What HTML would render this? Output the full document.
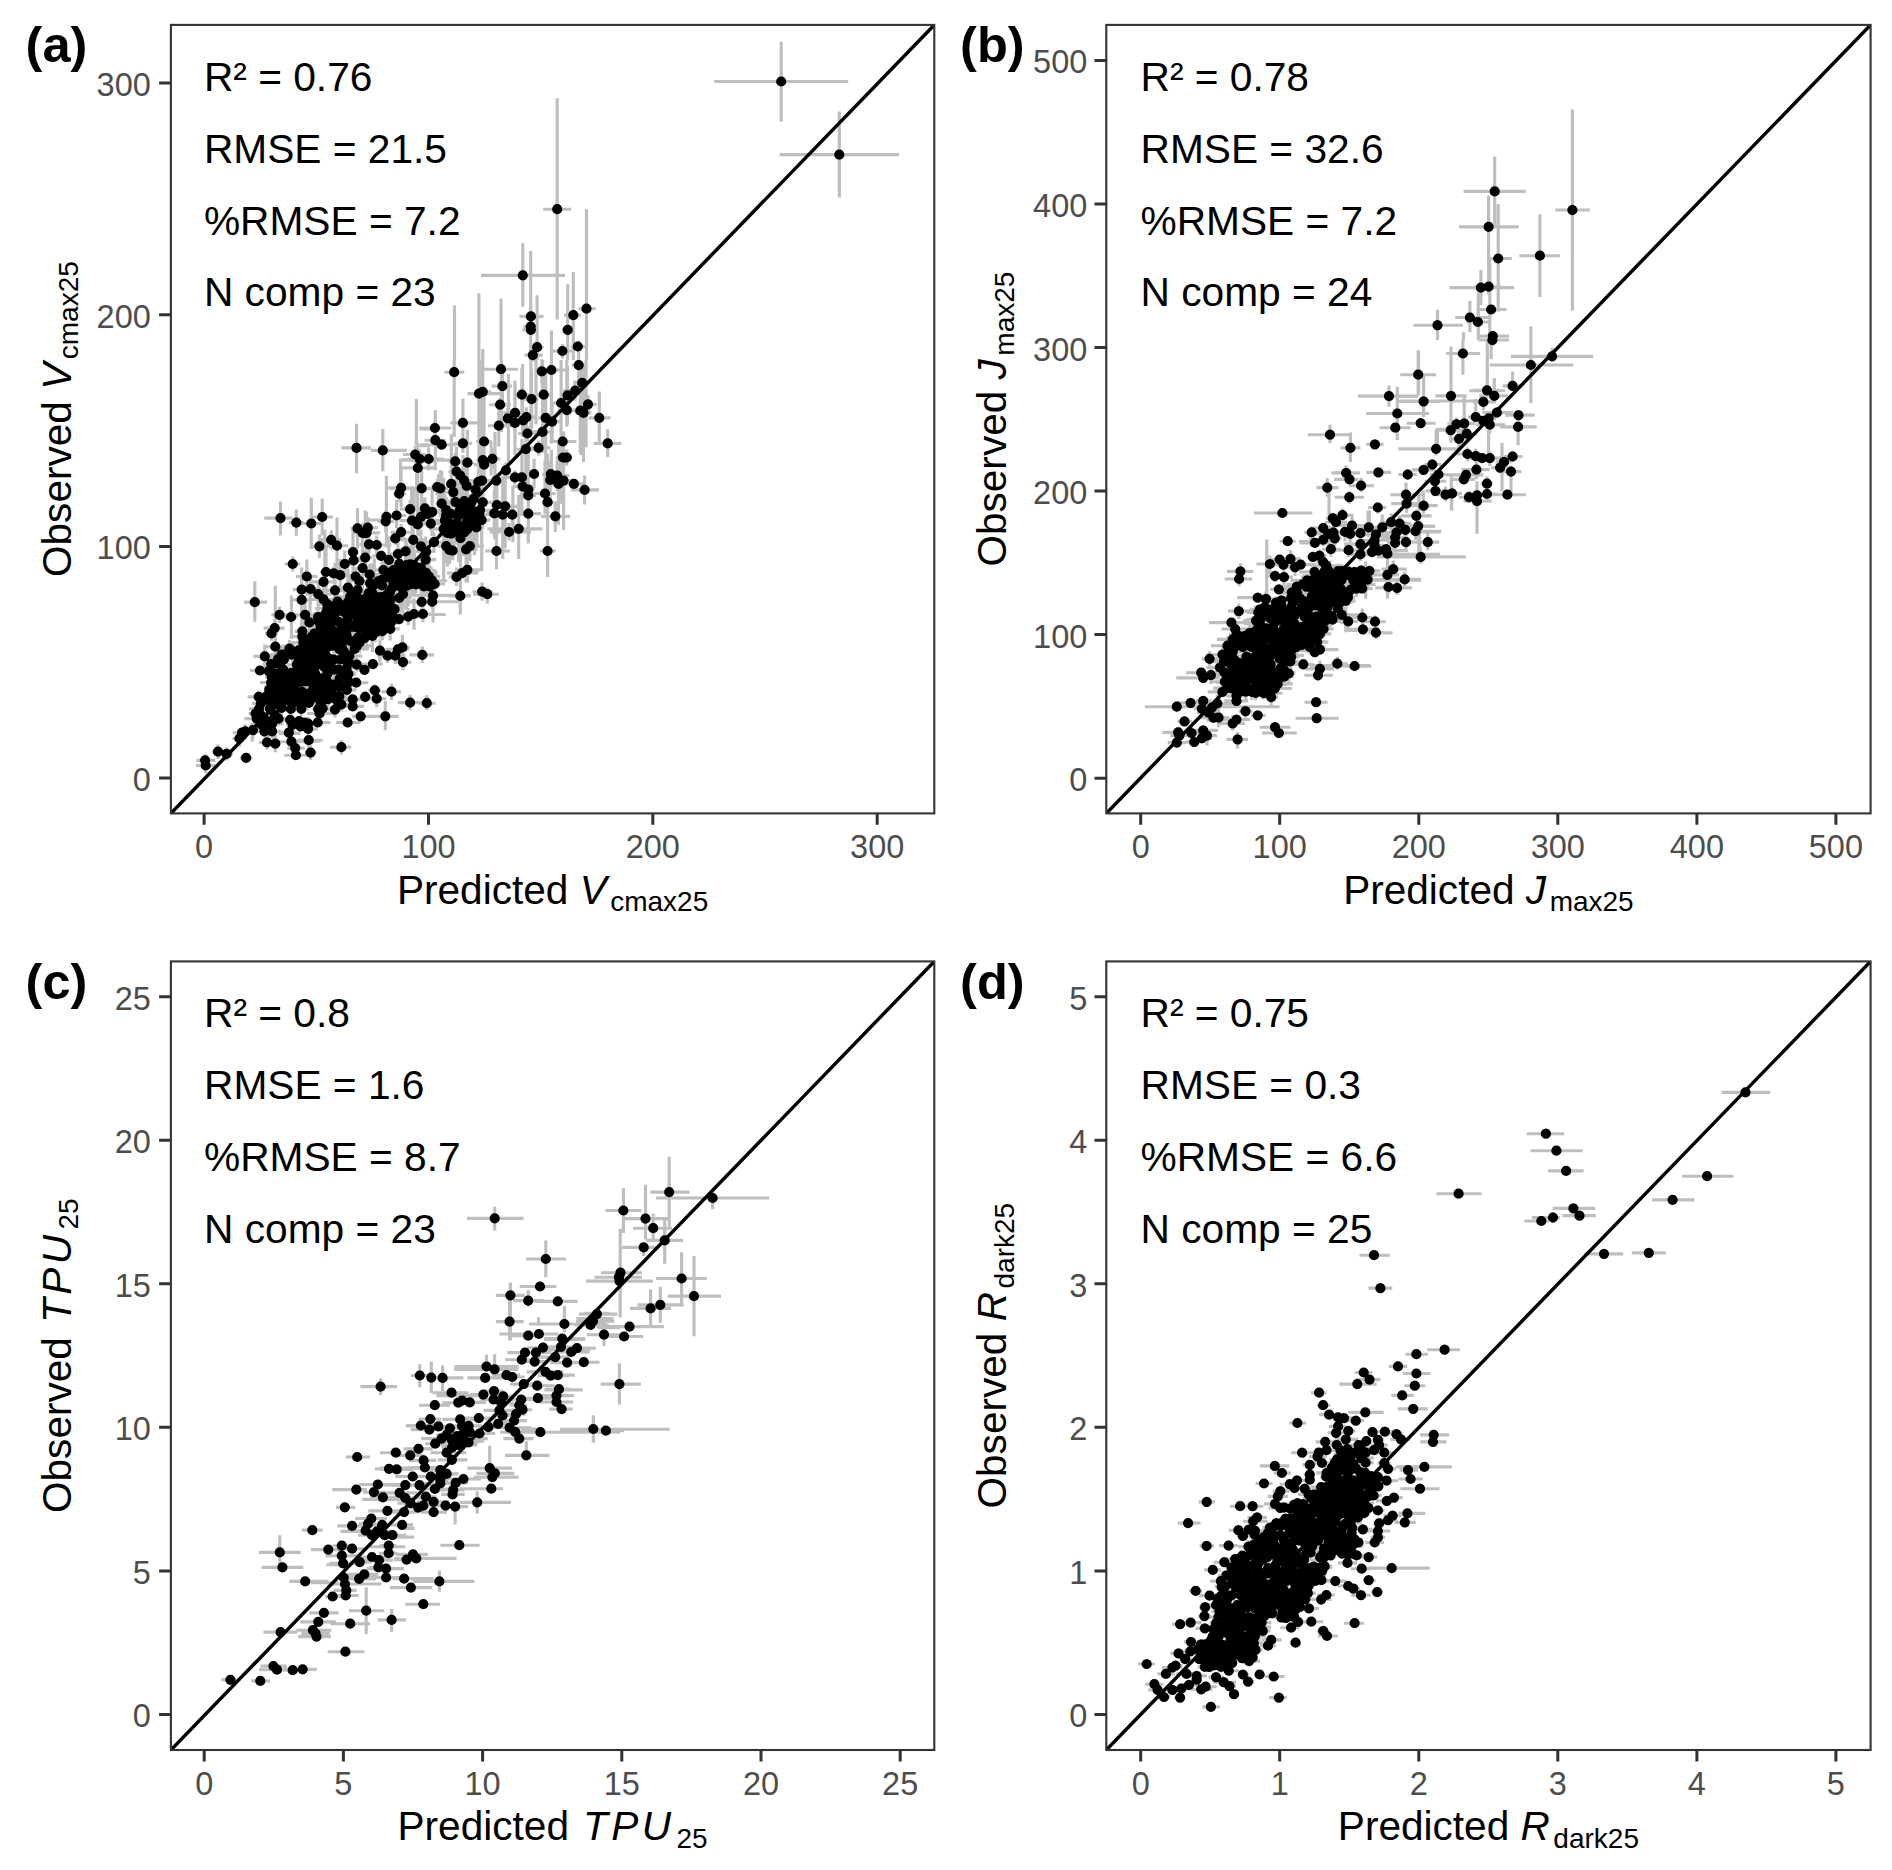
<!DOCTYPE html>
<html><head><meta charset="utf-8"><title>Observed vs predicted</title>
<style>
html,body{margin:0;padding:0;background:#fff;}
body{width:1892px;height:1870px;overflow:hidden;font-family:"Liberation Sans",sans-serif;}
svg{display:block;}
text{font-family:"Liberation Sans",sans-serif;}
.tk{font-size:32.5px;fill:#4D4D4D;}
.an{font-size:40.7px;fill:#000;}
.lb{font-size:50.5px;font-weight:bold;fill:#000;}
.tt{font-size:40.6px;fill:#000;}
</style></head><body>
<svg width="1892" height="1870" viewBox="0 0 1892 1870">
<rect width="1892" height="1870" fill="#fff"/>
<g id="panel-a">
<clipPath id="clipa"><rect x="170.9" y="24.9" width="763.4" height="788.5"/></clipPath>
<g clip-path="url(#clipa)">
<path d="M714.1 81.5H848.2M781.2 41.8V121.7M779.6 154.6H899.1M839.3 111.6V197.5M196.5 760.3H215.2M205.1 754.3V766.4M196 765.5H215.4M205.7 757.7V773.2M212.2 751.7H222.8M218 744.6V758.9M221.2 753.9H232.9M226.6 747.2V760.6M239.8 757.8H252.4M246.1 753.6V761.9M232.5 738.5H246.2M239.4 730.4V746.6M232.8 732.7H251.1M242 727V738.5M238 731.4H253.8M245.2 724.2V738.7M245.4 730.2H259.8M252.9 722.6V737.8M243.9 602.1H267M254.8 581.3V621.7M271.3 614.9H287.3M279.5 606.8V623M284.5 617H297.7M291.1 611.5V622.4M295.1 614.9H314.2M305.1 601.5V628.3M263.6 628.1H284.6M274.7 619.1V637.2M265.1 633.3H277.8M271.5 625.7V640.8M265.2 646.7H285.2M275.3 633.6V659.8M253.4 656.4H278M264.8 644.4V668.3M249.8 670.5H272.1M259.9 665.9V675M247.5 696.8H268.9M258.7 690.4V707.3M292 599.9H311.7M301.7 573.9V625.9M292.8 589.6H311.8M301.7 567.5V611.7M299.1 589H320.8M310.6 574.5V604.1M305.7 594.1H331.8M318.3 580.6V608.3M310.8 599.3H337.2M323.5 583.5V615M295 631.3H310.3M302.3 624.2V638.5M290.5 636.5H313.1M302.3 632.2V640.7M302.2 622.4H315.3M309.4 614.2V630.5M325.6 590.3H343.6M335 563V619.5M338.2 587.7H356.8M347.9 568.4V607M310.8 581.9H336.9M323.5 572.3V591.5M390.1 594.1H416.3M403 573.8V614.5M388.6 598H411.6M399.2 573V622.9M409.7 601.8H435M421.7 591.9V611.8M405.9 614H422.4M414 598.3V629.7M410.9 614H434.4M422.9 605.8V622.2M396.5 616.6H421.1M408.2 607.9V625.3M378.3 628.8H399.7M390.2 612.6V640.5M374.9 650.6H385.4M379.9 639.2V662M377.4 655.7H399.5M387.6 648.4V663.1M386.9 655.7H405.2M395.3 647.4V664.1M394.9 647.4H409.9M402.4 634.7V660M385.3 649.3H408.8M397.9 644.2V654.4M394.7 662.1H411.3M403 654.1V670.2M409.4 654.8H433.9M422.3 646.6V663.1M362.2 664.1H382.7M372.9 660.9V667.2M358.5 669.8H369.5M364.5 665.4V674.3M350.7 664.7H363.3M356.8 657.9V671.5M346 682.7H368.3M356.2 678.5V686.9M336.5 686.5H352.4M345.3 679.2V693.8M368.4 690.4H380.8M374.8 684.3V696.5M366.8 698.7H386.2M376.7 690.3V707.2M359.5 696.8H371.4M365.2 691.1V702.5M381.5 691.7H401M391.5 683.4V699.9M341.4 699.4H363.9M352.7 695.1V703.6M342 706.4H364.1M352.7 702.1V710.7M397.9 702.6H424.6M410.1 694.8V710.3M418.6 703.2H435.4M426.8 695.3V710.3M352.2 716.3H370.1M360.7 713.1V719.5M367.8 716.3H398.6M385.3 701.3V730.2M336.1 722.5H360.5M347.6 717.4V727.5M330.1 747.2H351.2M341.4 739.9V754.6M297 740.2H322.5M308.7 731.5V748.9M305 752.6H316.4M310.6 745.2V760M285.8 755.2H307.4M295.9 750.3V760.1M287.2 748.1H304.6M295.2 740V756.2M278.6 741.7H304.5M291.4 735.5V747.9M279.8 732.7H296.1M288.8 726.6V738.8M258.8 742.4H275.4M267 735.2V749.5M269.8 743.6H280.7M275.3 735.1V752.2M261.1 728.9H274.4M268.3 721V736.8M259.9 723.7H283.5M272.1 717V730.5M244.3 718.6H270.5M256.7 714.4V722.8M248.6 713.5H261.8M255.5 706.8V720.2M275.8 719.9H299.1M290.1 711.9V724.4M292.5 721.2H305.5M299.1 715.7V726.7M298.8 723.7H316.2M308.1 716.9V730.6M298.8 728.9H317.7M308.1 724.5V733.3M306.8 722.5H330.4M317.7 717.6V727.3M307.2 713.5H334.5M319.6 709.7V717.3M328.1 709.6H341.3M335 701.6V717.6M333.1 704.5H348.6M341.4 697.4V711.6M256.7 716H267.4M261.9 707.2V724.9M272.6 718.6H285.1M278.6 711.5V725.7M268.2 714.8H280.2M274.7 708.4V721.1M257.9 721.2H274.8M267 717V725.4M250.1 725H275.6M261.9 721.7V728.4M251.8 731.4H278.4M264.4 725.6V737.2M263 731.4H281.6M272.1 724.2V738.7M286.1 725H299.3M292.7 716.7V733.4M289 726.3H313.4M300.4 720.9V731.7M294.4 722.5H315.9M304.2 717.9V727M355.6 593H383.2M368.6 573.8V612.3M363.5 592.9H386.6M372.3 563.4V621.3M337.1 596.9H364.3M350.1 575.7V618.2M345.6 596.5H369.5M356.5 577.2V615.7M361.8 597.3H372.6M367.3 587.2V607.3M371.2 597.1H383.4M377.2 588.9V605.4M370.6 597H393.8M380.8 570.9V623.2M374.5 595.6H396.5M386.5 579.4V611.9M326.1 601.6H347M337.5 590V613.6M338.9 601.5H356.1M348.3 586.8V616.2M340.7 601H362.7M351.6 590.5V615.1M346.3 600.2H371.7M359 588.4V615.1M368 600.6H390.5M379.4 584.3V617.4M380.2 601.4H399.8M389.8 587.7V615.2M324.5 606H342.9M334.4 594.7V617.4M333.2 605.2H357M344.4 596.3V617.2M340.8 605.8H360.1M349.6 596.8V614.7M350.1 606.1H373.9M359.5 598.1V617.9M352.1 604.4H378M364.6 596.6V611.7M367.6 606.1H380.6M372.7 597.8V617.1M370.2 605.4H388M380.6 592.7V623.7M375.6 604.1H396.1M386 592.2V615.2M315.1 608.5H341M327.3 599.8V620.1M322 609.6H347.5M333.7 597.5V622.1M331 610.9H354.8M341.4 595.9V625.8M342.7 610.8H364.2M352.3 606.1V617.3M353 608.9H375.2M363.9 605.5V612.4M358.9 608.4H378.1M368.5 600.9V615.8M370.7 610.4H389.7M379.6 599.5V620.4M375.2 610.9H395.7M384.4 597.8V626.2M379.6 610.3H402.1M390.7 601.8V624.4M384 609.2H404M394.6 603.4V615.1M313.2 613.5H338M325.6 601V625.9M322.3 614H344.9M334.3 602.9V625.1M334.1 613.9H357.8M346.6 601.6V624.6M339.8 615H367.7M350.9 602.5V627.5M350.4 613.4H361.7M356.1 607.1V619.6M349.7 613.4H371.5M361.1 608.2V618.6M361.7 612.6H385.6M372.7 600.5V623.3M365.6 613.6H388.1M376.8 604.1V623.2M382.3 615.3H408M392.2 607.1V625.2M307 617.1H328.8M318.1 607.7V632M320.8 619.3H334.7M327.8 608.4V630.3M326.3 620.1H337.3M331.6 610.7V629.5M336.4 619.5H355.3M347.4 612.6V631.8M350.8 618.1H365.9M358.8 605V631.3M350.1 618.1H376.5M362.6 609.7V626.6M355.9 618.2H381.4M368 605.2V630.2M363.2 617.1H382M372.9 610.7V623.5M369.3 617.8H388.7M379.6 609V626.6M376.5 619.7H390.3M383.8 613V626.5M386.2 619.2H410.2M398.9 614V624.4M309.2 621.6H327.9M318.9 617.4V625.9M315.3 623.3H335.8M325.6 613.4V633.2M319.8 624.5H339.5M329.8 613.6V635.3M328.5 621.9H349.6M338.5 614V626.5M345 622.5H370.2M357.1 607.1V638M352.9 622H370.3M361.8 611.9V632M358.7 622.3H370.6M365.1 618.8V625.8M360.6 621.8H381.5M371.8 613.6V630.1M370.5 623.8H391.2M381.2 609.5V638M377 622.8H398.2M387 613.5V632.1M381.4 622.1H402.6M391.1 613.4V630.8M308.2 626.5H333.1M320.6 621.6V631.5M325.1 628.8H336.4M330.8 617.9V639.8M332 626.2H351.6M342.2 609.1V643.2M337.4 628.6H362.8M347.6 621.7V640.4M348.7 627H359.8M353.8 614.9V639M347.7 628.3H371.8M359.1 616.6V640.1M350.8 628.2H375.7M363.1 621.7V634.8M359 628.6H378.3M369.1 623.6V633.6M362.3 628.3H385M373.2 624.5V632.2M369.5 627.4H386.9M378.5 618.3V636.4M379.5 627H391.1M385.4 621.2V632.8M305.5 633.5H323.9M314.3 617.2V649.7M305.9 633.3H330.4M318.9 618.4V648.1M312.5 633H340.3M325.4 622.7V643.4M328.2 631.4H340M333.8 621.2V641.6M328.9 632.9H351.6M341.1 629.3V636.6M360.3 632.7H376.5M366.3 621V644.4M358.6 631.6H385.7M371.5 625.3V638M363.7 632.5H386.6M375.2 622.8V642.2M374.9 631.2H388.9M382.2 622.3V640.2M303.1 636.5H321.1M311.8 619.1V653.9M315.3 636.5H337.8M325.6 631.1V641.9M325.5 637.4H338.5M331.8 626.9V647.8M329.4 637.5H348.1M338.1 629.1V645.8M336.2 636.7H347.5M342.1 630V643.3M339.2 635.3H353.2M346.6 631.5V639M346.2 637.7H372.1M358 628.9V646.5M359.4 638.1H371.6M364.5 630.6V646M360.1 635.8H384.7M372.4 619.4V652.2M290 642.6H314.5M303.3 636.5V651.6M300.1 641.4H319M309.1 637.2V645.5M301.4 642H324.1M313.2 629.8V657.7M308.7 640.5H332.4M320.2 632.9V648.1M324.7 641.3H347.3M335.6 632.8V649.9M332.8 640.9H348.7M340.9 631.1V650.7M345 641.2H357.9M350.9 632.3V650.2M354.3 642.3H364.6M359.6 631.5V653M293.6 647H317.8M305.1 640.3V658.8M317.3 644.8H327.2M322.5 640.2V649.5M319.7 644.9H335.2M326.9 630.1V659.6M323.2 645.7H343.4M332.5 641.1V650.3M330.9 645.4H352.6M341.7 639.9V651M344 645.8H371.7M356.9 638.8V652.8M279.6 648.6H299.5M289.4 639.9V657.2M286.2 651.6H305.6M293.2 642.2V662.2M287.9 650.2H307.8M299 633.8V666.5M301.4 650.7H318.4M308.2 644.1V660.7M304.6 649.6H325.2M314.9 641V658.1M307.5 649.5H330.4M318.3 640.7V658.2M310.6 649.2H335.7M323.6 638.9V659.5M328.7 649.4H351.9M339.6 642.1V656.7M337.1 651.4H351.6M343.8 638.6V664.3M342.5 648.9H368.8M354.6 643.6V654.3M269.9 654.5H292M281.7 645.6V663.3M279.9 654.3H293.1M286.2 650.7V657.8M282.8 654.6H298.6M291.5 650.7V658.5M288.8 654.5H315.6M301.1 645.9V663M298.2 656.1H317.1M306.2 644.1V668.2M305.4 654.6H324.4M315 646.5V662.7M313.7 656.1H331.8M322.2 642.4V669.8M317.8 655.9H336.1M326.2 649.2V662.5M337.2 655.9H362.1M349.3 645.9V667.4M270.2 659.1H284.8M278 650.9V667.3M276.1 659.7H290.2M283.7 644.6V674.8M291.1 660.6H306.5M298.8 657.4V663.8M293.8 659.2H314.4M304.7 653.8V664.6M305.4 660.6H323.2M313.9 653.7V667.4M311.2 660.4H330M320.6 652.8V668M324.4 659H337.1M330.2 655.6V662.3M328 659.7H342.8M334 650.5V668.9M329.9 659.5H349.3M340.6 656.3V662.6M332.2 659H357.4M344.8 645.4V672.6M262.7 664.1H278.8M271.2 657.9V670.3M271.4 663.1H282.2M276.5 656.4V669.8M287.1 664.7H307.5M296.8 658.2V671.2M290.8 664.3H308.2M300.2 659.3V669.2M297.4 665H316.4M306.9 658.3V671.8M301.2 664.1H322.5M312.6 658.4V669.9M304 665.2H330.6M316.7 660.4V671.1M317.3 662.9H335.4M326.6 659V666.8M338.3 662.7H361.1M348.9 656.8V668.5M277.3 669.3H293.8M283.1 662.3V680.1M283 668.3H307.9M297.7 664.6V677.7M297.1 668.4H308.8M303 663.5V673.3M298.1 668.9H322.8M310 663.6V678.9M312.8 667.4H337.6M324.8 660V674.9M317.4 667.8H343.5M329.4 664.3V671.2M323.3 669.6H344.4M334 660.7V678.6M327.1 669.7H346.3M338.6 663.3V680.9M336.8 667.9H355M346.6 659.5V676.3M260 671.1H277M268.8 663.1V679.1M261.5 673H286.8M274 665.1V681M270.4 673.3H288.8M279.4 664.8V682.8M280.4 673H300M291.1 667.7V678.3M293.3 671.6H311.5M302.3 667.4V675.7M308.8 673.6H320.2M315.1 668.4V678.9M319.7 673.9H341.4M327.3 669.7V680.4M330.3 672.3H354.8M342.9 667V677.5M341.2 673.9H356.4M348.4 666.7V681.1M265.1 676.5H279.1M271.7 672V681.1M265.3 677.7H289.2M277.1 674.7V680.7M275.3 677.1H298.6M287.1 671.7V682.4M282.1 677.9H304.2M292.6 673.7V682.1M290.4 676H307.8M298.7 669V683.1M299.8 675.7H311M305.1 669.4V682M299.8 676.7H321.8M309.9 670.2V684.2M310.2 678.3H330.2M319.9 673.6V684.5M320.2 677.5H329.9M325.2 671.5V683.6M327.9 678.5H347.4M339.6 674.9V685.2M338.6 675.8H350.9M344.8 668.2V683.3M259.9 682.5H287M271.1 674V691M272.4 682.6H290.7M281.5 674.4V693.8M278.2 681.8H291.6M284.6 676.3V687.3M285.3 682.3H296.4M291.2 676.4V688.3M289.8 681.2H302.9M296.2 674V688.4M291.4 682H313M301.3 675.1V688.9M295.6 681.3H315.3M305.8 673.5V689.1M301.8 682.7H321.3M311.9 674.9V690.5M309 682.4H332.9M321 677.7V687.2M321.5 680.9H332.6M326.7 676.8V685.1M337.5 681.9H360.7M348.9 678.3V685.4M264.1 687.1H284.3M273.5 682.5V692.4M270.1 686.4H285.7M278.4 681.9V691M277.4 685.7H299.2M289 677.8V693.6M287 685.2H308.5M294.6 679.3V691.4M322.9 685.7H335.9M329 681.6V689.8M326.7 684.6H341.2M333.5 680.4V688.7M332 687H346.4M339.4 679.2V694.7M263.9 689.7H274.8M269.3 683.4V696.1M274.3 690H283.8M279.5 684.8V695.1M279.4 690.7H291.1M285.2 685.6V695.8M286.5 691.9H307.4M296.8 685.7V698M291 691.8H313.4M302 688.5V695.1M306.7 689.5H318.9M312.8 684.7V694.4M306.9 689H329.9M317.8 685.6V692.5M310 691.4H332.6M322.4 686.3V696.4M320.6 690.4H340.7M331 684.6V696.3M336.8 689.8H356.4M346.9 684.9V694.7M259.2 696.6H274.1M266 688.6V704.7M264 696.2H288.1M273.5 688.9V702.9M277.8 694.7H289.4M283.4 688.9V700.5M277.6 695H294.5M287 690.5V699.4M281.7 694.2H303.6M292.3 686V702.4M290.9 695.9H305.2M298.7 692.5V699.2M294.3 696.4H315.8M304.2 687.5V705.4M298.5 693.6H319.2M308.6 690.5V696.6M306.5 696.3H334.5M319.5 693.2V699.3M323.5 694.4H334.8M329.2 687.8V701M321.7 696.1H347.5M334.5 693V699.2M330.4 696.4H347.7M339.3 693V704.2M259.3 700.7H277.1M269 696.9V704.4M264.3 699.7H288.8M275.7 693.7V705.7M274.7 698.1H286.2M280 694.4V701.8M274.9 700.3H296.9M286.1 695.6V704.9M278.7 700.9H299.7M289.9 692.1V709.7M286.9 701.2H309.1M296.6 694.4V709.7M294.1 701.1H315.5M305.7 694.4V707.7M305.7 698.2H320.3M312.6 693.7V702.7M312 699.8H333.3M323.1 696.1V709M320.3 699.2H338.6M328.2 692.2V706.1M327.6 700.6H347.3M337 693.4V710.5M251.9 703.5H271.1M260.8 695.7V711.4M265.7 705.1H282M273.4 696.2V714M287.8 702.7H299.8M293.4 694.6V710.9M293.8 702.9H311.7M302.2 694.7V711.1M297.2 703H321.3M308.9 699.8V706.3M315.2 704.4H325.8M320.6 700.2V708.7M248.8 708.9H270M259 705.7V712M260.5 708.7H279.6M269.9 704.3V713.1M272.5 708H291.1M281.6 701.1V714.8M281 709H300.6M290.9 704.7V713.3M294 708.8H308.5M301.3 701.5V716.1M312.5 709H324.1M318.2 702.3V715.7M312.8 708.4H334M322.7 702.1V715.3M341.4 447.9H371M356.5 423.7V473.2M371 450.4H406.9M382.8 428.9V471.2M403 454.5H426.2M415.2 446.5V463.4M407.3 459H430.6M419.7 449.6V468.5M407.9 468H428M417.8 443.1V492.5M416.7 459H443.9M428.7 447.6V470.5M388.2 487.9H414.1M401.1 467.1V507M393.4 493.7H405.9M399.2 483.8V501.9M410.5 488.3H431.2M421.7 470.8V505.8M399.7 509.1H419.4M410.1 500V518.2M413.6 508.4H436.9M424.9 497.4V519.5M264.2 518.1H292.7M280.5 501.4V535.4M289 522.6H303.3M296.3 509.4V535.7M300.1 523.5H322M311.3 497.8V549.1M311.7 517H332.8M322.2 498.6V535.5M381.3 516.8H391.4M386.4 508V525.6M377.5 521.3H394.3M385.7 510.2V532.4M385.4 515.5H406.1M396.6 509V522M399.4 520.6H425.8M412 491V551.1M411 524.5H423.7M417.8 512.7V536.3M410.8 516.8H430.1M421 509.1V524.5M350.6 528.3H365.1M357.5 508.2V548.5M352.8 532.8H371.2M362.6 522.7V543M358 527.7H378.1M367.8 517.1V538.3M354.7 532.8H380M366.5 511.8V553.9M390.6 532.2H410.6M401.1 523.9V540.5M385.4 538.4H405.7M395.3 531.9V544.8M320.6 539.9H341M331.2 530.2V549.6M326.9 545.7H348.1M337 517.5V573.8M310.8 546.3H328.5M319.4 534.5V558.1M359.6 544.4H378M369 534.7V554M364.1 545H391.4M376.7 535.6V554.5M400.5 539.9H424.9M413.3 521.3V558.5M409.3 546.3H431.1M421 529.5V562.7M411.7 551.4H435.6M426.1 544.8V560.2M347.5 552.1H358.7M353 527.3V576.9M342.9 560.4H366M353.6 549V571.9M334.9 564H355.1M344.7 550.6V577.5M358.5 557.6H372.2M365.2 549.9V565.3M372.5 555.9H389.5M381.2 550.6V561.2M383 559.8H394.9M388.9 536.5V583.1M388 554H406.9M397.9 533.2V574.8M396.8 551.4H413.1M405.6 539.3V564.4M284.6 564H300.2M292.7 556.5V571.5M356.9 568.1H368M362.6 541.7V594.6M394.9 564.9H420.6M406.9 542.2V590.5M402.5 565.6H427.8M414.6 552.7V582.1M295.8 576.5H317.5M306.8 559.6V593.3M319.9 572H331.6M326 546.4V597.6M325.2 573.3H341.7M333.7 566.9V579.6M330.9 575.2H351.1M340.2 558.7V591.7M348.1 576.5H362.4M355.6 567.3V585.7M348.3 581H368.7M359.4 577.1V584.9M360.8 574.5H379.6M369.7 565.3V583.8M376.3 577.1H397M387.6 569.4V584.9M391.2 578.4H411.2M400.5 547.8V609M398.4 584.2H425.8M410.7 571.1V597.7M412.1 581H428M421 560.9V601.3M382.7 588H403M392.1 579.4V598.9M388.5 563.8H408.7M399.3 557.2V570.5M390.8 567.8H404M397.9 554.9V580.7M398.8 567.7H424.2M411.6 546.1V589.4M409.8 567.8H432.6M421 563.8V571.8M374.3 570H391.4M383.4 554.3V585.7M380.7 572.5H393.8M387.1 562.9V582M380.8 570H404.5M393.5 562.7V577.3M407 571.8H434.9M420.1 563.3V579.5M410.9 572.8H437.7M426.1 556.4V594M386.8 574.3H407.4M396.8 560.2V588.4M398.1 576.2H417.5M407.1 558.6V593.9M406 577.5H423.8M412.9 567.9V587M406.2 576.6H428.5M418.4 563.5V589.6M416.1 576.6H440.2M429 553.3V601.8M367.7 581.3H387.1M378 573.8V588.8M374.4 579.8H388.4M382 562.2V597.4M383.4 581.5H405M393.3 575.7V587.3M396.8 579.6H423M408.1 555.4V606.8M416.6 580.6H432.8M424.9 567.1V593.7M364.1 583.3H375.4M370.1 563.4V603.2M367.3 584.7H381.9M374.3 558.5V610.8M375.2 585.3H394.4M382.2 561.6V609M388.8 586.3H411.1M400 562.4V610.1M398.6 586H412.8M406.4 562.4V609.7M405 584.5H429.1M415.9 575.9V593.2M352.4 590H363.3M357.6 580.8V599.3M343.1 593.1H369.4M355.9 587.9V598.4M376.9 592.7H403.6M389.8 582.7V602.6M350.7 599.6H377.4M363.2 592.6V606.5M366.1 599.7H383.4M373.4 574V625.4M378.9 597.3H398.9M389.6 589.2V605.4M316.5 604.1H337.3M327.3 598.6V609.7M357 613.1H374.3M365.1 599.7V626.4M373.6 616.4H393.5M382.9 607.1V625.7M313.6 619.8H333.3M324.5 609V630.5M444.3 372.2H464.2M454.2 360V437M483.4 369.2H518.1M536.2 371.3H546.8M541.8 359.3V383.3M539.4 370H565.8M551.4 356.3V383.8M571.7 365.1H585.2M578.7 340.6V389.7M491.7 386.1H512.1M502.4 369V403.1M467.4 393.6H500.1M475.6 391.8H491.2M482.8 349.1V434.5M513.3 394.7H530.7M521.9 368.1V421.2M523.5 399.1H538.3M531.6 369.1V429.1M535 394.7H550.9M543.7 379V410.3M489.2 404.7H511M500.1 398.1V411.2M573.1 382.8H590.2M582.2 374.8V390.9M563.3 390.5H586.4M575.2 380.4V400.7M561.2 395.3H574.7M567.5 366.2V424.4M550.6 403H570.1M561.1 394.9V411.1M557.7 410.1H577.6M566.8 405.5V414.6M579.2 404.3H596.7M588 395.1V413.5M568.7 410.7H590.5M580.3 368.1V453.3M575.3 412.9H591.3M583.5 363.6V462.1M588.7 417.8H610.5M599.3 391.4V442.1M503.3 412.9H525.2M515.1 384.3V441.5M500 418.4H516.2M507.8 408.6V428.2M504.5 422.9H523.3M514.9 391V454.8M515.2 417.1H536.1M526.4 407.3V427M516.6 420.3H528.5M523.2 412.1V428.5M538.3 417.8H554.3M545.7 368.1V467.4M545.1 421.6H559.5M552.1 402.7V440.5M488 425.7H511.5M498.8 404.8V446.6M450.5 422.9H477.5M462.9 409.6V436.1M453.8 443.4H472.2M462.9 433.8V453M419.3 428H451.3M434.9 420.3V437M424.6 440.2H445.5M435.3 410.2V470.2M430.9 444.7H450.7M441.7 439.4V450M476.1 441.5H491.8M484.1 397V486M518 433.5H536.7M527.4 426.2V440.9M531.5 431.9H554M542.5 411V452.7M549.5 441.5H576.5M593.8 443.4H621.4M607.7 429.3V456.9M516.6 449.2H534.5M525.8 413.5V484.9M528.2 447.9H550.4M538.6 440.4V455.4M555.6 457.5H570.7M563 437.7V477.4M561.4 457.5H571.4M566.8 449.5V465.5M448.6 461.4H461.6M455.2 453.1V469.7M460.2 462.7H473.7M467.4 429.7V495.6M448.4 471.7H465.1M456.5 447.1V496.2M454 475.5H467.4M460.3 469.4V481.6M454.5 480.6H473.3M464.2 463.7V497.6M461.5 485.8H471.2M466.7 480.4V491.1M476.6 460.1H489.3M482.8 451.8V468.4M483 458.8H500.4M492.4 448.5V469.1M473.7 464.6H492.7M484.1 443.5V485.7M500.7 470.4H511.3M505.9 462.4V478.4M487.1 480.6H504.3M496.3 473.6V487.7M503.8 477.4H526.7M514.9 470.6V484.3M516.4 477.4H528.2M521.9 439.1V515.8M528.3 474H538.8M534.1 467.7V480.2M541.8 474.2H561.5M550.8 461.6V486.9M544.9 475.5H569.5M557.2 460V491M543.8 480H556.9M550.2 461.4V498.6M552.7 480.6H574M563.6 431.4V529.9M545.6 483.9H572.6M558.5 442.9V524.8M565.2 483.9H583.1M573.9 479.1V488.6M570.7 489.9H598.9M584.6 475.5V504.4M513.4 486.4H533.1M522.6 474.5V498.3M522 489.6H534.6M528.3 484.6V494.6M519.6 495.4H536M528.3 447.3V543.5M532.4 493.5H555.6M545 485.4V501.6M542 502.2H553.6M547.6 453.5V550.9M431.3 487.1H442M437.2 479.1V495M433.8 488.3H448.3M440.4 470.1V506.6M446 483.9H455.8M451.3 434.2V533.5M444.8 492.2H461.2M453.3 483.7V500.7M467.8 481.9H487.7M478.3 470.2V493.7M475 480.6H490.6M482.1 445.8V515.5M464.6 489.6H485.9M475.7 482.4V496.9M420.5 512.1H444.4M432.1 488.1V536.1M416.9 514H436.2M427.6 510.6V517.4M419.5 523.6H443.4M430.8 516.7V530.5M435.7 503.7H448.8M441.7 470.9V536.6M434.3 510.2H456.7M446.2 497.2V523.1M440.8 514H462.5M451.3 491.8V537.3M432.3 520.4H459M444.9 494.5V546.3M491.2 505H503.4M496.9 478.8V531.2M492.4 506.3H517.4M505.2 464.2V548.4M486.4 513.4H503.3M494.3 489.7V537M489.8 514.7H515.9M502.7 500.5V528.8M504.3 514.7H520.7M512.3 506.8V522.5M517.3 513.6H541.1M528.3 508V519.2M541.2 516.3H570.1M555.3 501.2V532M469.7 527.5H484.3M476.4 524.3V530.6M499.6 532H518.8M509.1 523.1V540.8M506 528.8H531.3M518.7 522.8V534.8M424.4 542.2H441.9M434 532.5V552M414.2 559.6H436.2M425.7 536.4V582.8M437.4 546.1H455M446.2 529.3V562.9M441.9 549.9H455.5M449.4 536V563.9M443.4 550.6H463.2M452.6 541V560.2M454.3 549.3H477.3M466.1 516.4V582.2M457.5 546.1H484M469.9 531V561.2M485.1 551H510M496.5 532.7V569.2M539.9 551H555.9M547.6 525.6V576.9M404 571.8H422.5M412.8 548.5V595M423.2 580.7H447.1M432.1 570.5V590.9M423.7 584H445.1M434.7 569.3V599.1M448.8 576.9H463.4M456.5 567.6V585.9M451.3 573H474.4M462.2 566.3V578.9M456.4 569.8H480.7M467.4 556.9V582.8M472.6 591.7H492.6M482.1 582.6V600.8M476.3 594.2H496.5M487.3 587.5V603.6M448.8 595.9H470.9M460.3 577.3V614.5M423 595.5H442.7M433.1 568.7V622.4M463.3 498.9H482.9M473.6 493.6V504.2M444 502.1H468.9M455.5 490.9V519.1M454 501.1H475.4M464.3 470.9V531.4M462.3 502.8H478.4M471.1 494V511.6M474 502.3H492M482.8 481V523.5M453.5 505.6H471.4M463.1 455.1V556.1M454 509.8H465.9M460 479.4V540.2M452.7 512.1H474.4M464.3 478.5V545.8M459.6 511.1H484.9M472.4 488.7V535.2M469.4 510.2H490.8M480 498.5V521.8M438.8 515.3H453.5M446.1 508.6V522M446.9 515.5H468.1M458.6 469.1V561.9M461.3 516.2H479.5M469.7 494.8V537.6M466.7 514.4H479.4M473.7 480.3V548.6M468.9 514.7H490.3M479.3 508.1V521.4M460.7 521.1H472.6M467.1 482.4V559.9M457.7 519.6H482.8M470.6 498.6V540.5M473.4 520.1H490.1M481.7 469.2V571M443.6 523H454.4M449 502.3V543.8M444.2 523.1H471.9M457.1 519V527.3M455.8 524.7H477.8M466.9 487.3V562.2M465.1 523.7H484.1M474.5 492.2V555.2M432.4 528.9H453.7M443.7 477.8V579.9M441.6 529.2H458.3M449.6 513V545.4M442.9 530.4H467M455.2 515.6V545.2M450.4 527.5H471.7M461 520.7V534.3M455.7 529.3H479.8M467.2 518.4V540.2M440.8 532.9H455.3M447.4 499.3V566.4M438.1 533.7H460.7M451.3 526V542.4M456.2 532.4H473.5M464.2 525.6V539.1M447.8 538.2H474.5M460.4 509V567.4M399.3 564.3H419.5M410.4 546V582.6M397.2 570.6H412.1M404.6 567.1V574.1M406 580.8H426.1M416.1 574.3V587.2M416.1 586.5H431.1M424 576.7V596.4M421.8 586.5H437.6M429.7 579.8V593.3M543.1 209.2H571.3M557.2 98.2V319.6M481.1 275.3H564.9M522.8 243.2V306.7M519.5 316.4H543.5M530.9 307.7V323.7M523.5 326.6H538.2M530.7 319V335.5M522.4 329.8H538M530.9 326.4V332.6M564 315.1H580.8M573.3 309.8V321.2M578.4 308.7H595.7M586.5 209.2V360M562.2 329.8H573.9M567.7 324.4V335.7M530.3 347.2H543.7M537.1 337.4V358.2M524.5 355.1H542.7M532.8 347.6V361.3M552.8 351H573.7M562.4 343.9V358.4M570.7 346.5H585M577.8 342.6V350M421.7 601.7H442.9M432.2 593.5V608.8M275.3 585.8V622.4M291.4 595.4V639M310 596.7V633.9M252.2 731.4V741.7M299.1 741.1H319.6M284.3 755.2H305.5M278.6 733.4H300.4M416.5 400V453.9M386.4 475.7V547.6M365.2 510.4V528.3M324.8 529.6V570.7M417.8 469.3V512.9M400.5 459V489.8M413.3 489.8V515.5M396.6 500.1V528.3M365.8 520H382.5M390.2 488.6H430M419.7 428.9H430M419.7 445.6H430M400.5 459.7H415.9M401.8 468H430M416.3 399.1V449.8M462.9 398.5V443.4M478.9 360V501.2M482.1 360V481.9M501.4 360V431.9M508.4 374.1V462.7M514.9 380.5V449.8M522.6 363.9V437M530.9 360V431.9M536 360V424.2M542.5 360V449.8M551.4 360V443.4M561.1 360V449.8M566.8 360V426.7M581 367.7V455M586.1 360V447.3M495 431.9V539.7M502.7 475.5V558.9M518.7 494.8V558.9M561.7 442.1V503.7M545 460.1V514M512.9 485.8V542.2M528.3 501.2V529.4M477 532V544.8M416.7 472.9V511.4M411.6 489.6V511.4M438.5 474.2V501.2M491.1 442.1V475.5M551.4 449.8V475.5M534.1 458.8V488.3M420.5 444.7H457.8M400 460.1H451.3M400 467.8H434.7M487.3 528.8H542.5M489.8 532H530.9M412.8 595.5H469.3M473.2 594.2H498.8M446.8 573H478.3M454.5 305.5V360M478.9 293.3V360M501 298.4V360M530.7 250.9V360M537.1 295.2V360M573.3 272.1V360M567.7 284.3V360M551.4 330.5V360M547.7 560V576.7M439.3 595.3H458.5M439.3 601.7H461.1M429 614.5H445.7" stroke="#BEBEBE" stroke-width="3.15" fill="none"/>
<line x1="170.9" y1="813.4" x2="934.3" y2="24.9" stroke="#000" stroke-width="3.45"/>
<path d="M776.1 81.5a5.1 5.1 0 1 0 10.2 0a5.1 5.1 0 1 0 -10.2 0M834.2 154.6a5.1 5.1 0 1 0 10.2 0a5.1 5.1 0 1 0 -10.2 0M200 760.3a5.1 5.1 0 1 0 10.2 0a5.1 5.1 0 1 0 -10.2 0M200.6 765.5a5.1 5.1 0 1 0 10.2 0a5.1 5.1 0 1 0 -10.2 0M212.9 751.7a5.1 5.1 0 1 0 10.2 0a5.1 5.1 0 1 0 -10.2 0M221.5 753.9a5.1 5.1 0 1 0 10.2 0a5.1 5.1 0 1 0 -10.2 0M241 757.8a5.1 5.1 0 1 0 10.2 0a5.1 5.1 0 1 0 -10.2 0M234.3 738.5a5.1 5.1 0 1 0 10.2 0a5.1 5.1 0 1 0 -10.2 0M236.9 732.7a5.1 5.1 0 1 0 10.2 0a5.1 5.1 0 1 0 -10.2 0M240.1 731.4a5.1 5.1 0 1 0 10.2 0a5.1 5.1 0 1 0 -10.2 0M247.8 730.2a5.1 5.1 0 1 0 10.2 0a5.1 5.1 0 1 0 -10.2 0M249.7 602.1a5.1 5.1 0 1 0 10.2 0a5.1 5.1 0 1 0 -10.2 0M274.4 614.9a5.1 5.1 0 1 0 10.2 0a5.1 5.1 0 1 0 -10.2 0M286 617a5.1 5.1 0 1 0 10.2 0a5.1 5.1 0 1 0 -10.2 0M300 614.9a5.1 5.1 0 1 0 10.2 0a5.1 5.1 0 1 0 -10.2 0M269.6 628.1a5.1 5.1 0 1 0 10.2 0a5.1 5.1 0 1 0 -10.2 0M266.4 633.3a5.1 5.1 0 1 0 10.2 0a5.1 5.1 0 1 0 -10.2 0M270.2 646.7a5.1 5.1 0 1 0 10.2 0a5.1 5.1 0 1 0 -10.2 0M259.7 656.4a5.1 5.1 0 1 0 10.2 0a5.1 5.1 0 1 0 -10.2 0M254.8 670.5a5.1 5.1 0 1 0 10.2 0a5.1 5.1 0 1 0 -10.2 0M253.6 696.8a5.1 5.1 0 1 0 10.2 0a5.1 5.1 0 1 0 -10.2 0M296.6 599.9a5.1 5.1 0 1 0 10.2 0a5.1 5.1 0 1 0 -10.2 0M296.6 589.6a5.1 5.1 0 1 0 10.2 0a5.1 5.1 0 1 0 -10.2 0M305.5 589a5.1 5.1 0 1 0 10.2 0a5.1 5.1 0 1 0 -10.2 0M313.2 594.1a5.1 5.1 0 1 0 10.2 0a5.1 5.1 0 1 0 -10.2 0M318.4 599.3a5.1 5.1 0 1 0 10.2 0a5.1 5.1 0 1 0 -10.2 0M297.2 631.3a5.1 5.1 0 1 0 10.2 0a5.1 5.1 0 1 0 -10.2 0M297.2 636.5a5.1 5.1 0 1 0 10.2 0a5.1 5.1 0 1 0 -10.2 0M304.3 622.4a5.1 5.1 0 1 0 10.2 0a5.1 5.1 0 1 0 -10.2 0M329.9 590.3a5.1 5.1 0 1 0 10.2 0a5.1 5.1 0 1 0 -10.2 0M342.8 587.7a5.1 5.1 0 1 0 10.2 0a5.1 5.1 0 1 0 -10.2 0M318.4 581.9a5.1 5.1 0 1 0 10.2 0a5.1 5.1 0 1 0 -10.2 0M397.9 594.1a5.1 5.1 0 1 0 10.2 0a5.1 5.1 0 1 0 -10.2 0M394.1 598a5.1 5.1 0 1 0 10.2 0a5.1 5.1 0 1 0 -10.2 0M416.6 601.8a5.1 5.1 0 1 0 10.2 0a5.1 5.1 0 1 0 -10.2 0M408.9 614a5.1 5.1 0 1 0 10.2 0a5.1 5.1 0 1 0 -10.2 0M417.8 614a5.1 5.1 0 1 0 10.2 0a5.1 5.1 0 1 0 -10.2 0M403.1 616.6a5.1 5.1 0 1 0 10.2 0a5.1 5.1 0 1 0 -10.2 0M385.1 628.8a5.1 5.1 0 1 0 10.2 0a5.1 5.1 0 1 0 -10.2 0M374.8 650.6a5.1 5.1 0 1 0 10.2 0a5.1 5.1 0 1 0 -10.2 0M382.5 655.7a5.1 5.1 0 1 0 10.2 0a5.1 5.1 0 1 0 -10.2 0M390.2 655.7a5.1 5.1 0 1 0 10.2 0a5.1 5.1 0 1 0 -10.2 0M397.3 647.4a5.1 5.1 0 1 0 10.2 0a5.1 5.1 0 1 0 -10.2 0M392.8 649.3a5.1 5.1 0 1 0 10.2 0a5.1 5.1 0 1 0 -10.2 0M397.9 662.1a5.1 5.1 0 1 0 10.2 0a5.1 5.1 0 1 0 -10.2 0M417.2 654.8a5.1 5.1 0 1 0 10.2 0a5.1 5.1 0 1 0 -10.2 0M367.8 664.1a5.1 5.1 0 1 0 10.2 0a5.1 5.1 0 1 0 -10.2 0M359.4 669.8a5.1 5.1 0 1 0 10.2 0a5.1 5.1 0 1 0 -10.2 0M351.7 664.7a5.1 5.1 0 1 0 10.2 0a5.1 5.1 0 1 0 -10.2 0M351.1 682.7a5.1 5.1 0 1 0 10.2 0a5.1 5.1 0 1 0 -10.2 0M340.2 686.5a5.1 5.1 0 1 0 10.2 0a5.1 5.1 0 1 0 -10.2 0M369.7 690.4a5.1 5.1 0 1 0 10.2 0a5.1 5.1 0 1 0 -10.2 0M371.6 698.7a5.1 5.1 0 1 0 10.2 0a5.1 5.1 0 1 0 -10.2 0M360.1 696.8a5.1 5.1 0 1 0 10.2 0a5.1 5.1 0 1 0 -10.2 0M386.4 691.7a5.1 5.1 0 1 0 10.2 0a5.1 5.1 0 1 0 -10.2 0M347.6 699.4a5.1 5.1 0 1 0 10.2 0a5.1 5.1 0 1 0 -10.2 0M347.6 706.4a5.1 5.1 0 1 0 10.2 0a5.1 5.1 0 1 0 -10.2 0M405 702.6a5.1 5.1 0 1 0 10.2 0a5.1 5.1 0 1 0 -10.2 0M421.7 703.2a5.1 5.1 0 1 0 10.2 0a5.1 5.1 0 1 0 -10.2 0M355.6 716.3a5.1 5.1 0 1 0 10.2 0a5.1 5.1 0 1 0 -10.2 0M380.2 716.3a5.1 5.1 0 1 0 10.2 0a5.1 5.1 0 1 0 -10.2 0M342.5 722.5a5.1 5.1 0 1 0 10.2 0a5.1 5.1 0 1 0 -10.2 0M336.3 747.2a5.1 5.1 0 1 0 10.2 0a5.1 5.1 0 1 0 -10.2 0M303.6 740.2a5.1 5.1 0 1 0 10.2 0a5.1 5.1 0 1 0 -10.2 0M305.5 752.6a5.1 5.1 0 1 0 10.2 0a5.1 5.1 0 1 0 -10.2 0M290.8 755.2a5.1 5.1 0 1 0 10.2 0a5.1 5.1 0 1 0 -10.2 0M290.1 748.1a5.1 5.1 0 1 0 10.2 0a5.1 5.1 0 1 0 -10.2 0M286.3 741.7a5.1 5.1 0 1 0 10.2 0a5.1 5.1 0 1 0 -10.2 0M283.7 732.7a5.1 5.1 0 1 0 10.2 0a5.1 5.1 0 1 0 -10.2 0M261.9 742.4a5.1 5.1 0 1 0 10.2 0a5.1 5.1 0 1 0 -10.2 0M270.2 743.6a5.1 5.1 0 1 0 10.2 0a5.1 5.1 0 1 0 -10.2 0M263.2 728.9a5.1 5.1 0 1 0 10.2 0a5.1 5.1 0 1 0 -10.2 0M267 723.7a5.1 5.1 0 1 0 10.2 0a5.1 5.1 0 1 0 -10.2 0M251.6 718.6a5.1 5.1 0 1 0 10.2 0a5.1 5.1 0 1 0 -10.2 0M250.4 713.5a5.1 5.1 0 1 0 10.2 0a5.1 5.1 0 1 0 -10.2 0M285 719.9a5.1 5.1 0 1 0 10.2 0a5.1 5.1 0 1 0 -10.2 0M294 721.2a5.1 5.1 0 1 0 10.2 0a5.1 5.1 0 1 0 -10.2 0M303 723.7a5.1 5.1 0 1 0 10.2 0a5.1 5.1 0 1 0 -10.2 0M303 728.9a5.1 5.1 0 1 0 10.2 0a5.1 5.1 0 1 0 -10.2 0M312.6 722.5a5.1 5.1 0 1 0 10.2 0a5.1 5.1 0 1 0 -10.2 0M314.5 713.5a5.1 5.1 0 1 0 10.2 0a5.1 5.1 0 1 0 -10.2 0M329.9 709.6a5.1 5.1 0 1 0 10.2 0a5.1 5.1 0 1 0 -10.2 0M336.3 704.5a5.1 5.1 0 1 0 10.2 0a5.1 5.1 0 1 0 -10.2 0M256.8 716a5.1 5.1 0 1 0 10.2 0a5.1 5.1 0 1 0 -10.2 0M273.5 718.6a5.1 5.1 0 1 0 10.2 0a5.1 5.1 0 1 0 -10.2 0M269.6 714.8a5.1 5.1 0 1 0 10.2 0a5.1 5.1 0 1 0 -10.2 0M261.9 721.2a5.1 5.1 0 1 0 10.2 0a5.1 5.1 0 1 0 -10.2 0M256.8 725a5.1 5.1 0 1 0 10.2 0a5.1 5.1 0 1 0 -10.2 0M259.3 731.4a5.1 5.1 0 1 0 10.2 0a5.1 5.1 0 1 0 -10.2 0M267 731.4a5.1 5.1 0 1 0 10.2 0a5.1 5.1 0 1 0 -10.2 0M287.6 725a5.1 5.1 0 1 0 10.2 0a5.1 5.1 0 1 0 -10.2 0M295.3 726.3a5.1 5.1 0 1 0 10.2 0a5.1 5.1 0 1 0 -10.2 0M299.1 722.5a5.1 5.1 0 1 0 10.2 0a5.1 5.1 0 1 0 -10.2 0M363.5 593a5.1 5.1 0 1 0 10.2 0a5.1 5.1 0 1 0 -10.2 0M367.2 592.9a5.1 5.1 0 1 0 10.2 0a5.1 5.1 0 1 0 -10.2 0M345 596.9a5.1 5.1 0 1 0 10.2 0a5.1 5.1 0 1 0 -10.2 0M351.4 596.5a5.1 5.1 0 1 0 10.2 0a5.1 5.1 0 1 0 -10.2 0M362.2 597.3a5.1 5.1 0 1 0 10.2 0a5.1 5.1 0 1 0 -10.2 0M372.1 597.1a5.1 5.1 0 1 0 10.2 0a5.1 5.1 0 1 0 -10.2 0M375.7 597a5.1 5.1 0 1 0 10.2 0a5.1 5.1 0 1 0 -10.2 0M381.4 595.6a5.1 5.1 0 1 0 10.2 0a5.1 5.1 0 1 0 -10.2 0M332.4 601.6a5.1 5.1 0 1 0 10.2 0a5.1 5.1 0 1 0 -10.2 0M343.2 601.5a5.1 5.1 0 1 0 10.2 0a5.1 5.1 0 1 0 -10.2 0M346.5 601a5.1 5.1 0 1 0 10.2 0a5.1 5.1 0 1 0 -10.2 0M353.9 600.2a5.1 5.1 0 1 0 10.2 0a5.1 5.1 0 1 0 -10.2 0M374.3 600.6a5.1 5.1 0 1 0 10.2 0a5.1 5.1 0 1 0 -10.2 0M384.7 601.4a5.1 5.1 0 1 0 10.2 0a5.1 5.1 0 1 0 -10.2 0M329.3 606a5.1 5.1 0 1 0 10.2 0a5.1 5.1 0 1 0 -10.2 0M339.3 605.2a5.1 5.1 0 1 0 10.2 0a5.1 5.1 0 1 0 -10.2 0M344.5 605.8a5.1 5.1 0 1 0 10.2 0a5.1 5.1 0 1 0 -10.2 0M354.4 606.1a5.1 5.1 0 1 0 10.2 0a5.1 5.1 0 1 0 -10.2 0M359.5 604.4a5.1 5.1 0 1 0 10.2 0a5.1 5.1 0 1 0 -10.2 0M367.6 606.1a5.1 5.1 0 1 0 10.2 0a5.1 5.1 0 1 0 -10.2 0M375.5 605.4a5.1 5.1 0 1 0 10.2 0a5.1 5.1 0 1 0 -10.2 0M380.9 604.1a5.1 5.1 0 1 0 10.2 0a5.1 5.1 0 1 0 -10.2 0M322.2 608.5a5.1 5.1 0 1 0 10.2 0a5.1 5.1 0 1 0 -10.2 0M328.6 609.6a5.1 5.1 0 1 0 10.2 0a5.1 5.1 0 1 0 -10.2 0M336.3 610.9a5.1 5.1 0 1 0 10.2 0a5.1 5.1 0 1 0 -10.2 0M347.2 610.8a5.1 5.1 0 1 0 10.2 0a5.1 5.1 0 1 0 -10.2 0M358.8 608.9a5.1 5.1 0 1 0 10.2 0a5.1 5.1 0 1 0 -10.2 0M363.4 608.4a5.1 5.1 0 1 0 10.2 0a5.1 5.1 0 1 0 -10.2 0M374.5 610.4a5.1 5.1 0 1 0 10.2 0a5.1 5.1 0 1 0 -10.2 0M379.3 610.9a5.1 5.1 0 1 0 10.2 0a5.1 5.1 0 1 0 -10.2 0M385.6 610.3a5.1 5.1 0 1 0 10.2 0a5.1 5.1 0 1 0 -10.2 0M389.5 609.2a5.1 5.1 0 1 0 10.2 0a5.1 5.1 0 1 0 -10.2 0M320.5 613.5a5.1 5.1 0 1 0 10.2 0a5.1 5.1 0 1 0 -10.2 0M329.2 614a5.1 5.1 0 1 0 10.2 0a5.1 5.1 0 1 0 -10.2 0M341.5 613.9a5.1 5.1 0 1 0 10.2 0a5.1 5.1 0 1 0 -10.2 0M345.8 615a5.1 5.1 0 1 0 10.2 0a5.1 5.1 0 1 0 -10.2 0M351 613.4a5.1 5.1 0 1 0 10.2 0a5.1 5.1 0 1 0 -10.2 0M356 613.4a5.1 5.1 0 1 0 10.2 0a5.1 5.1 0 1 0 -10.2 0M367.6 612.6a5.1 5.1 0 1 0 10.2 0a5.1 5.1 0 1 0 -10.2 0M371.7 613.6a5.1 5.1 0 1 0 10.2 0a5.1 5.1 0 1 0 -10.2 0M387.1 615.3a5.1 5.1 0 1 0 10.2 0a5.1 5.1 0 1 0 -10.2 0M313 617.1a5.1 5.1 0 1 0 10.2 0a5.1 5.1 0 1 0 -10.2 0M322.7 619.3a5.1 5.1 0 1 0 10.2 0a5.1 5.1 0 1 0 -10.2 0M326.5 620.1a5.1 5.1 0 1 0 10.2 0a5.1 5.1 0 1 0 -10.2 0M342.3 619.5a5.1 5.1 0 1 0 10.2 0a5.1 5.1 0 1 0 -10.2 0M353.7 618.1a5.1 5.1 0 1 0 10.2 0a5.1 5.1 0 1 0 -10.2 0M357.5 618.1a5.1 5.1 0 1 0 10.2 0a5.1 5.1 0 1 0 -10.2 0M362.9 618.2a5.1 5.1 0 1 0 10.2 0a5.1 5.1 0 1 0 -10.2 0M367.8 617.1a5.1 5.1 0 1 0 10.2 0a5.1 5.1 0 1 0 -10.2 0M374.5 617.8a5.1 5.1 0 1 0 10.2 0a5.1 5.1 0 1 0 -10.2 0M378.7 619.7a5.1 5.1 0 1 0 10.2 0a5.1 5.1 0 1 0 -10.2 0M393.8 619.2a5.1 5.1 0 1 0 10.2 0a5.1 5.1 0 1 0 -10.2 0M313.8 621.6a5.1 5.1 0 1 0 10.2 0a5.1 5.1 0 1 0 -10.2 0M320.5 623.3a5.1 5.1 0 1 0 10.2 0a5.1 5.1 0 1 0 -10.2 0M324.7 624.5a5.1 5.1 0 1 0 10.2 0a5.1 5.1 0 1 0 -10.2 0M333.4 621.9a5.1 5.1 0 1 0 10.2 0a5.1 5.1 0 1 0 -10.2 0M352 622.5a5.1 5.1 0 1 0 10.2 0a5.1 5.1 0 1 0 -10.2 0M356.7 622a5.1 5.1 0 1 0 10.2 0a5.1 5.1 0 1 0 -10.2 0M360 622.3a5.1 5.1 0 1 0 10.2 0a5.1 5.1 0 1 0 -10.2 0M366.7 621.8a5.1 5.1 0 1 0 10.2 0a5.1 5.1 0 1 0 -10.2 0M376.1 623.8a5.1 5.1 0 1 0 10.2 0a5.1 5.1 0 1 0 -10.2 0M381.9 622.8a5.1 5.1 0 1 0 10.2 0a5.1 5.1 0 1 0 -10.2 0M386 622.1a5.1 5.1 0 1 0 10.2 0a5.1 5.1 0 1 0 -10.2 0M315.5 626.5a5.1 5.1 0 1 0 10.2 0a5.1 5.1 0 1 0 -10.2 0M325.7 628.8a5.1 5.1 0 1 0 10.2 0a5.1 5.1 0 1 0 -10.2 0M337.1 626.2a5.1 5.1 0 1 0 10.2 0a5.1 5.1 0 1 0 -10.2 0M342.5 628.6a5.1 5.1 0 1 0 10.2 0a5.1 5.1 0 1 0 -10.2 0M348.7 627a5.1 5.1 0 1 0 10.2 0a5.1 5.1 0 1 0 -10.2 0M354 628.3a5.1 5.1 0 1 0 10.2 0a5.1 5.1 0 1 0 -10.2 0M358 628.2a5.1 5.1 0 1 0 10.2 0a5.1 5.1 0 1 0 -10.2 0M364 628.6a5.1 5.1 0 1 0 10.2 0a5.1 5.1 0 1 0 -10.2 0M368.1 628.3a5.1 5.1 0 1 0 10.2 0a5.1 5.1 0 1 0 -10.2 0M373.4 627.4a5.1 5.1 0 1 0 10.2 0a5.1 5.1 0 1 0 -10.2 0M380.3 627a5.1 5.1 0 1 0 10.2 0a5.1 5.1 0 1 0 -10.2 0M309.2 633.5a5.1 5.1 0 1 0 10.2 0a5.1 5.1 0 1 0 -10.2 0M313.8 633.3a5.1 5.1 0 1 0 10.2 0a5.1 5.1 0 1 0 -10.2 0M320.3 633a5.1 5.1 0 1 0 10.2 0a5.1 5.1 0 1 0 -10.2 0M328.7 631.4a5.1 5.1 0 1 0 10.2 0a5.1 5.1 0 1 0 -10.2 0M336 632.9a5.1 5.1 0 1 0 10.2 0a5.1 5.1 0 1 0 -10.2 0M361.2 632.7a5.1 5.1 0 1 0 10.2 0a5.1 5.1 0 1 0 -10.2 0M366.4 631.6a5.1 5.1 0 1 0 10.2 0a5.1 5.1 0 1 0 -10.2 0M370.1 632.5a5.1 5.1 0 1 0 10.2 0a5.1 5.1 0 1 0 -10.2 0M377.1 631.2a5.1 5.1 0 1 0 10.2 0a5.1 5.1 0 1 0 -10.2 0M306.7 636.5a5.1 5.1 0 1 0 10.2 0a5.1 5.1 0 1 0 -10.2 0M320.5 636.5a5.1 5.1 0 1 0 10.2 0a5.1 5.1 0 1 0 -10.2 0M326.7 637.4a5.1 5.1 0 1 0 10.2 0a5.1 5.1 0 1 0 -10.2 0M333 637.5a5.1 5.1 0 1 0 10.2 0a5.1 5.1 0 1 0 -10.2 0M337 636.7a5.1 5.1 0 1 0 10.2 0a5.1 5.1 0 1 0 -10.2 0M341.5 635.3a5.1 5.1 0 1 0 10.2 0a5.1 5.1 0 1 0 -10.2 0M352.9 637.7a5.1 5.1 0 1 0 10.2 0a5.1 5.1 0 1 0 -10.2 0M359.4 638.1a5.1 5.1 0 1 0 10.2 0a5.1 5.1 0 1 0 -10.2 0M367.3 635.8a5.1 5.1 0 1 0 10.2 0a5.1 5.1 0 1 0 -10.2 0M298.2 642.6a5.1 5.1 0 1 0 10.2 0a5.1 5.1 0 1 0 -10.2 0M304 641.4a5.1 5.1 0 1 0 10.2 0a5.1 5.1 0 1 0 -10.2 0M308.1 642a5.1 5.1 0 1 0 10.2 0a5.1 5.1 0 1 0 -10.2 0M315.1 640.5a5.1 5.1 0 1 0 10.2 0a5.1 5.1 0 1 0 -10.2 0M330.5 641.3a5.1 5.1 0 1 0 10.2 0a5.1 5.1 0 1 0 -10.2 0M335.8 640.9a5.1 5.1 0 1 0 10.2 0a5.1 5.1 0 1 0 -10.2 0M345.8 641.2a5.1 5.1 0 1 0 10.2 0a5.1 5.1 0 1 0 -10.2 0M354.5 642.3a5.1 5.1 0 1 0 10.2 0a5.1 5.1 0 1 0 -10.2 0M300 647a5.1 5.1 0 1 0 10.2 0a5.1 5.1 0 1 0 -10.2 0M317.4 644.8a5.1 5.1 0 1 0 10.2 0a5.1 5.1 0 1 0 -10.2 0M321.8 644.9a5.1 5.1 0 1 0 10.2 0a5.1 5.1 0 1 0 -10.2 0M327.4 645.7a5.1 5.1 0 1 0 10.2 0a5.1 5.1 0 1 0 -10.2 0M336.6 645.4a5.1 5.1 0 1 0 10.2 0a5.1 5.1 0 1 0 -10.2 0M351.8 645.8a5.1 5.1 0 1 0 10.2 0a5.1 5.1 0 1 0 -10.2 0M284.3 648.6a5.1 5.1 0 1 0 10.2 0a5.1 5.1 0 1 0 -10.2 0M288.1 651.6a5.1 5.1 0 1 0 10.2 0a5.1 5.1 0 1 0 -10.2 0M293.9 650.2a5.1 5.1 0 1 0 10.2 0a5.1 5.1 0 1 0 -10.2 0M303.1 650.7a5.1 5.1 0 1 0 10.2 0a5.1 5.1 0 1 0 -10.2 0M309.8 649.6a5.1 5.1 0 1 0 10.2 0a5.1 5.1 0 1 0 -10.2 0M313.2 649.5a5.1 5.1 0 1 0 10.2 0a5.1 5.1 0 1 0 -10.2 0M318.5 649.2a5.1 5.1 0 1 0 10.2 0a5.1 5.1 0 1 0 -10.2 0M334.5 649.4a5.1 5.1 0 1 0 10.2 0a5.1 5.1 0 1 0 -10.2 0M338.7 651.4a5.1 5.1 0 1 0 10.2 0a5.1 5.1 0 1 0 -10.2 0M349.5 648.9a5.1 5.1 0 1 0 10.2 0a5.1 5.1 0 1 0 -10.2 0M276.6 654.5a5.1 5.1 0 1 0 10.2 0a5.1 5.1 0 1 0 -10.2 0M281.1 654.3a5.1 5.1 0 1 0 10.2 0a5.1 5.1 0 1 0 -10.2 0M286.4 654.6a5.1 5.1 0 1 0 10.2 0a5.1 5.1 0 1 0 -10.2 0M296 654.5a5.1 5.1 0 1 0 10.2 0a5.1 5.1 0 1 0 -10.2 0M301.1 656.1a5.1 5.1 0 1 0 10.2 0a5.1 5.1 0 1 0 -10.2 0M309.9 654.6a5.1 5.1 0 1 0 10.2 0a5.1 5.1 0 1 0 -10.2 0M317.1 656.1a5.1 5.1 0 1 0 10.2 0a5.1 5.1 0 1 0 -10.2 0M321.1 655.9a5.1 5.1 0 1 0 10.2 0a5.1 5.1 0 1 0 -10.2 0M344.2 655.9a5.1 5.1 0 1 0 10.2 0a5.1 5.1 0 1 0 -10.2 0M272.9 659.1a5.1 5.1 0 1 0 10.2 0a5.1 5.1 0 1 0 -10.2 0M278.6 659.7a5.1 5.1 0 1 0 10.2 0a5.1 5.1 0 1 0 -10.2 0M293.7 660.6a5.1 5.1 0 1 0 10.2 0a5.1 5.1 0 1 0 -10.2 0M299.6 659.2a5.1 5.1 0 1 0 10.2 0a5.1 5.1 0 1 0 -10.2 0M308.8 660.6a5.1 5.1 0 1 0 10.2 0a5.1 5.1 0 1 0 -10.2 0M315.5 660.4a5.1 5.1 0 1 0 10.2 0a5.1 5.1 0 1 0 -10.2 0M325.1 659a5.1 5.1 0 1 0 10.2 0a5.1 5.1 0 1 0 -10.2 0M328.9 659.7a5.1 5.1 0 1 0 10.2 0a5.1 5.1 0 1 0 -10.2 0M335.5 659.5a5.1 5.1 0 1 0 10.2 0a5.1 5.1 0 1 0 -10.2 0M339.7 659a5.1 5.1 0 1 0 10.2 0a5.1 5.1 0 1 0 -10.2 0M266.1 664.1a5.1 5.1 0 1 0 10.2 0a5.1 5.1 0 1 0 -10.2 0M271.4 663.1a5.1 5.1 0 1 0 10.2 0a5.1 5.1 0 1 0 -10.2 0M291.7 664.7a5.1 5.1 0 1 0 10.2 0a5.1 5.1 0 1 0 -10.2 0M295.1 664.3a5.1 5.1 0 1 0 10.2 0a5.1 5.1 0 1 0 -10.2 0M301.8 665a5.1 5.1 0 1 0 10.2 0a5.1 5.1 0 1 0 -10.2 0M307.5 664.1a5.1 5.1 0 1 0 10.2 0a5.1 5.1 0 1 0 -10.2 0M311.6 665.2a5.1 5.1 0 1 0 10.2 0a5.1 5.1 0 1 0 -10.2 0M321.5 662.9a5.1 5.1 0 1 0 10.2 0a5.1 5.1 0 1 0 -10.2 0M343.8 662.7a5.1 5.1 0 1 0 10.2 0a5.1 5.1 0 1 0 -10.2 0M278 669.3a5.1 5.1 0 1 0 10.2 0a5.1 5.1 0 1 0 -10.2 0M292.6 668.3a5.1 5.1 0 1 0 10.2 0a5.1 5.1 0 1 0 -10.2 0M297.9 668.4a5.1 5.1 0 1 0 10.2 0a5.1 5.1 0 1 0 -10.2 0M304.9 668.9a5.1 5.1 0 1 0 10.2 0a5.1 5.1 0 1 0 -10.2 0M319.7 667.4a5.1 5.1 0 1 0 10.2 0a5.1 5.1 0 1 0 -10.2 0M324.3 667.8a5.1 5.1 0 1 0 10.2 0a5.1 5.1 0 1 0 -10.2 0M328.9 669.6a5.1 5.1 0 1 0 10.2 0a5.1 5.1 0 1 0 -10.2 0M333.5 669.7a5.1 5.1 0 1 0 10.2 0a5.1 5.1 0 1 0 -10.2 0M341.5 667.9a5.1 5.1 0 1 0 10.2 0a5.1 5.1 0 1 0 -10.2 0M263.7 671.1a5.1 5.1 0 1 0 10.2 0a5.1 5.1 0 1 0 -10.2 0M268.9 673a5.1 5.1 0 1 0 10.2 0a5.1 5.1 0 1 0 -10.2 0M274.3 673.3a5.1 5.1 0 1 0 10.2 0a5.1 5.1 0 1 0 -10.2 0M286 673a5.1 5.1 0 1 0 10.2 0a5.1 5.1 0 1 0 -10.2 0M297.2 671.6a5.1 5.1 0 1 0 10.2 0a5.1 5.1 0 1 0 -10.2 0M310 673.6a5.1 5.1 0 1 0 10.2 0a5.1 5.1 0 1 0 -10.2 0M322.2 673.9a5.1 5.1 0 1 0 10.2 0a5.1 5.1 0 1 0 -10.2 0M337.8 672.3a5.1 5.1 0 1 0 10.2 0a5.1 5.1 0 1 0 -10.2 0M343.3 673.9a5.1 5.1 0 1 0 10.2 0a5.1 5.1 0 1 0 -10.2 0M266.6 676.5a5.1 5.1 0 1 0 10.2 0a5.1 5.1 0 1 0 -10.2 0M272 677.7a5.1 5.1 0 1 0 10.2 0a5.1 5.1 0 1 0 -10.2 0M282 677.1a5.1 5.1 0 1 0 10.2 0a5.1 5.1 0 1 0 -10.2 0M287.5 677.9a5.1 5.1 0 1 0 10.2 0a5.1 5.1 0 1 0 -10.2 0M293.6 676a5.1 5.1 0 1 0 10.2 0a5.1 5.1 0 1 0 -10.2 0M300 675.7a5.1 5.1 0 1 0 10.2 0a5.1 5.1 0 1 0 -10.2 0M304.8 676.7a5.1 5.1 0 1 0 10.2 0a5.1 5.1 0 1 0 -10.2 0M314.8 678.3a5.1 5.1 0 1 0 10.2 0a5.1 5.1 0 1 0 -10.2 0M320.1 677.5a5.1 5.1 0 1 0 10.2 0a5.1 5.1 0 1 0 -10.2 0M334.5 678.5a5.1 5.1 0 1 0 10.2 0a5.1 5.1 0 1 0 -10.2 0M339.7 675.8a5.1 5.1 0 1 0 10.2 0a5.1 5.1 0 1 0 -10.2 0M266 682.5a5.1 5.1 0 1 0 10.2 0a5.1 5.1 0 1 0 -10.2 0M276.4 682.6a5.1 5.1 0 1 0 10.2 0a5.1 5.1 0 1 0 -10.2 0M279.5 681.8a5.1 5.1 0 1 0 10.2 0a5.1 5.1 0 1 0 -10.2 0M286.1 682.3a5.1 5.1 0 1 0 10.2 0a5.1 5.1 0 1 0 -10.2 0M291.1 681.2a5.1 5.1 0 1 0 10.2 0a5.1 5.1 0 1 0 -10.2 0M296.2 682a5.1 5.1 0 1 0 10.2 0a5.1 5.1 0 1 0 -10.2 0M300.7 681.3a5.1 5.1 0 1 0 10.2 0a5.1 5.1 0 1 0 -10.2 0M306.8 682.7a5.1 5.1 0 1 0 10.2 0a5.1 5.1 0 1 0 -10.2 0M315.9 682.4a5.1 5.1 0 1 0 10.2 0a5.1 5.1 0 1 0 -10.2 0M321.6 680.9a5.1 5.1 0 1 0 10.2 0a5.1 5.1 0 1 0 -10.2 0M343.8 681.9a5.1 5.1 0 1 0 10.2 0a5.1 5.1 0 1 0 -10.2 0M268.4 687.1a5.1 5.1 0 1 0 10.2 0a5.1 5.1 0 1 0 -10.2 0M273.3 686.4a5.1 5.1 0 1 0 10.2 0a5.1 5.1 0 1 0 -10.2 0M283.9 685.7a5.1 5.1 0 1 0 10.2 0a5.1 5.1 0 1 0 -10.2 0M289.5 685.2a5.1 5.1 0 1 0 10.2 0a5.1 5.1 0 1 0 -10.2 0M323.9 685.7a5.1 5.1 0 1 0 10.2 0a5.1 5.1 0 1 0 -10.2 0M328.4 684.6a5.1 5.1 0 1 0 10.2 0a5.1 5.1 0 1 0 -10.2 0M334.3 687a5.1 5.1 0 1 0 10.2 0a5.1 5.1 0 1 0 -10.2 0M264.2 689.7a5.1 5.1 0 1 0 10.2 0a5.1 5.1 0 1 0 -10.2 0M274.4 690a5.1 5.1 0 1 0 10.2 0a5.1 5.1 0 1 0 -10.2 0M280.1 690.7a5.1 5.1 0 1 0 10.2 0a5.1 5.1 0 1 0 -10.2 0M291.7 691.9a5.1 5.1 0 1 0 10.2 0a5.1 5.1 0 1 0 -10.2 0M296.9 691.8a5.1 5.1 0 1 0 10.2 0a5.1 5.1 0 1 0 -10.2 0M307.7 689.5a5.1 5.1 0 1 0 10.2 0a5.1 5.1 0 1 0 -10.2 0M312.7 689a5.1 5.1 0 1 0 10.2 0a5.1 5.1 0 1 0 -10.2 0M317.3 691.4a5.1 5.1 0 1 0 10.2 0a5.1 5.1 0 1 0 -10.2 0M325.9 690.4a5.1 5.1 0 1 0 10.2 0a5.1 5.1 0 1 0 -10.2 0M341.8 689.8a5.1 5.1 0 1 0 10.2 0a5.1 5.1 0 1 0 -10.2 0M260.9 696.6a5.1 5.1 0 1 0 10.2 0a5.1 5.1 0 1 0 -10.2 0M268.4 696.2a5.1 5.1 0 1 0 10.2 0a5.1 5.1 0 1 0 -10.2 0M278.3 694.7a5.1 5.1 0 1 0 10.2 0a5.1 5.1 0 1 0 -10.2 0M281.9 695a5.1 5.1 0 1 0 10.2 0a5.1 5.1 0 1 0 -10.2 0M287.2 694.2a5.1 5.1 0 1 0 10.2 0a5.1 5.1 0 1 0 -10.2 0M293.6 695.9a5.1 5.1 0 1 0 10.2 0a5.1 5.1 0 1 0 -10.2 0M299.1 696.4a5.1 5.1 0 1 0 10.2 0a5.1 5.1 0 1 0 -10.2 0M303.5 693.6a5.1 5.1 0 1 0 10.2 0a5.1 5.1 0 1 0 -10.2 0M314.4 696.3a5.1 5.1 0 1 0 10.2 0a5.1 5.1 0 1 0 -10.2 0M324.1 694.4a5.1 5.1 0 1 0 10.2 0a5.1 5.1 0 1 0 -10.2 0M329.4 696.1a5.1 5.1 0 1 0 10.2 0a5.1 5.1 0 1 0 -10.2 0M334.2 696.4a5.1 5.1 0 1 0 10.2 0a5.1 5.1 0 1 0 -10.2 0M263.9 700.7a5.1 5.1 0 1 0 10.2 0a5.1 5.1 0 1 0 -10.2 0M270.6 699.7a5.1 5.1 0 1 0 10.2 0a5.1 5.1 0 1 0 -10.2 0M274.9 698.1a5.1 5.1 0 1 0 10.2 0a5.1 5.1 0 1 0 -10.2 0M281 700.3a5.1 5.1 0 1 0 10.2 0a5.1 5.1 0 1 0 -10.2 0M284.8 700.9a5.1 5.1 0 1 0 10.2 0a5.1 5.1 0 1 0 -10.2 0M291.5 701.2a5.1 5.1 0 1 0 10.2 0a5.1 5.1 0 1 0 -10.2 0M300.6 701.1a5.1 5.1 0 1 0 10.2 0a5.1 5.1 0 1 0 -10.2 0M307.5 698.2a5.1 5.1 0 1 0 10.2 0a5.1 5.1 0 1 0 -10.2 0M318 699.8a5.1 5.1 0 1 0 10.2 0a5.1 5.1 0 1 0 -10.2 0M323.1 699.2a5.1 5.1 0 1 0 10.2 0a5.1 5.1 0 1 0 -10.2 0M331.9 700.6a5.1 5.1 0 1 0 10.2 0a5.1 5.1 0 1 0 -10.2 0M255.7 703.5a5.1 5.1 0 1 0 10.2 0a5.1 5.1 0 1 0 -10.2 0M268.3 705.1a5.1 5.1 0 1 0 10.2 0a5.1 5.1 0 1 0 -10.2 0M288.3 702.7a5.1 5.1 0 1 0 10.2 0a5.1 5.1 0 1 0 -10.2 0M297.1 702.9a5.1 5.1 0 1 0 10.2 0a5.1 5.1 0 1 0 -10.2 0M303.8 703a5.1 5.1 0 1 0 10.2 0a5.1 5.1 0 1 0 -10.2 0M315.5 704.4a5.1 5.1 0 1 0 10.2 0a5.1 5.1 0 1 0 -10.2 0M253.9 708.9a5.1 5.1 0 1 0 10.2 0a5.1 5.1 0 1 0 -10.2 0M264.8 708.7a5.1 5.1 0 1 0 10.2 0a5.1 5.1 0 1 0 -10.2 0M276.5 708a5.1 5.1 0 1 0 10.2 0a5.1 5.1 0 1 0 -10.2 0M285.8 709a5.1 5.1 0 1 0 10.2 0a5.1 5.1 0 1 0 -10.2 0M296.2 708.8a5.1 5.1 0 1 0 10.2 0a5.1 5.1 0 1 0 -10.2 0M313.1 709a5.1 5.1 0 1 0 10.2 0a5.1 5.1 0 1 0 -10.2 0M317.6 708.4a5.1 5.1 0 1 0 10.2 0a5.1 5.1 0 1 0 -10.2 0M351.4 447.9a5.1 5.1 0 1 0 10.2 0a5.1 5.1 0 1 0 -10.2 0M377.7 450.4a5.1 5.1 0 1 0 10.2 0a5.1 5.1 0 1 0 -10.2 0M410.1 454.5a5.1 5.1 0 1 0 10.2 0a5.1 5.1 0 1 0 -10.2 0M414.6 459a5.1 5.1 0 1 0 10.2 0a5.1 5.1 0 1 0 -10.2 0M412.7 468a5.1 5.1 0 1 0 10.2 0a5.1 5.1 0 1 0 -10.2 0M423.6 459a5.1 5.1 0 1 0 10.2 0a5.1 5.1 0 1 0 -10.2 0M396 487.9a5.1 5.1 0 1 0 10.2 0a5.1 5.1 0 1 0 -10.2 0M394.1 493.7a5.1 5.1 0 1 0 10.2 0a5.1 5.1 0 1 0 -10.2 0M416.6 488.3a5.1 5.1 0 1 0 10.2 0a5.1 5.1 0 1 0 -10.2 0M405 509.1a5.1 5.1 0 1 0 10.2 0a5.1 5.1 0 1 0 -10.2 0M419.8 508.4a5.1 5.1 0 1 0 10.2 0a5.1 5.1 0 1 0 -10.2 0M275.4 518.1a5.1 5.1 0 1 0 10.2 0a5.1 5.1 0 1 0 -10.2 0M291.2 522.6a5.1 5.1 0 1 0 10.2 0a5.1 5.1 0 1 0 -10.2 0M306.2 523.5a5.1 5.1 0 1 0 10.2 0a5.1 5.1 0 1 0 -10.2 0M317.1 517a5.1 5.1 0 1 0 10.2 0a5.1 5.1 0 1 0 -10.2 0M381.3 516.8a5.1 5.1 0 1 0 10.2 0a5.1 5.1 0 1 0 -10.2 0M380.6 521.3a5.1 5.1 0 1 0 10.2 0a5.1 5.1 0 1 0 -10.2 0M391.5 515.5a5.1 5.1 0 1 0 10.2 0a5.1 5.1 0 1 0 -10.2 0M406.9 520.6a5.1 5.1 0 1 0 10.2 0a5.1 5.1 0 1 0 -10.2 0M412.7 524.5a5.1 5.1 0 1 0 10.2 0a5.1 5.1 0 1 0 -10.2 0M415.9 516.8a5.1 5.1 0 1 0 10.2 0a5.1 5.1 0 1 0 -10.2 0M352.4 528.3a5.1 5.1 0 1 0 10.2 0a5.1 5.1 0 1 0 -10.2 0M357.5 532.8a5.1 5.1 0 1 0 10.2 0a5.1 5.1 0 1 0 -10.2 0M362.7 527.7a5.1 5.1 0 1 0 10.2 0a5.1 5.1 0 1 0 -10.2 0M361.4 532.8a5.1 5.1 0 1 0 10.2 0a5.1 5.1 0 1 0 -10.2 0M396 532.2a5.1 5.1 0 1 0 10.2 0a5.1 5.1 0 1 0 -10.2 0M390.2 538.4a5.1 5.1 0 1 0 10.2 0a5.1 5.1 0 1 0 -10.2 0M326.1 539.9a5.1 5.1 0 1 0 10.2 0a5.1 5.1 0 1 0 -10.2 0M331.9 545.7a5.1 5.1 0 1 0 10.2 0a5.1 5.1 0 1 0 -10.2 0M314.3 546.3a5.1 5.1 0 1 0 10.2 0a5.1 5.1 0 1 0 -10.2 0M363.9 544.4a5.1 5.1 0 1 0 10.2 0a5.1 5.1 0 1 0 -10.2 0M371.6 545a5.1 5.1 0 1 0 10.2 0a5.1 5.1 0 1 0 -10.2 0M408.2 539.9a5.1 5.1 0 1 0 10.2 0a5.1 5.1 0 1 0 -10.2 0M415.9 546.3a5.1 5.1 0 1 0 10.2 0a5.1 5.1 0 1 0 -10.2 0M421 551.4a5.1 5.1 0 1 0 10.2 0a5.1 5.1 0 1 0 -10.2 0M347.9 552.1a5.1 5.1 0 1 0 10.2 0a5.1 5.1 0 1 0 -10.2 0M348.5 560.4a5.1 5.1 0 1 0 10.2 0a5.1 5.1 0 1 0 -10.2 0M339.6 564a5.1 5.1 0 1 0 10.2 0a5.1 5.1 0 1 0 -10.2 0M360.1 557.6a5.1 5.1 0 1 0 10.2 0a5.1 5.1 0 1 0 -10.2 0M376.1 555.9a5.1 5.1 0 1 0 10.2 0a5.1 5.1 0 1 0 -10.2 0M383.8 559.8a5.1 5.1 0 1 0 10.2 0a5.1 5.1 0 1 0 -10.2 0M392.8 554a5.1 5.1 0 1 0 10.2 0a5.1 5.1 0 1 0 -10.2 0M400.5 551.4a5.1 5.1 0 1 0 10.2 0a5.1 5.1 0 1 0 -10.2 0M287.6 564a5.1 5.1 0 1 0 10.2 0a5.1 5.1 0 1 0 -10.2 0M357.5 568.1a5.1 5.1 0 1 0 10.2 0a5.1 5.1 0 1 0 -10.2 0M401.8 564.9a5.1 5.1 0 1 0 10.2 0a5.1 5.1 0 1 0 -10.2 0M409.5 565.6a5.1 5.1 0 1 0 10.2 0a5.1 5.1 0 1 0 -10.2 0M301.7 576.5a5.1 5.1 0 1 0 10.2 0a5.1 5.1 0 1 0 -10.2 0M320.9 572a5.1 5.1 0 1 0 10.2 0a5.1 5.1 0 1 0 -10.2 0M328.6 573.3a5.1 5.1 0 1 0 10.2 0a5.1 5.1 0 1 0 -10.2 0M335.1 575.2a5.1 5.1 0 1 0 10.2 0a5.1 5.1 0 1 0 -10.2 0M350.5 576.5a5.1 5.1 0 1 0 10.2 0a5.1 5.1 0 1 0 -10.2 0M354.3 581a5.1 5.1 0 1 0 10.2 0a5.1 5.1 0 1 0 -10.2 0M364.6 574.5a5.1 5.1 0 1 0 10.2 0a5.1 5.1 0 1 0 -10.2 0M382.5 577.1a5.1 5.1 0 1 0 10.2 0a5.1 5.1 0 1 0 -10.2 0M395.4 578.4a5.1 5.1 0 1 0 10.2 0a5.1 5.1 0 1 0 -10.2 0M405.6 584.2a5.1 5.1 0 1 0 10.2 0a5.1 5.1 0 1 0 -10.2 0M415.9 581a5.1 5.1 0 1 0 10.2 0a5.1 5.1 0 1 0 -10.2 0M387 588a5.1 5.1 0 1 0 10.2 0a5.1 5.1 0 1 0 -10.2 0M394.2 563.8a5.1 5.1 0 1 0 10.2 0a5.1 5.1 0 1 0 -10.2 0M392.8 567.8a5.1 5.1 0 1 0 10.2 0a5.1 5.1 0 1 0 -10.2 0M406.5 567.7a5.1 5.1 0 1 0 10.2 0a5.1 5.1 0 1 0 -10.2 0M415.9 567.8a5.1 5.1 0 1 0 10.2 0a5.1 5.1 0 1 0 -10.2 0M378.3 570a5.1 5.1 0 1 0 10.2 0a5.1 5.1 0 1 0 -10.2 0M382 572.5a5.1 5.1 0 1 0 10.2 0a5.1 5.1 0 1 0 -10.2 0M388.4 570a5.1 5.1 0 1 0 10.2 0a5.1 5.1 0 1 0 -10.2 0M415 571.8a5.1 5.1 0 1 0 10.2 0a5.1 5.1 0 1 0 -10.2 0M421 572.8a5.1 5.1 0 1 0 10.2 0a5.1 5.1 0 1 0 -10.2 0M391.7 574.3a5.1 5.1 0 1 0 10.2 0a5.1 5.1 0 1 0 -10.2 0M402 576.2a5.1 5.1 0 1 0 10.2 0a5.1 5.1 0 1 0 -10.2 0M407.8 577.5a5.1 5.1 0 1 0 10.2 0a5.1 5.1 0 1 0 -10.2 0M413.3 576.6a5.1 5.1 0 1 0 10.2 0a5.1 5.1 0 1 0 -10.2 0M423.9 576.6a5.1 5.1 0 1 0 10.2 0a5.1 5.1 0 1 0 -10.2 0M372.9 581.3a5.1 5.1 0 1 0 10.2 0a5.1 5.1 0 1 0 -10.2 0M376.9 579.8a5.1 5.1 0 1 0 10.2 0a5.1 5.1 0 1 0 -10.2 0M388.2 581.5a5.1 5.1 0 1 0 10.2 0a5.1 5.1 0 1 0 -10.2 0M403 579.6a5.1 5.1 0 1 0 10.2 0a5.1 5.1 0 1 0 -10.2 0M419.8 580.6a5.1 5.1 0 1 0 10.2 0a5.1 5.1 0 1 0 -10.2 0M365 583.3a5.1 5.1 0 1 0 10.2 0a5.1 5.1 0 1 0 -10.2 0M369.2 584.7a5.1 5.1 0 1 0 10.2 0a5.1 5.1 0 1 0 -10.2 0M377.1 585.3a5.1 5.1 0 1 0 10.2 0a5.1 5.1 0 1 0 -10.2 0M394.9 586.3a5.1 5.1 0 1 0 10.2 0a5.1 5.1 0 1 0 -10.2 0M401.3 586a5.1 5.1 0 1 0 10.2 0a5.1 5.1 0 1 0 -10.2 0M410.8 584.5a5.1 5.1 0 1 0 10.2 0a5.1 5.1 0 1 0 -10.2 0M352.5 590a5.1 5.1 0 1 0 10.2 0a5.1 5.1 0 1 0 -10.2 0M350.8 593.1a5.1 5.1 0 1 0 10.2 0a5.1 5.1 0 1 0 -10.2 0M384.7 592.7a5.1 5.1 0 1 0 10.2 0a5.1 5.1 0 1 0 -10.2 0M358.1 599.6a5.1 5.1 0 1 0 10.2 0a5.1 5.1 0 1 0 -10.2 0M368.3 599.7a5.1 5.1 0 1 0 10.2 0a5.1 5.1 0 1 0 -10.2 0M384.5 597.3a5.1 5.1 0 1 0 10.2 0a5.1 5.1 0 1 0 -10.2 0M322.2 604.1a5.1 5.1 0 1 0 10.2 0a5.1 5.1 0 1 0 -10.2 0M360 613.1a5.1 5.1 0 1 0 10.2 0a5.1 5.1 0 1 0 -10.2 0M377.8 616.4a5.1 5.1 0 1 0 10.2 0a5.1 5.1 0 1 0 -10.2 0M319.4 619.8a5.1 5.1 0 1 0 10.2 0a5.1 5.1 0 1 0 -10.2 0M449.1 372.2a5.1 5.1 0 1 0 10.2 0a5.1 5.1 0 1 0 -10.2 0M495.9 369.2a5.1 5.1 0 1 0 10.2 0a5.1 5.1 0 1 0 -10.2 0M536.7 371.3a5.1 5.1 0 1 0 10.2 0a5.1 5.1 0 1 0 -10.2 0M546.3 370a5.1 5.1 0 1 0 10.2 0a5.1 5.1 0 1 0 -10.2 0M573.6 365.1a5.1 5.1 0 1 0 10.2 0a5.1 5.1 0 1 0 -10.2 0M497.3 386.1a5.1 5.1 0 1 0 10.2 0a5.1 5.1 0 1 0 -10.2 0M473.8 393.6a5.1 5.1 0 1 0 10.2 0a5.1 5.1 0 1 0 -10.2 0M477.7 391.8a5.1 5.1 0 1 0 10.2 0a5.1 5.1 0 1 0 -10.2 0M516.8 394.7a5.1 5.1 0 1 0 10.2 0a5.1 5.1 0 1 0 -10.2 0M526.5 399.1a5.1 5.1 0 1 0 10.2 0a5.1 5.1 0 1 0 -10.2 0M538.6 394.7a5.1 5.1 0 1 0 10.2 0a5.1 5.1 0 1 0 -10.2 0M495 404.7a5.1 5.1 0 1 0 10.2 0a5.1 5.1 0 1 0 -10.2 0M577.1 382.8a5.1 5.1 0 1 0 10.2 0a5.1 5.1 0 1 0 -10.2 0M570.1 390.5a5.1 5.1 0 1 0 10.2 0a5.1 5.1 0 1 0 -10.2 0M562.4 395.3a5.1 5.1 0 1 0 10.2 0a5.1 5.1 0 1 0 -10.2 0M556 403a5.1 5.1 0 1 0 10.2 0a5.1 5.1 0 1 0 -10.2 0M561.7 410.1a5.1 5.1 0 1 0 10.2 0a5.1 5.1 0 1 0 -10.2 0M582.9 404.3a5.1 5.1 0 1 0 10.2 0a5.1 5.1 0 1 0 -10.2 0M575.2 410.7a5.1 5.1 0 1 0 10.2 0a5.1 5.1 0 1 0 -10.2 0M578.4 412.9a5.1 5.1 0 1 0 10.2 0a5.1 5.1 0 1 0 -10.2 0M594.2 417.8a5.1 5.1 0 1 0 10.2 0a5.1 5.1 0 1 0 -10.2 0M510 412.9a5.1 5.1 0 1 0 10.2 0a5.1 5.1 0 1 0 -10.2 0M502.7 418.4a5.1 5.1 0 1 0 10.2 0a5.1 5.1 0 1 0 -10.2 0M509.8 422.9a5.1 5.1 0 1 0 10.2 0a5.1 5.1 0 1 0 -10.2 0M521.3 417.1a5.1 5.1 0 1 0 10.2 0a5.1 5.1 0 1 0 -10.2 0M518.1 420.3a5.1 5.1 0 1 0 10.2 0a5.1 5.1 0 1 0 -10.2 0M540.6 417.8a5.1 5.1 0 1 0 10.2 0a5.1 5.1 0 1 0 -10.2 0M547 421.6a5.1 5.1 0 1 0 10.2 0a5.1 5.1 0 1 0 -10.2 0M493.7 425.7a5.1 5.1 0 1 0 10.2 0a5.1 5.1 0 1 0 -10.2 0M457.8 422.9a5.1 5.1 0 1 0 10.2 0a5.1 5.1 0 1 0 -10.2 0M457.8 443.4a5.1 5.1 0 1 0 10.2 0a5.1 5.1 0 1 0 -10.2 0M429.8 428a5.1 5.1 0 1 0 10.2 0a5.1 5.1 0 1 0 -10.2 0M430.2 440.2a5.1 5.1 0 1 0 10.2 0a5.1 5.1 0 1 0 -10.2 0M436.6 444.7a5.1 5.1 0 1 0 10.2 0a5.1 5.1 0 1 0 -10.2 0M479 441.5a5.1 5.1 0 1 0 10.2 0a5.1 5.1 0 1 0 -10.2 0M522.3 433.5a5.1 5.1 0 1 0 10.2 0a5.1 5.1 0 1 0 -10.2 0M537.4 431.9a5.1 5.1 0 1 0 10.2 0a5.1 5.1 0 1 0 -10.2 0M557.6 441.5a5.1 5.1 0 1 0 10.2 0a5.1 5.1 0 1 0 -10.2 0M602.6 443.4a5.1 5.1 0 1 0 10.2 0a5.1 5.1 0 1 0 -10.2 0M520.7 449.2a5.1 5.1 0 1 0 10.2 0a5.1 5.1 0 1 0 -10.2 0M533.5 447.9a5.1 5.1 0 1 0 10.2 0a5.1 5.1 0 1 0 -10.2 0M557.9 457.5a5.1 5.1 0 1 0 10.2 0a5.1 5.1 0 1 0 -10.2 0M561.7 457.5a5.1 5.1 0 1 0 10.2 0a5.1 5.1 0 1 0 -10.2 0M450.1 461.4a5.1 5.1 0 1 0 10.2 0a5.1 5.1 0 1 0 -10.2 0M462.3 462.7a5.1 5.1 0 1 0 10.2 0a5.1 5.1 0 1 0 -10.2 0M451.4 471.7a5.1 5.1 0 1 0 10.2 0a5.1 5.1 0 1 0 -10.2 0M455.2 475.5a5.1 5.1 0 1 0 10.2 0a5.1 5.1 0 1 0 -10.2 0M459.1 480.6a5.1 5.1 0 1 0 10.2 0a5.1 5.1 0 1 0 -10.2 0M461.6 485.8a5.1 5.1 0 1 0 10.2 0a5.1 5.1 0 1 0 -10.2 0M477.7 460.1a5.1 5.1 0 1 0 10.2 0a5.1 5.1 0 1 0 -10.2 0M487.3 458.8a5.1 5.1 0 1 0 10.2 0a5.1 5.1 0 1 0 -10.2 0M479 464.6a5.1 5.1 0 1 0 10.2 0a5.1 5.1 0 1 0 -10.2 0M500.8 470.4a5.1 5.1 0 1 0 10.2 0a5.1 5.1 0 1 0 -10.2 0M491.2 480.6a5.1 5.1 0 1 0 10.2 0a5.1 5.1 0 1 0 -10.2 0M509.8 477.4a5.1 5.1 0 1 0 10.2 0a5.1 5.1 0 1 0 -10.2 0M516.8 477.4a5.1 5.1 0 1 0 10.2 0a5.1 5.1 0 1 0 -10.2 0M529 474a5.1 5.1 0 1 0 10.2 0a5.1 5.1 0 1 0 -10.2 0M545.7 474.2a5.1 5.1 0 1 0 10.2 0a5.1 5.1 0 1 0 -10.2 0M552.1 475.5a5.1 5.1 0 1 0 10.2 0a5.1 5.1 0 1 0 -10.2 0M545.1 480a5.1 5.1 0 1 0 10.2 0a5.1 5.1 0 1 0 -10.2 0M558.5 480.6a5.1 5.1 0 1 0 10.2 0a5.1 5.1 0 1 0 -10.2 0M553.4 483.9a5.1 5.1 0 1 0 10.2 0a5.1 5.1 0 1 0 -10.2 0M568.8 483.9a5.1 5.1 0 1 0 10.2 0a5.1 5.1 0 1 0 -10.2 0M579.5 489.9a5.1 5.1 0 1 0 10.2 0a5.1 5.1 0 1 0 -10.2 0M517.5 486.4a5.1 5.1 0 1 0 10.2 0a5.1 5.1 0 1 0 -10.2 0M523.2 489.6a5.1 5.1 0 1 0 10.2 0a5.1 5.1 0 1 0 -10.2 0M523.2 495.4a5.1 5.1 0 1 0 10.2 0a5.1 5.1 0 1 0 -10.2 0M539.9 493.5a5.1 5.1 0 1 0 10.2 0a5.1 5.1 0 1 0 -10.2 0M542.5 502.2a5.1 5.1 0 1 0 10.2 0a5.1 5.1 0 1 0 -10.2 0M432.1 487.1a5.1 5.1 0 1 0 10.2 0a5.1 5.1 0 1 0 -10.2 0M435.3 488.3a5.1 5.1 0 1 0 10.2 0a5.1 5.1 0 1 0 -10.2 0M446.2 483.9a5.1 5.1 0 1 0 10.2 0a5.1 5.1 0 1 0 -10.2 0M448.2 492.2a5.1 5.1 0 1 0 10.2 0a5.1 5.1 0 1 0 -10.2 0M473.2 481.9a5.1 5.1 0 1 0 10.2 0a5.1 5.1 0 1 0 -10.2 0M477 480.6a5.1 5.1 0 1 0 10.2 0a5.1 5.1 0 1 0 -10.2 0M470.6 489.6a5.1 5.1 0 1 0 10.2 0a5.1 5.1 0 1 0 -10.2 0M427 512.1a5.1 5.1 0 1 0 10.2 0a5.1 5.1 0 1 0 -10.2 0M422.5 514a5.1 5.1 0 1 0 10.2 0a5.1 5.1 0 1 0 -10.2 0M425.7 523.6a5.1 5.1 0 1 0 10.2 0a5.1 5.1 0 1 0 -10.2 0M436.6 503.7a5.1 5.1 0 1 0 10.2 0a5.1 5.1 0 1 0 -10.2 0M441.1 510.2a5.1 5.1 0 1 0 10.2 0a5.1 5.1 0 1 0 -10.2 0M446.2 514a5.1 5.1 0 1 0 10.2 0a5.1 5.1 0 1 0 -10.2 0M439.8 520.4a5.1 5.1 0 1 0 10.2 0a5.1 5.1 0 1 0 -10.2 0M491.8 505a5.1 5.1 0 1 0 10.2 0a5.1 5.1 0 1 0 -10.2 0M500.1 506.3a5.1 5.1 0 1 0 10.2 0a5.1 5.1 0 1 0 -10.2 0M489.2 513.4a5.1 5.1 0 1 0 10.2 0a5.1 5.1 0 1 0 -10.2 0M497.6 514.7a5.1 5.1 0 1 0 10.2 0a5.1 5.1 0 1 0 -10.2 0M507.2 514.7a5.1 5.1 0 1 0 10.2 0a5.1 5.1 0 1 0 -10.2 0M523.2 513.6a5.1 5.1 0 1 0 10.2 0a5.1 5.1 0 1 0 -10.2 0M550.2 516.3a5.1 5.1 0 1 0 10.2 0a5.1 5.1 0 1 0 -10.2 0M471.3 527.5a5.1 5.1 0 1 0 10.2 0a5.1 5.1 0 1 0 -10.2 0M504 532a5.1 5.1 0 1 0 10.2 0a5.1 5.1 0 1 0 -10.2 0M513.6 528.8a5.1 5.1 0 1 0 10.2 0a5.1 5.1 0 1 0 -10.2 0M428.9 542.2a5.1 5.1 0 1 0 10.2 0a5.1 5.1 0 1 0 -10.2 0M420.6 559.6a5.1 5.1 0 1 0 10.2 0a5.1 5.1 0 1 0 -10.2 0M441.1 546.1a5.1 5.1 0 1 0 10.2 0a5.1 5.1 0 1 0 -10.2 0M444.3 549.9a5.1 5.1 0 1 0 10.2 0a5.1 5.1 0 1 0 -10.2 0M447.5 550.6a5.1 5.1 0 1 0 10.2 0a5.1 5.1 0 1 0 -10.2 0M461 549.3a5.1 5.1 0 1 0 10.2 0a5.1 5.1 0 1 0 -10.2 0M464.8 546.1a5.1 5.1 0 1 0 10.2 0a5.1 5.1 0 1 0 -10.2 0M491.4 551a5.1 5.1 0 1 0 10.2 0a5.1 5.1 0 1 0 -10.2 0M542.5 551a5.1 5.1 0 1 0 10.2 0a5.1 5.1 0 1 0 -10.2 0M407.7 571.8a5.1 5.1 0 1 0 10.2 0a5.1 5.1 0 1 0 -10.2 0M427 580.7a5.1 5.1 0 1 0 10.2 0a5.1 5.1 0 1 0 -10.2 0M429.6 584a5.1 5.1 0 1 0 10.2 0a5.1 5.1 0 1 0 -10.2 0M451.4 576.9a5.1 5.1 0 1 0 10.2 0a5.1 5.1 0 1 0 -10.2 0M457.1 573a5.1 5.1 0 1 0 10.2 0a5.1 5.1 0 1 0 -10.2 0M462.3 569.8a5.1 5.1 0 1 0 10.2 0a5.1 5.1 0 1 0 -10.2 0M477 591.7a5.1 5.1 0 1 0 10.2 0a5.1 5.1 0 1 0 -10.2 0M482.2 594.2a5.1 5.1 0 1 0 10.2 0a5.1 5.1 0 1 0 -10.2 0M455.2 595.9a5.1 5.1 0 1 0 10.2 0a5.1 5.1 0 1 0 -10.2 0M428 595.5a5.1 5.1 0 1 0 10.2 0a5.1 5.1 0 1 0 -10.2 0M468.5 498.9a5.1 5.1 0 1 0 10.2 0a5.1 5.1 0 1 0 -10.2 0M450.4 502.1a5.1 5.1 0 1 0 10.2 0a5.1 5.1 0 1 0 -10.2 0M459.2 501.1a5.1 5.1 0 1 0 10.2 0a5.1 5.1 0 1 0 -10.2 0M466 502.8a5.1 5.1 0 1 0 10.2 0a5.1 5.1 0 1 0 -10.2 0M477.7 502.3a5.1 5.1 0 1 0 10.2 0a5.1 5.1 0 1 0 -10.2 0M458 505.6a5.1 5.1 0 1 0 10.2 0a5.1 5.1 0 1 0 -10.2 0M454.9 509.8a5.1 5.1 0 1 0 10.2 0a5.1 5.1 0 1 0 -10.2 0M459.2 512.1a5.1 5.1 0 1 0 10.2 0a5.1 5.1 0 1 0 -10.2 0M467.3 511.1a5.1 5.1 0 1 0 10.2 0a5.1 5.1 0 1 0 -10.2 0M474.9 510.2a5.1 5.1 0 1 0 10.2 0a5.1 5.1 0 1 0 -10.2 0M441 515.3a5.1 5.1 0 1 0 10.2 0a5.1 5.1 0 1 0 -10.2 0M453.5 515.5a5.1 5.1 0 1 0 10.2 0a5.1 5.1 0 1 0 -10.2 0M464.6 516.2a5.1 5.1 0 1 0 10.2 0a5.1 5.1 0 1 0 -10.2 0M468.6 514.4a5.1 5.1 0 1 0 10.2 0a5.1 5.1 0 1 0 -10.2 0M474.2 514.7a5.1 5.1 0 1 0 10.2 0a5.1 5.1 0 1 0 -10.2 0M462 521.1a5.1 5.1 0 1 0 10.2 0a5.1 5.1 0 1 0 -10.2 0M465.5 519.6a5.1 5.1 0 1 0 10.2 0a5.1 5.1 0 1 0 -10.2 0M476.6 520.1a5.1 5.1 0 1 0 10.2 0a5.1 5.1 0 1 0 -10.2 0M443.9 523a5.1 5.1 0 1 0 10.2 0a5.1 5.1 0 1 0 -10.2 0M452 523.1a5.1 5.1 0 1 0 10.2 0a5.1 5.1 0 1 0 -10.2 0M461.8 524.7a5.1 5.1 0 1 0 10.2 0a5.1 5.1 0 1 0 -10.2 0M469.4 523.7a5.1 5.1 0 1 0 10.2 0a5.1 5.1 0 1 0 -10.2 0M438.6 528.9a5.1 5.1 0 1 0 10.2 0a5.1 5.1 0 1 0 -10.2 0M444.5 529.2a5.1 5.1 0 1 0 10.2 0a5.1 5.1 0 1 0 -10.2 0M450.1 530.4a5.1 5.1 0 1 0 10.2 0a5.1 5.1 0 1 0 -10.2 0M455.9 527.5a5.1 5.1 0 1 0 10.2 0a5.1 5.1 0 1 0 -10.2 0M462.1 529.3a5.1 5.1 0 1 0 10.2 0a5.1 5.1 0 1 0 -10.2 0M442.3 532.9a5.1 5.1 0 1 0 10.2 0a5.1 5.1 0 1 0 -10.2 0M446.2 533.7a5.1 5.1 0 1 0 10.2 0a5.1 5.1 0 1 0 -10.2 0M459.1 532.4a5.1 5.1 0 1 0 10.2 0a5.1 5.1 0 1 0 -10.2 0M455.3 538.2a5.1 5.1 0 1 0 10.2 0a5.1 5.1 0 1 0 -10.2 0M405.3 564.3a5.1 5.1 0 1 0 10.2 0a5.1 5.1 0 1 0 -10.2 0M399.5 570.6a5.1 5.1 0 1 0 10.2 0a5.1 5.1 0 1 0 -10.2 0M411 580.8a5.1 5.1 0 1 0 10.2 0a5.1 5.1 0 1 0 -10.2 0M418.9 586.5a5.1 5.1 0 1 0 10.2 0a5.1 5.1 0 1 0 -10.2 0M424.6 586.5a5.1 5.1 0 1 0 10.2 0a5.1 5.1 0 1 0 -10.2 0M552.1 209.2a5.1 5.1 0 1 0 10.2 0a5.1 5.1 0 1 0 -10.2 0M517.7 275.3a5.1 5.1 0 1 0 10.2 0a5.1 5.1 0 1 0 -10.2 0M525.8 316.4a5.1 5.1 0 1 0 10.2 0a5.1 5.1 0 1 0 -10.2 0M525.6 326.6a5.1 5.1 0 1 0 10.2 0a5.1 5.1 0 1 0 -10.2 0M525.8 329.8a5.1 5.1 0 1 0 10.2 0a5.1 5.1 0 1 0 -10.2 0M568.2 315.1a5.1 5.1 0 1 0 10.2 0a5.1 5.1 0 1 0 -10.2 0M581.4 308.7a5.1 5.1 0 1 0 10.2 0a5.1 5.1 0 1 0 -10.2 0M562.6 329.8a5.1 5.1 0 1 0 10.2 0a5.1 5.1 0 1 0 -10.2 0M532 347.2a5.1 5.1 0 1 0 10.2 0a5.1 5.1 0 1 0 -10.2 0M527.7 355.1a5.1 5.1 0 1 0 10.2 0a5.1 5.1 0 1 0 -10.2 0M557.3 351a5.1 5.1 0 1 0 10.2 0a5.1 5.1 0 1 0 -10.2 0M572.7 346.5a5.1 5.1 0 1 0 10.2 0a5.1 5.1 0 1 0 -10.2 0M427.1 601.7a5.1 5.1 0 1 0 10.2 0a5.1 5.1 0 1 0 -10.2 0" fill="#000"/>
</g>
<rect x="170.9" y="24.9" width="763.4" height="788.5" fill="none" stroke="#333333" stroke-width="2.1"/>
<text x="204.1" y="858" text-anchor="middle" class="tk">0</text>
<text x="428.5" y="858" text-anchor="middle" class="tk">100</text>
<text x="652.8" y="858" text-anchor="middle" class="tk">200</text>
<text x="877.2" y="858" text-anchor="middle" class="tk">300</text>
<text x="150.8" y="791.1" text-anchor="end" class="tk">0</text>
<text x="150.8" y="559.4" text-anchor="end" class="tk">100</text>
<text x="150.8" y="327.8" text-anchor="end" class="tk">200</text>
<text x="150.8" y="96.1" text-anchor="end" class="tk">300</text>
<path d="M204.1 813.4v11.4M428.5 813.4v11.4M652.8 813.4v11.4M877.2 813.4v11.4M170.9 778.1h-11.8M170.9 546.4h-11.8M170.9 314.8h-11.8M170.9 83.1h-11.8" stroke="#333333" stroke-width="3" fill="none"/>
<text x="203.9" y="90.9" class="an">R² = 0.76</text>
<text x="203.9" y="162.8" class="an">RMSE = 21.5</text>
<text x="203.9" y="234.6" class="an">%RMSE = 7.2</text>
<text x="203.9" y="306.4" class="an">N comp = 23</text>
<text x="25.6" y="62.3" class="lb">(a)</text>
</g>
<g id="panel-b">
<clipPath id="clipb"><rect x="1106.3" y="24.9" width="764.3" height="788.5"/></clipPath>
<g clip-path="url(#clipb)">
<path d="M1224.7 579H1252.2M1239.1 569.4V586.3M1227.1 571.3H1253.2M1240.4 563.2V577.3M1144.8 706.7H1279.5M1174.7 702.8H1204.1M1190.6 698.7V706.2M1196 700.9H1211.7M1203.2 695.9V706.4M1194.1 708.6H1209.8M1201.9 703.2V713.3M1205.6 707.3H1218.2M1212.1 703.2V710.7M1201.5 703.5H1232.8M1217.3 694.6V712.1M1196.8 712.5H1219.4M1208.3 704.5V721.8M1197.9 717.6H1229.5M1213.4 712.9V723.1M1209.5 717.6H1227.6M1218.6 708.6V727.2M1177.6 721.4H1191.9M1184.5 716.1V726.2M1162.4 732.4H1194.3M1178.1 727V738.3M1170.3 735.6H1189.4M1179.4 728.4V743.6M1167.7 742.6H1186.3M1176.8 737.6V747.5M1180.9 733H1203.4M1191.6 726.6V738.5M1186 742H1202.4M1194.2 738.2V745.3M1187.9 730.4H1218.1M1203.2 726.2V735.1M1198.2 735.6H1217.1M1207 728.8V745.5M1190.9 738.1H1211.9M1201.9 733.1V742.3M1226.5 739.4H1248M1237.6 731.9V748.4M1224.3 700.9H1248.1M1236.5 695.7V705.6M1238.6 711.2H1252.6M1245.5 705.3V717.7M1250.9 715.3H1265.6M1257.7 712.1V718.3M1219.4 723.4H1244.8M1232.7 715.1V730.6M1222.7 719.5H1250.3M1236.5 714.7V723.4M1259.6 727.2H1290.4M1262.2 733H1296.8M1304.5 702.2H1327.6M1295.6 718.2H1338.6M1291.4 664.3H1313.7M1303.3 658.7V669.3M1304.7 668.8H1334.1M1319.9 660.4V676.6M1308.6 675.2H1327M1318 670.2V681.2M1331.1 663.7H1347.7M1337.3 656.7V669.4M1340.5 666H1370M1354.6 660.8V671.3M1351.7 617.5H1372.2M1362.3 608.6V627.2M1347.8 629.3H1379.3M1362.9 625.1V634.3M1201.9 658.8H1218.1M1209.6 651.3V665.9M1186.1 672.7H1216.5M1201.2 668.8V677.2M1176.2 677.8H1219.8M1199.6 675.2H1221.7M1210.9 667V684M1228 611.1H1250.7M1238.8 603.8V619M1208.9 622.6H1253.2M1221.6 629H1249.7M1235.2 624.8V633.8M1206.4 667.5H1233.6M1219.8 663.5V670.8M1206.7 654.7H1236.5M1222.4 647.8V663.4M1211.1 645.7H1239.7M1227.5 636.6V653M1216.9 639.3H1248.7M1232.7 632.3V646.3M1229 634.2H1245.2M1236.5 631V638M1231.2 635.5H1261.4M1245.5 631.3V642.7M1232.5 647H1257.2M1242.9 639.3V653.2M1237.2 597.6H1271.2M1252.2 598.9H1280.9M1266 591.6V605.1M1246.6 612.4H1270.4M1258.3 604.9V618.8M1254 607.2H1274.5M1264.8 603.2V610.7M1266.9 575.8H1284.4M1275 570.7V581.9M1272.2 577.1H1292.8M1284 569V585.7M1269.9 589.3H1288.7M1278.9 586V592M1290.8 580.3H1319.7M1307.1 574.1V589.7M1283.8 586.7H1308.3M1296.8 583.2V589.7M1207.6 691.9H1238.8M1222.4 688.4V695.8M1213.2 688.1H1241.4M1227.5 682.5V693.3M1239.4 691.9H1265.5M1251.9 684.7V699.9M1249 693.2H1282.5M1263.5 686.5V699.6M1262.9 697.1H1278M1271.2 688.6V705.2M1226.2 695.8H1245.2M1236.5 689.1V702.9M1307.5 652.1H1321.6M1314.8 647.5V656M1304 649.6H1338.5M1319.9 646.2V653.2M1294.4 647H1325.3M1309.7 636.3V653.4M1336.7 621.3H1358.2M1348.2 616.4V628.2M1327.8 614.9H1358M1341.8 606.1V624.2M1329.9 608.5H1344.9M1337.9 602.1V615.8M1327.4 571H1349.4M1338.1 563.8V578.1M1347.8 570.5H1376.9M1361.2 564.8V580.6M1359.1 570.9H1380.2M1369.4 566.7V575M1302.7 575.9H1330.8M1317.6 571.5V584.9M1313 574.7H1335.2M1323.2 567.9V580.7M1316.5 575.2H1338.7M1328.8 568.7V584.1M1320.2 575.8H1347.6M1334.4 567.2V582.1M1326.3 575H1354.3M1339.3 566.5V585.6M1331.2 574.7H1357.9M1346 566.2V585.8M1333.5 575.9H1370.5M1350.2 569.2V584.6M1343.8 575.6H1369.4M1356.2 569.1V580.5M1350.9 573.5H1374.4M1361.2 565.5V581.7M1357.8 575.3H1374.2M1365.6 566.5V584M1301.3 580.5H1323M1312.2 576.8V584.2M1308.6 579H1324.8M1316.6 571.5V587.3M1310.3 579H1342.1M1325.1 574.3V590.5M1322.2 579.7H1354.2M1337.3 571.4V589.3M1345.4 580.1H1360.7M1353.3 573.6V586.1M1350.5 578.1H1372.9M1362.5 574.9V581.3M1350.5 579.6H1383.7M1367.6 571.2V588.6M1286.6 584.3H1319.2M1302.6 575.5V594.6M1306.4 584H1320.2M1313.9 577.5V590.3M1307 583H1329.4M1318.2 579.4V586.1M1322.1 583.4H1335.6M1328.9 578.3V587.9M1322.2 583H1344.2M1334.1 577.4V588.7M1325.3 583.7H1349.1M1338.5 577.1V589.9M1345.6 584.3H1366.3M1356.4 580.8V587.5M1347.5 584.4H1375.6M1361.2 575.2V591.2M1291 586.6H1322.5M1306.3 582.3V591.6M1301.6 587.9H1322.8M1311.7 583.9V591.8M1308.3 587.9H1326.2M1316.9 584.2V591.7M1307.6 589.5H1331M1320.8 585.2V599.6M1312.1 587.8H1341.4M1326.4 582.7V592.9M1322.2 587H1349.4M1336.4 583.3V591.2M1330.8 588.7H1350M1340.6 580V598.6M1340.8 589.4H1360.2M1351 584.5V599.3M1342.2 588.7H1372.7M1356.4 580.1V597M1351.8 588.5H1371.4M1362.3 584V592.2M1276.7 592.6H1306M1291.7 588.3V596.6M1283.3 593.2H1313.1M1297.2 588.1V599M1305.6 591.6H1323.2M1314.6 583.7V601M1310.2 592.6H1335M1323.5 586.4V599.9M1324.7 592.3H1346.1M1334.9 585.9V599.5M1334.6 591.8H1351.2M1343.3 587.5V596.4M1334.2 592.5H1366.4M1348.6 584.6V604.5M1278 597.9H1305.8M1291.1 589.7V605.1M1283.7 598H1315.5M1299.8 589.8V606.5M1297.3 596.1H1326.3M1311.9 590V601.5M1305.2 597.6H1335.1M1317.4 589.7V605.1M1317 597.3H1332.7M1325.6 591.5V603.5M1317.4 596.1H1342.6M1331.4 591.8V600.6M1326.2 595.7H1348M1338.3 588.5V602.6M1340.6 597.3H1354.9M1347.9 588.4V606M1261.3 602.6H1291.5M1276 596.2V607.9M1270.2 600.3H1292.8M1281.5 596.9V603.2M1282.8 601.9H1301.5M1293 593.5V609.8M1297.1 601.1H1309.6M1303.7 592.2V610.8M1305.4 600.3H1321.8M1313.5 597V603.7M1304 602.2H1335.6M1319.1 594.4V608.5M1314.4 600.6H1330.8M1323.1 595.2V606.5M1318.2 601.4H1337.5M1327.8 597.1V605.2M1318.4 602.5H1344M1334.9 596V613.6M1329 601.8H1352.9M1340.9 596.6V607.2M1335.3 600.9H1355.4M1345.7 597.6V604.2M1268.2 607.3H1288M1275.9 599.7V618.4M1266.2 605H1293.6M1281.1 597.1V613.2M1278 607.4H1307.3M1291.1 599.3V617.1M1292.3 607.2H1309.2M1301.7 601.3V612.7M1295.6 607.5H1318.1M1306.8 603.9V615.7M1299.6 606.5H1321.6M1310.2 600.9V611.4M1307.1 605.2H1324.8M1315.5 597.2V612.8M1307.7 606.1H1331.6M1320 597.9V613.6M1318.1 607.2H1335.2M1327.5 598.6V617.4M1249.7 609.3H1271M1259.9 604.7V613M1250.3 610.5H1281.3M1265.9 605.5V616.5M1256 609.7H1286.6M1271.9 601.7V616.3M1271.7 611.1H1296.3M1283.6 607.6V614.2M1275.3 611.8H1301.8M1288.4 605.6V621.1M1288 611.7H1303.3M1296.4 604.8V619.4M1290.3 611.5H1312.4M1302.4 603.7V620.1M1311 611.3H1340.4M1323.5 603.1V622.5M1255.8 615.6H1269.7M1263.5 608.2V623.2M1259.4 614.5H1279.8M1268.8 606.7V622.5M1264.3 616.1H1286.8M1275 613V619.8M1267.1 614.8H1289.4M1278.4 611.5V617.9M1273.7 616.3H1296M1285.1 610.5V626.8M1279.5 615.8H1309.7M1294.2 609.7V624M1295.1 616.6H1313M1304.6 613.1V620.1M1295.8 615.5H1323.8M1309.4 610.4V620.2M1303.8 616.6H1328.5M1316.6 608.8V623.3M1307.6 615.1H1336.5M1321.2 610.1V620.5M1314.8 615.8H1347.7M1331.6 609.7V623.4M1243.4 620.6H1266.1M1256 612.1V629.2M1246.9 619.2H1276.7M1260.5 614.6V623.2M1258 618.5H1283.7M1270.6 610.6V625.7M1270.1 621.1H1284.2M1277.2 617.8V624.9M1278 619.9H1307.5M1291.7 614.8V624M1293.2 619.8H1322.7M1308 615.1V625.2M1297.4 619.3H1328.4M1313 613.3V624.5M1314.8 620.6H1334M1325.4 613.2V629.2M1318.4 619.5H1347.8M1332.6 616V622.3M1244 623.7H1273.3M1259.5 615.3V633.4M1261.2 622.6H1288M1274.2 618.2V626.5M1269.8 623.1H1298.5M1285.5 619.5V627.4M1280.4 624.3H1303M1291 617.4V630.1M1287.7 624H1303.2M1294.7 617.2V631.8M1299.3 624.3H1313.6M1306.6 616.9V632.3M1302.6 624.6H1316.1M1309.7 620.9V628.2M1303.2 625.5H1331.8M1316.1 619.3V632.7M1310.1 623.8H1332.1M1321.2 620.3V626.6M1246.1 628.9H1268.1M1257.6 621.3V636.1M1254 627.1H1269.1M1261.9 623.1V630.4M1251.2 628.3H1283.4M1266.8 621.7V635.9M1263 628.4H1282.5M1273.3 620V634.7M1275.3 629.4H1290.1M1283.5 623.9V634.3M1272.6 630.1H1303M1286.9 625.8V637.4M1277.7 629.9H1307.9M1293.4 621.7V638M1287.6 627.1H1314M1302 621.6V633.5M1292.8 627.7H1322M1307.2 622V633.4M1303.2 629.8H1324.6M1314.5 622.6V638.1M1315 628.8H1333.7M1323.6 623.8V633.7M1241.5 633H1258.5M1249.4 624.5V640.9M1242.8 632.6H1263.5M1252.6 625.4V640.8M1252.4 634.1H1265.3M1259.2 630V637.5M1252.7 633.6H1274.3M1263.2 627.3V640.3M1257.2 632.6H1280.6M1269 628.8V636.4M1272.6 633.4H1287.4M1280.3 628.4V638.4M1286.7 634.2H1303.5M1295.6 625.8V645.5M1286.1 634.4H1317.6M1301.4 629.5V639.8M1294.1 633.4H1325.1M1306.7 626V643.3M1301.4 633.1H1329.2M1315.4 628.2V638.5M1307.2 634H1331.4M1320 626.9V642.1M1233.3 636H1245.7M1239.8 632.3V639.1M1240.4 637.3H1262.1M1252.2 628.3V647M1241.3 637.7H1275.9M1257.2 629.3V646.3M1253.4 638.1H1283.5M1267.1 631.4V650.9M1265.5 636.1H1279.3M1273 631.2V641.6M1263.2 637.7H1288M1276.9 629.5V644.6M1279.7 636.4H1294.3M1286.9 628.9V643.1M1290.6 639H1309.9M1299.3 633V644.7M1294.9 637.3H1323M1308.2 629.5V644.5M1303.9 637.6H1320M1312.6 629.1V645.1M1224.7 643.5H1242.6M1233.2 640V646.8M1225.4 642.2H1251.1M1237.4 639.1V645.5M1235.7 642.6H1254.6M1244.4 637.5V647.3M1234.1 641.3H1265.5M1249.7 634.4V646.8M1237.5 640.9H1271.8M1253.3 636.3V646.2M1250.1 643.3H1265.8M1257.8 639.4V647.7M1256.1 642.9H1270M1263.4 635.7V649.2M1265 643.6H1288.3M1274.7 636.7V656.1M1271.3 641.9H1291.7M1280.6 633.7V650.4M1280.8 643.4H1299.1M1290.2 637.2V653M1282.9 641H1306.8M1294.6 633.7V647.5M1291.3 641.5H1325.4M1307.1 637V645.7M1298.1 641.9H1323.1M1310.9 634.3V650.1M1306.6 642.1H1328.3M1317.2 638V645.8M1221.7 646.8H1248.7M1234.9 638.5V656.1M1234.1 646.7H1261.5M1250.7 637.9V655.9M1244.4 647.9H1265.1M1254.6 642.7V653.5M1244.7 646.6H1274.5M1260.4 641.2V651.7M1257.8 647.7H1275.8M1265.4 639.3V656.5M1262.7 647.4H1282.3M1272.2 641.1V654.2M1277.2 647.8H1292.3M1283.7 640V654.5M1288.8 646.8H1305.1M1296.3 638.6V656.6M1291.7 645H1312.8M1301.5 641.4V648.6M1221.9 649.7H1234.6M1228.7 644V654.6M1222.7 651.9H1241.7M1232.7 646.9V657.4M1250.4 650.8H1265.5M1257.8 644.3V656.7M1250 651.2H1277.2M1264.7 644.7V657.6M1259.7 652.4H1293.5M1275.6 643.5V662.4M1270.6 651.4H1288.6M1278.8 647.2V656.2M1274.8 652.1H1295.6M1284.5 644.2V661M1276.4 650.6H1309.2M1291.3 642.8V661.7M1219.8 656.3H1241.4M1230.4 652.1V661.1M1229.1 656.7H1262.1M1246.5 651V667.1M1240.2 655.6H1274.1M1255.9 652V659.8M1248.3 655.1H1273.1M1261 649.5V660M1264 655.4H1276.2M1270.6 652V658.1M1274.9 655.3H1304M1288.2 648.4V663.2M1282.1 656.8H1299.4M1291.2 652V661.4M1210.6 661.6H1237.1M1223.9 658.5V667M1216 660.5H1239.2M1227.6 653.6V667.2M1218.7 659.7H1247.5M1234.2 650.8V668.1M1238.2 658.5H1259.4M1249.7 655.3V662.4M1245.4 658.9H1260.5M1253.1 650.8V666.2M1247.2 658.7H1276.5M1262.6 654.1V663M1253.3 660.4H1282.2M1267.7 652.3V668.8M1266.1 658.7H1290.7M1279.7 649.7V666.4M1275.9 661.2H1295.8M1285.7 654.6V667.5M1281.3 661.5H1298.4M1290.3 652.6V669.7M1221.2 663.9H1239.8M1230.6 655.7V671.2M1221.1 664.5H1250.6M1236.3 661.1V667.8M1226.5 663.1H1255.3M1239.9 654.2V673.3M1229.1 663.2H1260.3M1244.8 659.9V666.2M1238 665.5H1267M1251.9 662.4V669.1M1240.7 663.1H1270.9M1255.6 660V665.9M1247.8 664.5H1276.9M1262.1 660.4V668.1M1250.4 665.2H1282.2M1265.4 656.7V673.6M1259.5 664H1279.7M1270.6 656.2V673.2M1226.5 669.1H1239.7M1233.1 660.8V677.1M1226.2 668H1246.1M1236.9 661.1V674.1M1228.4 667.7H1258M1242.8 659.3V675.2M1242 669.4H1256.3M1249.7 666V672.1M1241.3 669.1H1263.7M1253.7 663.1V676.1M1243.6 667.6H1274.8M1258.7 664.2V671M1251.7 668.3H1272.3M1262.4 662.4V674.6M1261.9 667.5H1278.2M1270.3 661.4V674.2M1266.7 668.4H1292.3M1280.5 663.1V673.4M1275.8 669.2H1291.6M1283.6 661.3V677M1215.6 672.4H1232.7M1224.4 665.3V679.7M1215.8 674.9H1245.1M1230.3 670.8V679.4M1226.3 673H1240.3M1233.9 665.4V680.2M1225.7 674.2H1254.1M1239.6 668.1V681.4M1235.4 675H1254M1245.5 666.7V683.1M1241.5 673.9H1262.1M1251.7 665.9V681.3M1241.8 674.4H1268.9M1255.4 669.7V679.7M1255 674.4H1270M1262.4 666.2V682.1M1252.7 673.2H1281.3M1266.3 667.6V679.5M1264.5 672.6H1277.3M1271.1 665.2V679.7M1263.4 672.7H1295.5M1278.2 666V682.4M1282.4 673.5H1295.5M1288.8 664.6V683.8M1221 679.3H1243.7M1232.5 673.2V686.4M1238.9 679.6H1258.1M1247.8 672.9V691.7M1242.7 679.6H1275.1M1257.7 671.1V692.2M1256.1 676.8H1279.2M1268.9 670.1V683.2M1261.2 677H1287.8M1275.1 669V683.7M1271.3 678.9H1285.9M1278.7 673.9V683.9M1272.9 676.6H1293.5M1284.3 668.1V686.2M1209.4 681.7H1237.4M1224.8 676.1V687.5M1216.1 682.3H1244.1M1230.5 677.9V687.2M1225.2 683.2H1243.8M1234 675.3V690.7M1229.8 681.5H1254.7M1241.4 672.9V690.2M1241.8 683.1H1270.3M1256.1 675V691.8M1258.2 681.4H1275.7M1267.2 678.2V684.1M1266.3 681.6H1279.9M1273.1 675.7V686.9M1263.3 683.9H1292.9M1277.7 679.8V690.6M1216.5 688.5H1248.2M1232.3 680.7V695.8M1221.4 686.3H1254.2M1237.3 678.4V693.2M1236.5 687.1H1251.3M1244.6 678.7V695.3M1236.7 688.5H1260.4M1248.2 682.9V693M1244.3 688.4H1265.6M1254.8 682.3V695.2M1244.3 686.6H1276.6M1259.7 682.6V690.6M1251.4 686.3H1273.1M1263.2 680V692.7M1259.6 688.5H1276.1M1268 681.6V694.4M1259.4 688.5H1292M1274.8 681.9V694.2M1232.4 691.1H1251.5M1241.4 685.5V695.8M1237.7 691.6H1254.4M1245.9 684.6V699.6M1241.1 692.8H1271.9M1255.7 685.8V700.3M1249.4 690.1H1277.8M1262.5 685.3V694.1M1400.2 374.7H1436.1M1418.2 350.3V395.2M1357.9 396.1H1418.2M1389 385.6V406.7M1397.6 401.3H1440M1423.6 375.9V417M1366.2 413.5H1429.1M1397.3 386.8V440.1M1406.6 423.2H1435.5M1379.7 427.7H1410.5M1307.8 434.7H1352.1M1330 424.7V443.3M1340.5 447.8H1360.4M1350.4 432.4V461.9M1366.2 444.3H1383.5M1398.3 448.8H1440M1436.1 429.8V455.5M1424.3 464.5H1441.3M1432.3 461.1V467.2M1411.8 469.9H1434.9M1423.6 466V474M1331.4 472.8H1360.1M1346.1 465.3V481.5M1334.1 479.3H1358.5M1366.2 472.4H1391.2M1398.3 474.5H1416.9M1348.7 485.7H1374M1361.1 477.8V492M1316.5 487.6H1338.6M1327.3 478V496.6M1334.6 497.2H1364.1M1349.3 491.2V503.8M1390.4 494.7H1422.8M1406 485.9V503.8M1391.2 503.6H1419.9M1406.6 495.8V513.1M1368.1 507.5H1386.3M1377.8 502.2V513.5M1410.5 505.6H1437.5M1423.6 499V513.6M1425.6 490.8H1444.4M1435.5 485.6V496.2M1424.6 481.2H1446.3M1434.9 472.8V490M1253.9 513H1312.3M1331.8 515.2H1353.5M1342.5 508.6V520.6M1325.9 518.4H1340.5M1332.8 512.8V523.2M1325 522.2H1347.2M1336 519.1V525.9M1401 515.8H1431.6M1416.3 509.8V521.1M1379.8 522.2H1400.2M1391.2 513.5V531.1M1385.8 523.5H1411.4M1399.6 515.4V531M1367.1 527.4H1396.2M1382.2 518.9V534.7M1353 527.4H1383.9M1368.8 518.6V537M1339.6 525.5H1365.5M1352.1 516.8V532.6M1406.6 526.1H1434.2M1418.2 522.6V529.5M1304.5 532.3H1319.6M1311.7 526.5V537.7M1311.8 528H1334.8M1323.2 524.8V530.6M1313 533.8H1343.4M1328.3 525.5V543.7M1325.4 532.5H1342M1333.5 523.5V541.3M1329.2 531.9H1362M1345 523.3V541.3M1338.1 533.8H1361.1M1350.2 525.6V542.3M1349.7 533.2H1371M1360.4 524.6V540.7M1384.2 532.5H1408.1M1396.4 524.6V540.8M1391.5 529.9H1420M1405.3 521.2V538.9M1402.4 531.2H1425M1415.6 523.8V540M1381.1 537.6H1407.7M1395.1 529.9V544.4M1279.6 541.2H1295.6M1287.7 536.3V545.4M1299.8 542.8H1331.6M1314.9 538.4V547.4M1308.9 539.6H1337.3M1323.2 533V546.3M1326.8 538.3H1341.4M1334.8 530V546.7M1416 542.1H1439.2M1427.8 533.2V550.2M1391.4 542.1H1421.5M1406 533.5V550.7M1387.2 542.8H1402.1M1395.1 535.8V549M1344 544.1H1378.5M1360.4 535.9V552.7M1358.8 540.2H1390M1374.5 533.6V547.1M1366.6 545.3H1384M1374.5 539V551.3M1322 549.2H1340.5M1330.9 542.4V556.6M1335.7 550.2H1362.4M1348.6 544.2V557.1M1358.5 551.8H1384.9M1372 545.5V557.6M1366.3 550.5H1391.8M1378.4 540.4V557.7M1377 549.2H1396.3M1386.1 544V553.8M1373.7 553.7H1398.7M1387.4 544.7V561.5M1348 554.3H1370.9M1360.4 548V561M1377.2 556.9H1465.8M1420.7 548.8V563.7M1261.9 564H1278.6M1269.9 555.4V574.1M1266.9 559.5H1292.5M1279.6 555V564.3M1279.1 558.8H1300.7M1290.5 550.2V567M1268.7 564.6H1297.7M1283.4 559.4V570.3M1286.3 567.2H1304M1295 559.6V575.9M1288.1 564.6H1315.7M1300.7 560.1V569.1M1306.6 556.9H1320.2M1312.9 551.7V561.3M1312.9 555.6H1326.3M1319.4 549.4V562.3M1316.2 562H1331.4M1323.2 554.8V568.7M1311 565.9H1340.8M1326.4 561.8V569.8M1381.6 569.1H1406.9M1393.2 560.6V576.2M1373.3 574.9H1398.9M1387.4 566.2V582.9M1390.3 579.4H1421.2M1404.7 571.8V588.5M1299.1 571.8H1329.4M1314.5 567.7V576.3M1311.2 570.9H1337.5M1324.8 562.5V578.1M1314.5 570.7H1343.4M1328.4 565.4V575.9M1332.6 571.1H1354.4M1341.8 563.9V576.7M1338.6 571.6H1352.2M1345.1 565.6V577.8M1339.2 571.9H1371.4M1354.5 568.9V574.7M1317.7 579.7H1344.7M1330.2 575V585.1M1328.3 579.9H1356.6M1341.5 575.6V587M1446.2 353.5H1480.2M1462.9 340V374.7M1478.4 340H1509M1492.4 334.2V345.6M1511 356.3H1593.2M1552.1 347.7V361.2M1489.8 365H1573.3M1502.7 385.9H1521.9M1512.6 371.4V391.3M1473.4 390.3H1498.9M1487 382.7V396.9M1479.3 395.8H1508.1M1494.3 388.9V403.5M1472.5 401.9H1494.2M1483.4 394.7V410.2M1435.3 395.8H1466.7M1482.5 412.5H1512.9M1496.9 408.9V416.2M1482 418.3H1496M1488.6 413.3V423.2M1468 417H1482.2M1475.7 411V422M1474.8 420.9H1491.8M1483.4 417.8V424.3M1476.3 424.7H1505.2M1489.8 417.4V433.5M1505.2 415.1H1534.8M1500.1 426.9H1536.7M1518.1 415.1V445.2M1447.2 424.1H1466.3M1456.5 417.6V429.7M1451.4 423.4H1475.4M1464.2 418V428.5M1435 430.2H1467.3M1450.7 424.8V436.2M1457.9 433.7H1477.1M1466.7 429.7V436.9M1449.2 438.8H1468.9M1459 430.3V448M1456.1 454H1477M1467.4 447.4V461.3M1467.1 456.1H1486M1475.7 448.8V462.2M1468.1 458.1H1494.1M1482.1 454.8V461.5M1475.7 458.1H1502.2M1489.8 451.2V465.9M1504.2 456.5H1522.4M1512.6 450.8V462M1495.6 461.9H1511.4M1504 457.2V467.4M1491.1 467.7H1507.5M1500.1 464.5V471.2M1499.1 471.6H1521.5M1511 465.5V478.1M1461.4 469.6H1489.8M1476.4 460.6V479.3M1456.4 474.8H1474.9M1466.1 468.8V479.8M1449.8 479.3H1475M1463.8 474.8V483.2M1429.8 474.5H1447.6M1438.5 470.9V477.8M1480.6 483.7H1492.5M1487 476.4V492.3M1476.4 494H1497.3M1487 488.8V499.3M1466.1 495.3H1487M1477 489.1V501.6M1463.6 501.1H1491.8M1477 495.2V533.4M1459 497.2H1480.2M1469 490.7V503.3M1431.9 494.7H1458.8M1445.6 486.4V501.4M1443.3 493.4H1462M1452 486.5V500.7M1492.4 494.7H1525.8M1463.5 191.4H1525.8M1494.7 156.5V228.3M1555.3 210H1589.9M1572.4 109.6V310.5M1459 226.8H1518.7M1488.6 195.6V292.5M1489.8 258.5H1511.7M1498.2 204V311.8M1519.4 255.7H1559.8M1539.9 214.2V297M1449.4 287.6H1514.2M1480.9 270.1V305.3M1474.3 286.7H1500.7M1488.6 278.7V294.6M1476.4 309.5H1506.5M1455.2 317.5H1489.8M1469.9 300.9V332.3M1466.3 322H1491M1477.9 318.8V325.3M1413.5 325.2H1462.9M1437.5 309.8V340M1477 336.1H1509.1M1361.3 534.7H1390.1M1375.9 528.8V539.4M1381.7 587H1394.7M1388.5 579.7V593.4M1387.2 587.9H1407.4M1397.1 579V595.1M1338.4 571.9H1361.1M1349 566.1V578M1363.3 621.7H1385.7M1375 615.5V627.6M1368.4 632.6H1383.9M1375.9 626.8V638.9M1266.7 570V595.7M1309.7 665.6H1370M1304.5 675.2H1332.8M1345.6 630.3H1361M1329 491.4V517.1M1266.7 539.6V580M1368.1 510.7V527.4M1418.8 494V560.7M1423.3 490.2V510.7M1406 482.5V500.4M1437.4 429.8V445.2M1382.2 514.5V524.8M1377.1 554.3H1440M1392.5 550.5H1407.9M1420.7 531.9H1440M1405.3 526.1H1434.9M1298.8 541.5H1315.5M1256.5 564H1271.9M1451 346.4V442.7M1487.3 340V391.3M1491.1 340V359.3M1530.9 340V402.9M1477 481.2V533.8M1451.3 476V510.7M1502 442.7V491.4M1488.6 429.8V452.9M1437.2 429.8V450.4M1418.6 350.3V393.9M1423.7 377.2V417M1511 473.5V494M1419.3 532.5V558.2M1494.3 377.9V391.3M1464.2 396.5V422.1M1475.7 399V414.4M1400 401H1482.1M1400 396.5H1418M1469.3 390.7H1505.2M1400 448.8H1461.6M1435.9 429.2H1451.3M1446.2 474.8H1483.4M1423.1 531.2H1441.1M1489.8 257.9V340M1478.3 292.5V340M1530.9 326.5V340M1463.5 332.3V340M1451.7 500V510.3M1369.3 510.3V523.1M1419.6 533.4V551.3M1365.7 561.6V598.8M1387.5 559V598.8M1345.8 606.5V632.2M1422.1 531.4H1441.4M1424.7 526.3H1435M1382.4 632.8H1392.6M1342.6 666.2H1371.4M1370.8 580.2H1420.9M1375.3 587.9H1411.9" stroke="#BEBEBE" stroke-width="3.15" fill="none"/>
<line x1="1106.3" y1="813.4" x2="1870.6" y2="24.9" stroke="#000" stroke-width="3.45"/>
<path d="M1234 579a5.1 5.1 0 1 0 10.2 0a5.1 5.1 0 1 0 -10.2 0M1235.3 571.3a5.1 5.1 0 1 0 10.2 0a5.1 5.1 0 1 0 -10.2 0M1171.7 706.7a5.1 5.1 0 1 0 10.2 0a5.1 5.1 0 1 0 -10.2 0M1185.5 702.8a5.1 5.1 0 1 0 10.2 0a5.1 5.1 0 1 0 -10.2 0M1198.1 700.9a5.1 5.1 0 1 0 10.2 0a5.1 5.1 0 1 0 -10.2 0M1196.8 708.6a5.1 5.1 0 1 0 10.2 0a5.1 5.1 0 1 0 -10.2 0M1207 707.3a5.1 5.1 0 1 0 10.2 0a5.1 5.1 0 1 0 -10.2 0M1212.2 703.5a5.1 5.1 0 1 0 10.2 0a5.1 5.1 0 1 0 -10.2 0M1203.2 712.5a5.1 5.1 0 1 0 10.2 0a5.1 5.1 0 1 0 -10.2 0M1208.3 717.6a5.1 5.1 0 1 0 10.2 0a5.1 5.1 0 1 0 -10.2 0M1213.5 717.6a5.1 5.1 0 1 0 10.2 0a5.1 5.1 0 1 0 -10.2 0M1179.4 721.4a5.1 5.1 0 1 0 10.2 0a5.1 5.1 0 1 0 -10.2 0M1173 732.4a5.1 5.1 0 1 0 10.2 0a5.1 5.1 0 1 0 -10.2 0M1174.3 735.6a5.1 5.1 0 1 0 10.2 0a5.1 5.1 0 1 0 -10.2 0M1171.7 742.6a5.1 5.1 0 1 0 10.2 0a5.1 5.1 0 1 0 -10.2 0M1186.5 733a5.1 5.1 0 1 0 10.2 0a5.1 5.1 0 1 0 -10.2 0M1189.1 742a5.1 5.1 0 1 0 10.2 0a5.1 5.1 0 1 0 -10.2 0M1198.1 730.4a5.1 5.1 0 1 0 10.2 0a5.1 5.1 0 1 0 -10.2 0M1201.9 735.6a5.1 5.1 0 1 0 10.2 0a5.1 5.1 0 1 0 -10.2 0M1196.8 738.1a5.1 5.1 0 1 0 10.2 0a5.1 5.1 0 1 0 -10.2 0M1232.5 739.4a5.1 5.1 0 1 0 10.2 0a5.1 5.1 0 1 0 -10.2 0M1231.4 700.9a5.1 5.1 0 1 0 10.2 0a5.1 5.1 0 1 0 -10.2 0M1240.4 711.2a5.1 5.1 0 1 0 10.2 0a5.1 5.1 0 1 0 -10.2 0M1252.6 715.3a5.1 5.1 0 1 0 10.2 0a5.1 5.1 0 1 0 -10.2 0M1227.6 723.4a5.1 5.1 0 1 0 10.2 0a5.1 5.1 0 1 0 -10.2 0M1231.4 719.5a5.1 5.1 0 1 0 10.2 0a5.1 5.1 0 1 0 -10.2 0M1269.9 727.2a5.1 5.1 0 1 0 10.2 0a5.1 5.1 0 1 0 -10.2 0M1273.8 733a5.1 5.1 0 1 0 10.2 0a5.1 5.1 0 1 0 -10.2 0M1311 702.2a5.1 5.1 0 1 0 10.2 0a5.1 5.1 0 1 0 -10.2 0M1311.6 718.2a5.1 5.1 0 1 0 10.2 0a5.1 5.1 0 1 0 -10.2 0M1298.2 664.3a5.1 5.1 0 1 0 10.2 0a5.1 5.1 0 1 0 -10.2 0M1314.8 668.8a5.1 5.1 0 1 0 10.2 0a5.1 5.1 0 1 0 -10.2 0M1312.9 675.2a5.1 5.1 0 1 0 10.2 0a5.1 5.1 0 1 0 -10.2 0M1332.2 663.7a5.1 5.1 0 1 0 10.2 0a5.1 5.1 0 1 0 -10.2 0M1349.5 666a5.1 5.1 0 1 0 10.2 0a5.1 5.1 0 1 0 -10.2 0M1357.2 617.5a5.1 5.1 0 1 0 10.2 0a5.1 5.1 0 1 0 -10.2 0M1357.8 629.3a5.1 5.1 0 1 0 10.2 0a5.1 5.1 0 1 0 -10.2 0M1204.5 658.8a5.1 5.1 0 1 0 10.2 0a5.1 5.1 0 1 0 -10.2 0M1196.1 672.7a5.1 5.1 0 1 0 10.2 0a5.1 5.1 0 1 0 -10.2 0M1198.1 677.8a5.1 5.1 0 1 0 10.2 0a5.1 5.1 0 1 0 -10.2 0M1205.8 675.2a5.1 5.1 0 1 0 10.2 0a5.1 5.1 0 1 0 -10.2 0M1233.7 611.1a5.1 5.1 0 1 0 10.2 0a5.1 5.1 0 1 0 -10.2 0M1226.3 622.6a5.1 5.1 0 1 0 10.2 0a5.1 5.1 0 1 0 -10.2 0M1230.1 629a5.1 5.1 0 1 0 10.2 0a5.1 5.1 0 1 0 -10.2 0M1214.7 667.5a5.1 5.1 0 1 0 10.2 0a5.1 5.1 0 1 0 -10.2 0M1217.3 654.7a5.1 5.1 0 1 0 10.2 0a5.1 5.1 0 1 0 -10.2 0M1222.4 645.7a5.1 5.1 0 1 0 10.2 0a5.1 5.1 0 1 0 -10.2 0M1227.6 639.3a5.1 5.1 0 1 0 10.2 0a5.1 5.1 0 1 0 -10.2 0M1231.4 634.2a5.1 5.1 0 1 0 10.2 0a5.1 5.1 0 1 0 -10.2 0M1240.4 635.5a5.1 5.1 0 1 0 10.2 0a5.1 5.1 0 1 0 -10.2 0M1237.8 647a5.1 5.1 0 1 0 10.2 0a5.1 5.1 0 1 0 -10.2 0M1252.6 597.6a5.1 5.1 0 1 0 10.2 0a5.1 5.1 0 1 0 -10.2 0M1260.9 598.9a5.1 5.1 0 1 0 10.2 0a5.1 5.1 0 1 0 -10.2 0M1253.2 612.4a5.1 5.1 0 1 0 10.2 0a5.1 5.1 0 1 0 -10.2 0M1259.7 607.2a5.1 5.1 0 1 0 10.2 0a5.1 5.1 0 1 0 -10.2 0M1269.9 575.8a5.1 5.1 0 1 0 10.2 0a5.1 5.1 0 1 0 -10.2 0M1278.9 577.1a5.1 5.1 0 1 0 10.2 0a5.1 5.1 0 1 0 -10.2 0M1273.8 589.3a5.1 5.1 0 1 0 10.2 0a5.1 5.1 0 1 0 -10.2 0M1302 580.3a5.1 5.1 0 1 0 10.2 0a5.1 5.1 0 1 0 -10.2 0M1291.7 586.7a5.1 5.1 0 1 0 10.2 0a5.1 5.1 0 1 0 -10.2 0M1217.3 691.9a5.1 5.1 0 1 0 10.2 0a5.1 5.1 0 1 0 -10.2 0M1222.4 688.1a5.1 5.1 0 1 0 10.2 0a5.1 5.1 0 1 0 -10.2 0M1246.8 691.9a5.1 5.1 0 1 0 10.2 0a5.1 5.1 0 1 0 -10.2 0M1258.4 693.2a5.1 5.1 0 1 0 10.2 0a5.1 5.1 0 1 0 -10.2 0M1266.1 697.1a5.1 5.1 0 1 0 10.2 0a5.1 5.1 0 1 0 -10.2 0M1231.4 695.8a5.1 5.1 0 1 0 10.2 0a5.1 5.1 0 1 0 -10.2 0M1309.7 652.1a5.1 5.1 0 1 0 10.2 0a5.1 5.1 0 1 0 -10.2 0M1314.8 649.6a5.1 5.1 0 1 0 10.2 0a5.1 5.1 0 1 0 -10.2 0M1304.6 647a5.1 5.1 0 1 0 10.2 0a5.1 5.1 0 1 0 -10.2 0M1343.1 621.3a5.1 5.1 0 1 0 10.2 0a5.1 5.1 0 1 0 -10.2 0M1336.7 614.9a5.1 5.1 0 1 0 10.2 0a5.1 5.1 0 1 0 -10.2 0M1332.8 608.5a5.1 5.1 0 1 0 10.2 0a5.1 5.1 0 1 0 -10.2 0M1333 571a5.1 5.1 0 1 0 10.2 0a5.1 5.1 0 1 0 -10.2 0M1356.1 570.5a5.1 5.1 0 1 0 10.2 0a5.1 5.1 0 1 0 -10.2 0M1364.3 570.9a5.1 5.1 0 1 0 10.2 0a5.1 5.1 0 1 0 -10.2 0M1312.5 575.9a5.1 5.1 0 1 0 10.2 0a5.1 5.1 0 1 0 -10.2 0M1318.1 574.7a5.1 5.1 0 1 0 10.2 0a5.1 5.1 0 1 0 -10.2 0M1323.7 575.2a5.1 5.1 0 1 0 10.2 0a5.1 5.1 0 1 0 -10.2 0M1329.3 575.8a5.1 5.1 0 1 0 10.2 0a5.1 5.1 0 1 0 -10.2 0M1334.2 575a5.1 5.1 0 1 0 10.2 0a5.1 5.1 0 1 0 -10.2 0M1340.9 574.7a5.1 5.1 0 1 0 10.2 0a5.1 5.1 0 1 0 -10.2 0M1345.1 575.9a5.1 5.1 0 1 0 10.2 0a5.1 5.1 0 1 0 -10.2 0M1351.1 575.6a5.1 5.1 0 1 0 10.2 0a5.1 5.1 0 1 0 -10.2 0M1356.1 573.5a5.1 5.1 0 1 0 10.2 0a5.1 5.1 0 1 0 -10.2 0M1360.5 575.3a5.1 5.1 0 1 0 10.2 0a5.1 5.1 0 1 0 -10.2 0M1307.1 580.5a5.1 5.1 0 1 0 10.2 0a5.1 5.1 0 1 0 -10.2 0M1311.5 579a5.1 5.1 0 1 0 10.2 0a5.1 5.1 0 1 0 -10.2 0M1320 579a5.1 5.1 0 1 0 10.2 0a5.1 5.1 0 1 0 -10.2 0M1332.2 579.7a5.1 5.1 0 1 0 10.2 0a5.1 5.1 0 1 0 -10.2 0M1348.2 580.1a5.1 5.1 0 1 0 10.2 0a5.1 5.1 0 1 0 -10.2 0M1357.4 578.1a5.1 5.1 0 1 0 10.2 0a5.1 5.1 0 1 0 -10.2 0M1362.5 579.6a5.1 5.1 0 1 0 10.2 0a5.1 5.1 0 1 0 -10.2 0M1297.5 584.3a5.1 5.1 0 1 0 10.2 0a5.1 5.1 0 1 0 -10.2 0M1308.8 584a5.1 5.1 0 1 0 10.2 0a5.1 5.1 0 1 0 -10.2 0M1313.1 583a5.1 5.1 0 1 0 10.2 0a5.1 5.1 0 1 0 -10.2 0M1323.8 583.4a5.1 5.1 0 1 0 10.2 0a5.1 5.1 0 1 0 -10.2 0M1329 583a5.1 5.1 0 1 0 10.2 0a5.1 5.1 0 1 0 -10.2 0M1333.4 583.7a5.1 5.1 0 1 0 10.2 0a5.1 5.1 0 1 0 -10.2 0M1351.3 584.3a5.1 5.1 0 1 0 10.2 0a5.1 5.1 0 1 0 -10.2 0M1356.1 584.4a5.1 5.1 0 1 0 10.2 0a5.1 5.1 0 1 0 -10.2 0M1301.2 586.6a5.1 5.1 0 1 0 10.2 0a5.1 5.1 0 1 0 -10.2 0M1306.6 587.9a5.1 5.1 0 1 0 10.2 0a5.1 5.1 0 1 0 -10.2 0M1311.8 587.9a5.1 5.1 0 1 0 10.2 0a5.1 5.1 0 1 0 -10.2 0M1315.7 589.5a5.1 5.1 0 1 0 10.2 0a5.1 5.1 0 1 0 -10.2 0M1321.3 587.8a5.1 5.1 0 1 0 10.2 0a5.1 5.1 0 1 0 -10.2 0M1331.3 587a5.1 5.1 0 1 0 10.2 0a5.1 5.1 0 1 0 -10.2 0M1335.5 588.7a5.1 5.1 0 1 0 10.2 0a5.1 5.1 0 1 0 -10.2 0M1345.9 589.4a5.1 5.1 0 1 0 10.2 0a5.1 5.1 0 1 0 -10.2 0M1351.3 588.7a5.1 5.1 0 1 0 10.2 0a5.1 5.1 0 1 0 -10.2 0M1357.2 588.5a5.1 5.1 0 1 0 10.2 0a5.1 5.1 0 1 0 -10.2 0M1286.6 592.6a5.1 5.1 0 1 0 10.2 0a5.1 5.1 0 1 0 -10.2 0M1292.1 593.2a5.1 5.1 0 1 0 10.2 0a5.1 5.1 0 1 0 -10.2 0M1309.5 591.6a5.1 5.1 0 1 0 10.2 0a5.1 5.1 0 1 0 -10.2 0M1318.4 592.6a5.1 5.1 0 1 0 10.2 0a5.1 5.1 0 1 0 -10.2 0M1329.8 592.3a5.1 5.1 0 1 0 10.2 0a5.1 5.1 0 1 0 -10.2 0M1338.2 591.8a5.1 5.1 0 1 0 10.2 0a5.1 5.1 0 1 0 -10.2 0M1343.5 592.5a5.1 5.1 0 1 0 10.2 0a5.1 5.1 0 1 0 -10.2 0M1286 597.9a5.1 5.1 0 1 0 10.2 0a5.1 5.1 0 1 0 -10.2 0M1294.7 598a5.1 5.1 0 1 0 10.2 0a5.1 5.1 0 1 0 -10.2 0M1306.8 596.1a5.1 5.1 0 1 0 10.2 0a5.1 5.1 0 1 0 -10.2 0M1312.3 597.6a5.1 5.1 0 1 0 10.2 0a5.1 5.1 0 1 0 -10.2 0M1320.5 597.3a5.1 5.1 0 1 0 10.2 0a5.1 5.1 0 1 0 -10.2 0M1326.3 596.1a5.1 5.1 0 1 0 10.2 0a5.1 5.1 0 1 0 -10.2 0M1333.2 595.7a5.1 5.1 0 1 0 10.2 0a5.1 5.1 0 1 0 -10.2 0M1342.8 597.3a5.1 5.1 0 1 0 10.2 0a5.1 5.1 0 1 0 -10.2 0M1270.9 602.6a5.1 5.1 0 1 0 10.2 0a5.1 5.1 0 1 0 -10.2 0M1276.4 600.3a5.1 5.1 0 1 0 10.2 0a5.1 5.1 0 1 0 -10.2 0M1287.9 601.9a5.1 5.1 0 1 0 10.2 0a5.1 5.1 0 1 0 -10.2 0M1298.6 601.1a5.1 5.1 0 1 0 10.2 0a5.1 5.1 0 1 0 -10.2 0M1308.4 600.3a5.1 5.1 0 1 0 10.2 0a5.1 5.1 0 1 0 -10.2 0M1314 602.2a5.1 5.1 0 1 0 10.2 0a5.1 5.1 0 1 0 -10.2 0M1318 600.6a5.1 5.1 0 1 0 10.2 0a5.1 5.1 0 1 0 -10.2 0M1322.7 601.4a5.1 5.1 0 1 0 10.2 0a5.1 5.1 0 1 0 -10.2 0M1329.8 602.5a5.1 5.1 0 1 0 10.2 0a5.1 5.1 0 1 0 -10.2 0M1335.8 601.8a5.1 5.1 0 1 0 10.2 0a5.1 5.1 0 1 0 -10.2 0M1340.6 600.9a5.1 5.1 0 1 0 10.2 0a5.1 5.1 0 1 0 -10.2 0M1270.8 607.3a5.1 5.1 0 1 0 10.2 0a5.1 5.1 0 1 0 -10.2 0M1276 605a5.1 5.1 0 1 0 10.2 0a5.1 5.1 0 1 0 -10.2 0M1286 607.4a5.1 5.1 0 1 0 10.2 0a5.1 5.1 0 1 0 -10.2 0M1296.6 607.2a5.1 5.1 0 1 0 10.2 0a5.1 5.1 0 1 0 -10.2 0M1301.7 607.5a5.1 5.1 0 1 0 10.2 0a5.1 5.1 0 1 0 -10.2 0M1305.1 606.5a5.1 5.1 0 1 0 10.2 0a5.1 5.1 0 1 0 -10.2 0M1310.4 605.2a5.1 5.1 0 1 0 10.2 0a5.1 5.1 0 1 0 -10.2 0M1314.9 606.1a5.1 5.1 0 1 0 10.2 0a5.1 5.1 0 1 0 -10.2 0M1322.4 607.2a5.1 5.1 0 1 0 10.2 0a5.1 5.1 0 1 0 -10.2 0M1254.8 609.3a5.1 5.1 0 1 0 10.2 0a5.1 5.1 0 1 0 -10.2 0M1260.8 610.5a5.1 5.1 0 1 0 10.2 0a5.1 5.1 0 1 0 -10.2 0M1266.8 609.7a5.1 5.1 0 1 0 10.2 0a5.1 5.1 0 1 0 -10.2 0M1278.5 611.1a5.1 5.1 0 1 0 10.2 0a5.1 5.1 0 1 0 -10.2 0M1283.3 611.8a5.1 5.1 0 1 0 10.2 0a5.1 5.1 0 1 0 -10.2 0M1291.3 611.7a5.1 5.1 0 1 0 10.2 0a5.1 5.1 0 1 0 -10.2 0M1297.3 611.5a5.1 5.1 0 1 0 10.2 0a5.1 5.1 0 1 0 -10.2 0M1318.4 611.3a5.1 5.1 0 1 0 10.2 0a5.1 5.1 0 1 0 -10.2 0M1258.4 615.6a5.1 5.1 0 1 0 10.2 0a5.1 5.1 0 1 0 -10.2 0M1263.7 614.5a5.1 5.1 0 1 0 10.2 0a5.1 5.1 0 1 0 -10.2 0M1269.9 616.1a5.1 5.1 0 1 0 10.2 0a5.1 5.1 0 1 0 -10.2 0M1273.3 614.8a5.1 5.1 0 1 0 10.2 0a5.1 5.1 0 1 0 -10.2 0M1280 616.3a5.1 5.1 0 1 0 10.2 0a5.1 5.1 0 1 0 -10.2 0M1289.1 615.8a5.1 5.1 0 1 0 10.2 0a5.1 5.1 0 1 0 -10.2 0M1299.5 616.6a5.1 5.1 0 1 0 10.2 0a5.1 5.1 0 1 0 -10.2 0M1304.3 615.5a5.1 5.1 0 1 0 10.2 0a5.1 5.1 0 1 0 -10.2 0M1311.5 616.6a5.1 5.1 0 1 0 10.2 0a5.1 5.1 0 1 0 -10.2 0M1316.1 615.1a5.1 5.1 0 1 0 10.2 0a5.1 5.1 0 1 0 -10.2 0M1326.5 615.8a5.1 5.1 0 1 0 10.2 0a5.1 5.1 0 1 0 -10.2 0M1250.9 620.6a5.1 5.1 0 1 0 10.2 0a5.1 5.1 0 1 0 -10.2 0M1255.4 619.2a5.1 5.1 0 1 0 10.2 0a5.1 5.1 0 1 0 -10.2 0M1265.5 618.5a5.1 5.1 0 1 0 10.2 0a5.1 5.1 0 1 0 -10.2 0M1272.1 621.1a5.1 5.1 0 1 0 10.2 0a5.1 5.1 0 1 0 -10.2 0M1286.6 619.9a5.1 5.1 0 1 0 10.2 0a5.1 5.1 0 1 0 -10.2 0M1302.9 619.8a5.1 5.1 0 1 0 10.2 0a5.1 5.1 0 1 0 -10.2 0M1307.9 619.3a5.1 5.1 0 1 0 10.2 0a5.1 5.1 0 1 0 -10.2 0M1320.3 620.6a5.1 5.1 0 1 0 10.2 0a5.1 5.1 0 1 0 -10.2 0M1327.5 619.5a5.1 5.1 0 1 0 10.2 0a5.1 5.1 0 1 0 -10.2 0M1254.4 623.7a5.1 5.1 0 1 0 10.2 0a5.1 5.1 0 1 0 -10.2 0M1269.1 622.6a5.1 5.1 0 1 0 10.2 0a5.1 5.1 0 1 0 -10.2 0M1280.4 623.1a5.1 5.1 0 1 0 10.2 0a5.1 5.1 0 1 0 -10.2 0M1285.9 624.3a5.1 5.1 0 1 0 10.2 0a5.1 5.1 0 1 0 -10.2 0M1289.6 624a5.1 5.1 0 1 0 10.2 0a5.1 5.1 0 1 0 -10.2 0M1301.5 624.3a5.1 5.1 0 1 0 10.2 0a5.1 5.1 0 1 0 -10.2 0M1304.6 624.6a5.1 5.1 0 1 0 10.2 0a5.1 5.1 0 1 0 -10.2 0M1311 625.5a5.1 5.1 0 1 0 10.2 0a5.1 5.1 0 1 0 -10.2 0M1316.1 623.8a5.1 5.1 0 1 0 10.2 0a5.1 5.1 0 1 0 -10.2 0M1252.5 628.9a5.1 5.1 0 1 0 10.2 0a5.1 5.1 0 1 0 -10.2 0M1256.8 627.1a5.1 5.1 0 1 0 10.2 0a5.1 5.1 0 1 0 -10.2 0M1261.7 628.3a5.1 5.1 0 1 0 10.2 0a5.1 5.1 0 1 0 -10.2 0M1268.2 628.4a5.1 5.1 0 1 0 10.2 0a5.1 5.1 0 1 0 -10.2 0M1278.4 629.4a5.1 5.1 0 1 0 10.2 0a5.1 5.1 0 1 0 -10.2 0M1281.8 630.1a5.1 5.1 0 1 0 10.2 0a5.1 5.1 0 1 0 -10.2 0M1288.3 629.9a5.1 5.1 0 1 0 10.2 0a5.1 5.1 0 1 0 -10.2 0M1296.9 627.1a5.1 5.1 0 1 0 10.2 0a5.1 5.1 0 1 0 -10.2 0M1302.1 627.7a5.1 5.1 0 1 0 10.2 0a5.1 5.1 0 1 0 -10.2 0M1309.4 629.8a5.1 5.1 0 1 0 10.2 0a5.1 5.1 0 1 0 -10.2 0M1318.5 628.8a5.1 5.1 0 1 0 10.2 0a5.1 5.1 0 1 0 -10.2 0M1244.3 633a5.1 5.1 0 1 0 10.2 0a5.1 5.1 0 1 0 -10.2 0M1247.5 632.6a5.1 5.1 0 1 0 10.2 0a5.1 5.1 0 1 0 -10.2 0M1254.1 634.1a5.1 5.1 0 1 0 10.2 0a5.1 5.1 0 1 0 -10.2 0M1258.1 633.6a5.1 5.1 0 1 0 10.2 0a5.1 5.1 0 1 0 -10.2 0M1263.9 632.6a5.1 5.1 0 1 0 10.2 0a5.1 5.1 0 1 0 -10.2 0M1275.2 633.4a5.1 5.1 0 1 0 10.2 0a5.1 5.1 0 1 0 -10.2 0M1290.5 634.2a5.1 5.1 0 1 0 10.2 0a5.1 5.1 0 1 0 -10.2 0M1296.3 634.4a5.1 5.1 0 1 0 10.2 0a5.1 5.1 0 1 0 -10.2 0M1301.6 633.4a5.1 5.1 0 1 0 10.2 0a5.1 5.1 0 1 0 -10.2 0M1310.3 633.1a5.1 5.1 0 1 0 10.2 0a5.1 5.1 0 1 0 -10.2 0M1314.9 634a5.1 5.1 0 1 0 10.2 0a5.1 5.1 0 1 0 -10.2 0M1234.7 636a5.1 5.1 0 1 0 10.2 0a5.1 5.1 0 1 0 -10.2 0M1247.1 637.3a5.1 5.1 0 1 0 10.2 0a5.1 5.1 0 1 0 -10.2 0M1252.1 637.7a5.1 5.1 0 1 0 10.2 0a5.1 5.1 0 1 0 -10.2 0M1262 638.1a5.1 5.1 0 1 0 10.2 0a5.1 5.1 0 1 0 -10.2 0M1267.9 636.1a5.1 5.1 0 1 0 10.2 0a5.1 5.1 0 1 0 -10.2 0M1271.8 637.7a5.1 5.1 0 1 0 10.2 0a5.1 5.1 0 1 0 -10.2 0M1281.8 636.4a5.1 5.1 0 1 0 10.2 0a5.1 5.1 0 1 0 -10.2 0M1294.2 639a5.1 5.1 0 1 0 10.2 0a5.1 5.1 0 1 0 -10.2 0M1303.1 637.3a5.1 5.1 0 1 0 10.2 0a5.1 5.1 0 1 0 -10.2 0M1307.5 637.6a5.1 5.1 0 1 0 10.2 0a5.1 5.1 0 1 0 -10.2 0M1228.1 643.5a5.1 5.1 0 1 0 10.2 0a5.1 5.1 0 1 0 -10.2 0M1232.3 642.2a5.1 5.1 0 1 0 10.2 0a5.1 5.1 0 1 0 -10.2 0M1239.3 642.6a5.1 5.1 0 1 0 10.2 0a5.1 5.1 0 1 0 -10.2 0M1244.6 641.3a5.1 5.1 0 1 0 10.2 0a5.1 5.1 0 1 0 -10.2 0M1248.2 640.9a5.1 5.1 0 1 0 10.2 0a5.1 5.1 0 1 0 -10.2 0M1252.7 643.3a5.1 5.1 0 1 0 10.2 0a5.1 5.1 0 1 0 -10.2 0M1258.3 642.9a5.1 5.1 0 1 0 10.2 0a5.1 5.1 0 1 0 -10.2 0M1269.6 643.6a5.1 5.1 0 1 0 10.2 0a5.1 5.1 0 1 0 -10.2 0M1275.5 641.9a5.1 5.1 0 1 0 10.2 0a5.1 5.1 0 1 0 -10.2 0M1285.1 643.4a5.1 5.1 0 1 0 10.2 0a5.1 5.1 0 1 0 -10.2 0M1289.5 641a5.1 5.1 0 1 0 10.2 0a5.1 5.1 0 1 0 -10.2 0M1302 641.5a5.1 5.1 0 1 0 10.2 0a5.1 5.1 0 1 0 -10.2 0M1305.8 641.9a5.1 5.1 0 1 0 10.2 0a5.1 5.1 0 1 0 -10.2 0M1312.1 642.1a5.1 5.1 0 1 0 10.2 0a5.1 5.1 0 1 0 -10.2 0M1229.8 646.8a5.1 5.1 0 1 0 10.2 0a5.1 5.1 0 1 0 -10.2 0M1245.6 646.7a5.1 5.1 0 1 0 10.2 0a5.1 5.1 0 1 0 -10.2 0M1249.5 647.9a5.1 5.1 0 1 0 10.2 0a5.1 5.1 0 1 0 -10.2 0M1255.3 646.6a5.1 5.1 0 1 0 10.2 0a5.1 5.1 0 1 0 -10.2 0M1260.3 647.7a5.1 5.1 0 1 0 10.2 0a5.1 5.1 0 1 0 -10.2 0M1267.1 647.4a5.1 5.1 0 1 0 10.2 0a5.1 5.1 0 1 0 -10.2 0M1278.6 647.8a5.1 5.1 0 1 0 10.2 0a5.1 5.1 0 1 0 -10.2 0M1291.2 646.8a5.1 5.1 0 1 0 10.2 0a5.1 5.1 0 1 0 -10.2 0M1296.4 645a5.1 5.1 0 1 0 10.2 0a5.1 5.1 0 1 0 -10.2 0M1223.6 649.7a5.1 5.1 0 1 0 10.2 0a5.1 5.1 0 1 0 -10.2 0M1227.6 651.9a5.1 5.1 0 1 0 10.2 0a5.1 5.1 0 1 0 -10.2 0M1252.7 650.8a5.1 5.1 0 1 0 10.2 0a5.1 5.1 0 1 0 -10.2 0M1259.6 651.2a5.1 5.1 0 1 0 10.2 0a5.1 5.1 0 1 0 -10.2 0M1270.5 652.4a5.1 5.1 0 1 0 10.2 0a5.1 5.1 0 1 0 -10.2 0M1273.7 651.4a5.1 5.1 0 1 0 10.2 0a5.1 5.1 0 1 0 -10.2 0M1279.4 652.1a5.1 5.1 0 1 0 10.2 0a5.1 5.1 0 1 0 -10.2 0M1286.2 650.6a5.1 5.1 0 1 0 10.2 0a5.1 5.1 0 1 0 -10.2 0M1225.3 656.3a5.1 5.1 0 1 0 10.2 0a5.1 5.1 0 1 0 -10.2 0M1241.4 656.7a5.1 5.1 0 1 0 10.2 0a5.1 5.1 0 1 0 -10.2 0M1250.8 655.6a5.1 5.1 0 1 0 10.2 0a5.1 5.1 0 1 0 -10.2 0M1255.9 655.1a5.1 5.1 0 1 0 10.2 0a5.1 5.1 0 1 0 -10.2 0M1265.5 655.4a5.1 5.1 0 1 0 10.2 0a5.1 5.1 0 1 0 -10.2 0M1283.1 655.3a5.1 5.1 0 1 0 10.2 0a5.1 5.1 0 1 0 -10.2 0M1286.1 656.8a5.1 5.1 0 1 0 10.2 0a5.1 5.1 0 1 0 -10.2 0M1218.8 661.6a5.1 5.1 0 1 0 10.2 0a5.1 5.1 0 1 0 -10.2 0M1222.5 660.5a5.1 5.1 0 1 0 10.2 0a5.1 5.1 0 1 0 -10.2 0M1229.1 659.7a5.1 5.1 0 1 0 10.2 0a5.1 5.1 0 1 0 -10.2 0M1244.6 658.5a5.1 5.1 0 1 0 10.2 0a5.1 5.1 0 1 0 -10.2 0M1248 658.9a5.1 5.1 0 1 0 10.2 0a5.1 5.1 0 1 0 -10.2 0M1257.5 658.7a5.1 5.1 0 1 0 10.2 0a5.1 5.1 0 1 0 -10.2 0M1262.6 660.4a5.1 5.1 0 1 0 10.2 0a5.1 5.1 0 1 0 -10.2 0M1274.6 658.7a5.1 5.1 0 1 0 10.2 0a5.1 5.1 0 1 0 -10.2 0M1280.6 661.2a5.1 5.1 0 1 0 10.2 0a5.1 5.1 0 1 0 -10.2 0M1285.2 661.5a5.1 5.1 0 1 0 10.2 0a5.1 5.1 0 1 0 -10.2 0M1225.5 663.9a5.1 5.1 0 1 0 10.2 0a5.1 5.1 0 1 0 -10.2 0M1231.2 664.5a5.1 5.1 0 1 0 10.2 0a5.1 5.1 0 1 0 -10.2 0M1234.8 663.1a5.1 5.1 0 1 0 10.2 0a5.1 5.1 0 1 0 -10.2 0M1239.7 663.2a5.1 5.1 0 1 0 10.2 0a5.1 5.1 0 1 0 -10.2 0M1246.8 665.5a5.1 5.1 0 1 0 10.2 0a5.1 5.1 0 1 0 -10.2 0M1250.5 663.1a5.1 5.1 0 1 0 10.2 0a5.1 5.1 0 1 0 -10.2 0M1257 664.5a5.1 5.1 0 1 0 10.2 0a5.1 5.1 0 1 0 -10.2 0M1260.3 665.2a5.1 5.1 0 1 0 10.2 0a5.1 5.1 0 1 0 -10.2 0M1265.5 664a5.1 5.1 0 1 0 10.2 0a5.1 5.1 0 1 0 -10.2 0M1228 669.1a5.1 5.1 0 1 0 10.2 0a5.1 5.1 0 1 0 -10.2 0M1231.8 668a5.1 5.1 0 1 0 10.2 0a5.1 5.1 0 1 0 -10.2 0M1237.7 667.7a5.1 5.1 0 1 0 10.2 0a5.1 5.1 0 1 0 -10.2 0M1244.6 669.4a5.1 5.1 0 1 0 10.2 0a5.1 5.1 0 1 0 -10.2 0M1248.6 669.1a5.1 5.1 0 1 0 10.2 0a5.1 5.1 0 1 0 -10.2 0M1253.6 667.6a5.1 5.1 0 1 0 10.2 0a5.1 5.1 0 1 0 -10.2 0M1257.3 668.3a5.1 5.1 0 1 0 10.2 0a5.1 5.1 0 1 0 -10.2 0M1265.2 667.5a5.1 5.1 0 1 0 10.2 0a5.1 5.1 0 1 0 -10.2 0M1275.4 668.4a5.1 5.1 0 1 0 10.2 0a5.1 5.1 0 1 0 -10.2 0M1278.5 669.2a5.1 5.1 0 1 0 10.2 0a5.1 5.1 0 1 0 -10.2 0M1219.3 672.4a5.1 5.1 0 1 0 10.2 0a5.1 5.1 0 1 0 -10.2 0M1225.2 674.9a5.1 5.1 0 1 0 10.2 0a5.1 5.1 0 1 0 -10.2 0M1228.8 673a5.1 5.1 0 1 0 10.2 0a5.1 5.1 0 1 0 -10.2 0M1234.5 674.2a5.1 5.1 0 1 0 10.2 0a5.1 5.1 0 1 0 -10.2 0M1240.4 675a5.1 5.1 0 1 0 10.2 0a5.1 5.1 0 1 0 -10.2 0M1246.6 673.9a5.1 5.1 0 1 0 10.2 0a5.1 5.1 0 1 0 -10.2 0M1250.3 674.4a5.1 5.1 0 1 0 10.2 0a5.1 5.1 0 1 0 -10.2 0M1257.3 674.4a5.1 5.1 0 1 0 10.2 0a5.1 5.1 0 1 0 -10.2 0M1261.2 673.2a5.1 5.1 0 1 0 10.2 0a5.1 5.1 0 1 0 -10.2 0M1266 672.6a5.1 5.1 0 1 0 10.2 0a5.1 5.1 0 1 0 -10.2 0M1273.1 672.7a5.1 5.1 0 1 0 10.2 0a5.1 5.1 0 1 0 -10.2 0M1283.7 673.5a5.1 5.1 0 1 0 10.2 0a5.1 5.1 0 1 0 -10.2 0M1227.4 679.3a5.1 5.1 0 1 0 10.2 0a5.1 5.1 0 1 0 -10.2 0M1242.7 679.6a5.1 5.1 0 1 0 10.2 0a5.1 5.1 0 1 0 -10.2 0M1252.6 679.6a5.1 5.1 0 1 0 10.2 0a5.1 5.1 0 1 0 -10.2 0M1263.8 676.8a5.1 5.1 0 1 0 10.2 0a5.1 5.1 0 1 0 -10.2 0M1270 677a5.1 5.1 0 1 0 10.2 0a5.1 5.1 0 1 0 -10.2 0M1273.6 678.9a5.1 5.1 0 1 0 10.2 0a5.1 5.1 0 1 0 -10.2 0M1279.2 676.6a5.1 5.1 0 1 0 10.2 0a5.1 5.1 0 1 0 -10.2 0M1219.7 681.7a5.1 5.1 0 1 0 10.2 0a5.1 5.1 0 1 0 -10.2 0M1225.4 682.3a5.1 5.1 0 1 0 10.2 0a5.1 5.1 0 1 0 -10.2 0M1228.9 683.2a5.1 5.1 0 1 0 10.2 0a5.1 5.1 0 1 0 -10.2 0M1236.3 681.5a5.1 5.1 0 1 0 10.2 0a5.1 5.1 0 1 0 -10.2 0M1251 683.1a5.1 5.1 0 1 0 10.2 0a5.1 5.1 0 1 0 -10.2 0M1262.1 681.4a5.1 5.1 0 1 0 10.2 0a5.1 5.1 0 1 0 -10.2 0M1268 681.6a5.1 5.1 0 1 0 10.2 0a5.1 5.1 0 1 0 -10.2 0M1272.6 683.9a5.1 5.1 0 1 0 10.2 0a5.1 5.1 0 1 0 -10.2 0M1227.2 688.5a5.1 5.1 0 1 0 10.2 0a5.1 5.1 0 1 0 -10.2 0M1232.2 686.3a5.1 5.1 0 1 0 10.2 0a5.1 5.1 0 1 0 -10.2 0M1239.5 687.1a5.1 5.1 0 1 0 10.2 0a5.1 5.1 0 1 0 -10.2 0M1243.1 688.5a5.1 5.1 0 1 0 10.2 0a5.1 5.1 0 1 0 -10.2 0M1249.7 688.4a5.1 5.1 0 1 0 10.2 0a5.1 5.1 0 1 0 -10.2 0M1254.6 686.6a5.1 5.1 0 1 0 10.2 0a5.1 5.1 0 1 0 -10.2 0M1258.1 686.3a5.1 5.1 0 1 0 10.2 0a5.1 5.1 0 1 0 -10.2 0M1262.9 688.5a5.1 5.1 0 1 0 10.2 0a5.1 5.1 0 1 0 -10.2 0M1269.7 688.5a5.1 5.1 0 1 0 10.2 0a5.1 5.1 0 1 0 -10.2 0M1236.3 691.1a5.1 5.1 0 1 0 10.2 0a5.1 5.1 0 1 0 -10.2 0M1240.8 691.6a5.1 5.1 0 1 0 10.2 0a5.1 5.1 0 1 0 -10.2 0M1250.6 692.8a5.1 5.1 0 1 0 10.2 0a5.1 5.1 0 1 0 -10.2 0M1257.4 690.1a5.1 5.1 0 1 0 10.2 0a5.1 5.1 0 1 0 -10.2 0M1413.1 374.7a5.1 5.1 0 1 0 10.2 0a5.1 5.1 0 1 0 -10.2 0M1383.9 396.1a5.1 5.1 0 1 0 10.2 0a5.1 5.1 0 1 0 -10.2 0M1418.5 401.3a5.1 5.1 0 1 0 10.2 0a5.1 5.1 0 1 0 -10.2 0M1392.2 413.5a5.1 5.1 0 1 0 10.2 0a5.1 5.1 0 1 0 -10.2 0M1415.6 423.2a5.1 5.1 0 1 0 10.2 0a5.1 5.1 0 1 0 -10.2 0M1390.2 427.7a5.1 5.1 0 1 0 10.2 0a5.1 5.1 0 1 0 -10.2 0M1324.9 434.7a5.1 5.1 0 1 0 10.2 0a5.1 5.1 0 1 0 -10.2 0M1345.3 447.8a5.1 5.1 0 1 0 10.2 0a5.1 5.1 0 1 0 -10.2 0M1369.8 444.3a5.1 5.1 0 1 0 10.2 0a5.1 5.1 0 1 0 -10.2 0M1431 448.8a5.1 5.1 0 1 0 10.2 0a5.1 5.1 0 1 0 -10.2 0M1427.2 464.5a5.1 5.1 0 1 0 10.2 0a5.1 5.1 0 1 0 -10.2 0M1418.5 469.9a5.1 5.1 0 1 0 10.2 0a5.1 5.1 0 1 0 -10.2 0M1341 472.8a5.1 5.1 0 1 0 10.2 0a5.1 5.1 0 1 0 -10.2 0M1344.4 479.3a5.1 5.1 0 1 0 10.2 0a5.1 5.1 0 1 0 -10.2 0M1373.3 472.4a5.1 5.1 0 1 0 10.2 0a5.1 5.1 0 1 0 -10.2 0M1402.6 474.5a5.1 5.1 0 1 0 10.2 0a5.1 5.1 0 1 0 -10.2 0M1356 485.7a5.1 5.1 0 1 0 10.2 0a5.1 5.1 0 1 0 -10.2 0M1322.2 487.6a5.1 5.1 0 1 0 10.2 0a5.1 5.1 0 1 0 -10.2 0M1344.2 497.2a5.1 5.1 0 1 0 10.2 0a5.1 5.1 0 1 0 -10.2 0M1400.9 494.7a5.1 5.1 0 1 0 10.2 0a5.1 5.1 0 1 0 -10.2 0M1401.5 503.6a5.1 5.1 0 1 0 10.2 0a5.1 5.1 0 1 0 -10.2 0M1372.7 507.5a5.1 5.1 0 1 0 10.2 0a5.1 5.1 0 1 0 -10.2 0M1418.5 505.6a5.1 5.1 0 1 0 10.2 0a5.1 5.1 0 1 0 -10.2 0M1430.4 490.8a5.1 5.1 0 1 0 10.2 0a5.1 5.1 0 1 0 -10.2 0M1429.8 481.2a5.1 5.1 0 1 0 10.2 0a5.1 5.1 0 1 0 -10.2 0M1277.3 513a5.1 5.1 0 1 0 10.2 0a5.1 5.1 0 1 0 -10.2 0M1337.4 515.2a5.1 5.1 0 1 0 10.2 0a5.1 5.1 0 1 0 -10.2 0M1327.7 518.4a5.1 5.1 0 1 0 10.2 0a5.1 5.1 0 1 0 -10.2 0M1330.9 522.2a5.1 5.1 0 1 0 10.2 0a5.1 5.1 0 1 0 -10.2 0M1411.2 515.8a5.1 5.1 0 1 0 10.2 0a5.1 5.1 0 1 0 -10.2 0M1386.1 522.2a5.1 5.1 0 1 0 10.2 0a5.1 5.1 0 1 0 -10.2 0M1394.5 523.5a5.1 5.1 0 1 0 10.2 0a5.1 5.1 0 1 0 -10.2 0M1377.1 527.4a5.1 5.1 0 1 0 10.2 0a5.1 5.1 0 1 0 -10.2 0M1363.7 527.4a5.1 5.1 0 1 0 10.2 0a5.1 5.1 0 1 0 -10.2 0M1347 525.5a5.1 5.1 0 1 0 10.2 0a5.1 5.1 0 1 0 -10.2 0M1413.1 526.1a5.1 5.1 0 1 0 10.2 0a5.1 5.1 0 1 0 -10.2 0M1306.6 532.3a5.1 5.1 0 1 0 10.2 0a5.1 5.1 0 1 0 -10.2 0M1318.1 528a5.1 5.1 0 1 0 10.2 0a5.1 5.1 0 1 0 -10.2 0M1323.2 533.8a5.1 5.1 0 1 0 10.2 0a5.1 5.1 0 1 0 -10.2 0M1328.4 532.5a5.1 5.1 0 1 0 10.2 0a5.1 5.1 0 1 0 -10.2 0M1339.9 531.9a5.1 5.1 0 1 0 10.2 0a5.1 5.1 0 1 0 -10.2 0M1345.1 533.8a5.1 5.1 0 1 0 10.2 0a5.1 5.1 0 1 0 -10.2 0M1355.3 533.2a5.1 5.1 0 1 0 10.2 0a5.1 5.1 0 1 0 -10.2 0M1391.3 532.5a5.1 5.1 0 1 0 10.2 0a5.1 5.1 0 1 0 -10.2 0M1400.2 529.9a5.1 5.1 0 1 0 10.2 0a5.1 5.1 0 1 0 -10.2 0M1410.5 531.2a5.1 5.1 0 1 0 10.2 0a5.1 5.1 0 1 0 -10.2 0M1390 537.6a5.1 5.1 0 1 0 10.2 0a5.1 5.1 0 1 0 -10.2 0M1282.6 541.2a5.1 5.1 0 1 0 10.2 0a5.1 5.1 0 1 0 -10.2 0M1309.8 542.8a5.1 5.1 0 1 0 10.2 0a5.1 5.1 0 1 0 -10.2 0M1318.1 539.6a5.1 5.1 0 1 0 10.2 0a5.1 5.1 0 1 0 -10.2 0M1329.7 538.3a5.1 5.1 0 1 0 10.2 0a5.1 5.1 0 1 0 -10.2 0M1422.7 542.1a5.1 5.1 0 1 0 10.2 0a5.1 5.1 0 1 0 -10.2 0M1400.9 542.1a5.1 5.1 0 1 0 10.2 0a5.1 5.1 0 1 0 -10.2 0M1390 542.8a5.1 5.1 0 1 0 10.2 0a5.1 5.1 0 1 0 -10.2 0M1355.3 544.1a5.1 5.1 0 1 0 10.2 0a5.1 5.1 0 1 0 -10.2 0M1369.4 540.2a5.1 5.1 0 1 0 10.2 0a5.1 5.1 0 1 0 -10.2 0M1369.4 545.3a5.1 5.1 0 1 0 10.2 0a5.1 5.1 0 1 0 -10.2 0M1325.8 549.2a5.1 5.1 0 1 0 10.2 0a5.1 5.1 0 1 0 -10.2 0M1343.5 550.2a5.1 5.1 0 1 0 10.2 0a5.1 5.1 0 1 0 -10.2 0M1366.9 551.8a5.1 5.1 0 1 0 10.2 0a5.1 5.1 0 1 0 -10.2 0M1373.3 550.5a5.1 5.1 0 1 0 10.2 0a5.1 5.1 0 1 0 -10.2 0M1381 549.2a5.1 5.1 0 1 0 10.2 0a5.1 5.1 0 1 0 -10.2 0M1382.3 553.7a5.1 5.1 0 1 0 10.2 0a5.1 5.1 0 1 0 -10.2 0M1355.3 554.3a5.1 5.1 0 1 0 10.2 0a5.1 5.1 0 1 0 -10.2 0M1415.6 556.9a5.1 5.1 0 1 0 10.2 0a5.1 5.1 0 1 0 -10.2 0M1264.8 564a5.1 5.1 0 1 0 10.2 0a5.1 5.1 0 1 0 -10.2 0M1274.5 559.5a5.1 5.1 0 1 0 10.2 0a5.1 5.1 0 1 0 -10.2 0M1285.4 558.8a5.1 5.1 0 1 0 10.2 0a5.1 5.1 0 1 0 -10.2 0M1278.3 564.6a5.1 5.1 0 1 0 10.2 0a5.1 5.1 0 1 0 -10.2 0M1289.9 567.2a5.1 5.1 0 1 0 10.2 0a5.1 5.1 0 1 0 -10.2 0M1295.6 564.6a5.1 5.1 0 1 0 10.2 0a5.1 5.1 0 1 0 -10.2 0M1307.8 556.9a5.1 5.1 0 1 0 10.2 0a5.1 5.1 0 1 0 -10.2 0M1314.3 555.6a5.1 5.1 0 1 0 10.2 0a5.1 5.1 0 1 0 -10.2 0M1318.1 562a5.1 5.1 0 1 0 10.2 0a5.1 5.1 0 1 0 -10.2 0M1321.3 565.9a5.1 5.1 0 1 0 10.2 0a5.1 5.1 0 1 0 -10.2 0M1388.1 569.1a5.1 5.1 0 1 0 10.2 0a5.1 5.1 0 1 0 -10.2 0M1382.3 574.9a5.1 5.1 0 1 0 10.2 0a5.1 5.1 0 1 0 -10.2 0M1399.6 579.4a5.1 5.1 0 1 0 10.2 0a5.1 5.1 0 1 0 -10.2 0M1309.4 571.8a5.1 5.1 0 1 0 10.2 0a5.1 5.1 0 1 0 -10.2 0M1319.7 570.9a5.1 5.1 0 1 0 10.2 0a5.1 5.1 0 1 0 -10.2 0M1323.3 570.7a5.1 5.1 0 1 0 10.2 0a5.1 5.1 0 1 0 -10.2 0M1336.7 571.1a5.1 5.1 0 1 0 10.2 0a5.1 5.1 0 1 0 -10.2 0M1340 571.6a5.1 5.1 0 1 0 10.2 0a5.1 5.1 0 1 0 -10.2 0M1349.4 571.9a5.1 5.1 0 1 0 10.2 0a5.1 5.1 0 1 0 -10.2 0M1325.1 579.7a5.1 5.1 0 1 0 10.2 0a5.1 5.1 0 1 0 -10.2 0M1336.4 579.9a5.1 5.1 0 1 0 10.2 0a5.1 5.1 0 1 0 -10.2 0M1457.8 353.5a5.1 5.1 0 1 0 10.2 0a5.1 5.1 0 1 0 -10.2 0M1487.3 340a5.1 5.1 0 1 0 10.2 0a5.1 5.1 0 1 0 -10.2 0M1547 356.3a5.1 5.1 0 1 0 10.2 0a5.1 5.1 0 1 0 -10.2 0M1525.8 365a5.1 5.1 0 1 0 10.2 0a5.1 5.1 0 1 0 -10.2 0M1507.5 385.9a5.1 5.1 0 1 0 10.2 0a5.1 5.1 0 1 0 -10.2 0M1481.9 390.3a5.1 5.1 0 1 0 10.2 0a5.1 5.1 0 1 0 -10.2 0M1489.2 395.8a5.1 5.1 0 1 0 10.2 0a5.1 5.1 0 1 0 -10.2 0M1478.3 401.9a5.1 5.1 0 1 0 10.2 0a5.1 5.1 0 1 0 -10.2 0M1445.9 395.8a5.1 5.1 0 1 0 10.2 0a5.1 5.1 0 1 0 -10.2 0M1491.8 412.5a5.1 5.1 0 1 0 10.2 0a5.1 5.1 0 1 0 -10.2 0M1483.5 418.3a5.1 5.1 0 1 0 10.2 0a5.1 5.1 0 1 0 -10.2 0M1470.6 417a5.1 5.1 0 1 0 10.2 0a5.1 5.1 0 1 0 -10.2 0M1478.3 420.9a5.1 5.1 0 1 0 10.2 0a5.1 5.1 0 1 0 -10.2 0M1484.7 424.7a5.1 5.1 0 1 0 10.2 0a5.1 5.1 0 1 0 -10.2 0M1513.4 415.1a5.1 5.1 0 1 0 10.2 0a5.1 5.1 0 1 0 -10.2 0M1513 426.9a5.1 5.1 0 1 0 10.2 0a5.1 5.1 0 1 0 -10.2 0M1451.4 424.1a5.1 5.1 0 1 0 10.2 0a5.1 5.1 0 1 0 -10.2 0M1459.1 423.4a5.1 5.1 0 1 0 10.2 0a5.1 5.1 0 1 0 -10.2 0M1445.6 430.2a5.1 5.1 0 1 0 10.2 0a5.1 5.1 0 1 0 -10.2 0M1461.6 433.7a5.1 5.1 0 1 0 10.2 0a5.1 5.1 0 1 0 -10.2 0M1453.9 438.8a5.1 5.1 0 1 0 10.2 0a5.1 5.1 0 1 0 -10.2 0M1462.3 454a5.1 5.1 0 1 0 10.2 0a5.1 5.1 0 1 0 -10.2 0M1470.6 456.1a5.1 5.1 0 1 0 10.2 0a5.1 5.1 0 1 0 -10.2 0M1477 458.1a5.1 5.1 0 1 0 10.2 0a5.1 5.1 0 1 0 -10.2 0M1484.7 458.1a5.1 5.1 0 1 0 10.2 0a5.1 5.1 0 1 0 -10.2 0M1507.5 456.5a5.1 5.1 0 1 0 10.2 0a5.1 5.1 0 1 0 -10.2 0M1498.9 461.9a5.1 5.1 0 1 0 10.2 0a5.1 5.1 0 1 0 -10.2 0M1495 467.7a5.1 5.1 0 1 0 10.2 0a5.1 5.1 0 1 0 -10.2 0M1505.9 471.6a5.1 5.1 0 1 0 10.2 0a5.1 5.1 0 1 0 -10.2 0M1471.3 469.6a5.1 5.1 0 1 0 10.2 0a5.1 5.1 0 1 0 -10.2 0M1461 474.8a5.1 5.1 0 1 0 10.2 0a5.1 5.1 0 1 0 -10.2 0M1458.7 479.3a5.1 5.1 0 1 0 10.2 0a5.1 5.1 0 1 0 -10.2 0M1433.4 474.5a5.1 5.1 0 1 0 10.2 0a5.1 5.1 0 1 0 -10.2 0M1481.9 483.7a5.1 5.1 0 1 0 10.2 0a5.1 5.1 0 1 0 -10.2 0M1481.9 494a5.1 5.1 0 1 0 10.2 0a5.1 5.1 0 1 0 -10.2 0M1471.9 495.3a5.1 5.1 0 1 0 10.2 0a5.1 5.1 0 1 0 -10.2 0M1471.9 501.1a5.1 5.1 0 1 0 10.2 0a5.1 5.1 0 1 0 -10.2 0M1463.9 497.2a5.1 5.1 0 1 0 10.2 0a5.1 5.1 0 1 0 -10.2 0M1440.5 494.7a5.1 5.1 0 1 0 10.2 0a5.1 5.1 0 1 0 -10.2 0M1446.9 493.4a5.1 5.1 0 1 0 10.2 0a5.1 5.1 0 1 0 -10.2 0M1502.3 494.7a5.1 5.1 0 1 0 10.2 0a5.1 5.1 0 1 0 -10.2 0M1489.6 191.4a5.1 5.1 0 1 0 10.2 0a5.1 5.1 0 1 0 -10.2 0M1567.3 210a5.1 5.1 0 1 0 10.2 0a5.1 5.1 0 1 0 -10.2 0M1483.5 226.8a5.1 5.1 0 1 0 10.2 0a5.1 5.1 0 1 0 -10.2 0M1493.1 258.5a5.1 5.1 0 1 0 10.2 0a5.1 5.1 0 1 0 -10.2 0M1534.8 255.7a5.1 5.1 0 1 0 10.2 0a5.1 5.1 0 1 0 -10.2 0M1475.8 287.6a5.1 5.1 0 1 0 10.2 0a5.1 5.1 0 1 0 -10.2 0M1483.5 286.7a5.1 5.1 0 1 0 10.2 0a5.1 5.1 0 1 0 -10.2 0M1486 309.5a5.1 5.1 0 1 0 10.2 0a5.1 5.1 0 1 0 -10.2 0M1464.8 317.5a5.1 5.1 0 1 0 10.2 0a5.1 5.1 0 1 0 -10.2 0M1472.8 322a5.1 5.1 0 1 0 10.2 0a5.1 5.1 0 1 0 -10.2 0M1432.4 325.2a5.1 5.1 0 1 0 10.2 0a5.1 5.1 0 1 0 -10.2 0M1487.7 336.1a5.1 5.1 0 1 0 10.2 0a5.1 5.1 0 1 0 -10.2 0M1370.8 534.7a5.1 5.1 0 1 0 10.2 0a5.1 5.1 0 1 0 -10.2 0M1383.4 587a5.1 5.1 0 1 0 10.2 0a5.1 5.1 0 1 0 -10.2 0M1392 587.9a5.1 5.1 0 1 0 10.2 0a5.1 5.1 0 1 0 -10.2 0M1343.9 571.9a5.1 5.1 0 1 0 10.2 0a5.1 5.1 0 1 0 -10.2 0M1369.9 621.7a5.1 5.1 0 1 0 10.2 0a5.1 5.1 0 1 0 -10.2 0M1370.8 632.6a5.1 5.1 0 1 0 10.2 0a5.1 5.1 0 1 0 -10.2 0" fill="#000"/>
</g>
<rect x="1106.3" y="24.9" width="764.3" height="788.5" fill="none" stroke="#333333" stroke-width="2.1"/>
<text x="1140.7" y="858" text-anchor="middle" class="tk">0</text>
<text x="1279.7" y="858" text-anchor="middle" class="tk">100</text>
<text x="1418.8" y="858" text-anchor="middle" class="tk">200</text>
<text x="1557.8" y="858" text-anchor="middle" class="tk">300</text>
<text x="1696.9" y="858" text-anchor="middle" class="tk">400</text>
<text x="1835.9" y="858" text-anchor="middle" class="tk">500</text>
<text x="1087.3" y="791.2" text-anchor="end" class="tk">0</text>
<text x="1087.3" y="647.6" text-anchor="end" class="tk">100</text>
<text x="1087.3" y="504.1" text-anchor="end" class="tk">200</text>
<text x="1087.3" y="360.5" text-anchor="end" class="tk">300</text>
<text x="1087.3" y="217" text-anchor="end" class="tk">400</text>
<text x="1087.3" y="73.4" text-anchor="end" class="tk">500</text>
<path d="M1140.7 813.4v11.4M1279.7 813.4v11.4M1418.8 813.4v11.4M1557.8 813.4v11.4M1696.9 813.4v11.4M1835.9 813.4v11.4M1106.3 778.2h-11.8M1106.3 634.6h-11.8M1106.3 491.1h-11.8M1106.3 347.5h-11.8M1106.3 204h-11.8M1106.3 60.4h-11.8" stroke="#333333" stroke-width="3" fill="none"/>
<text x="1140.5" y="90.9" class="an">R² = 0.78</text>
<text x="1140.5" y="162.8" class="an">RMSE = 32.6</text>
<text x="1140.5" y="234.6" class="an">%RMSE = 7.2</text>
<text x="1140.5" y="306.4" class="an">N comp = 24</text>
<text x="960.1" y="62.3" class="lb">(b)</text>
</g>
<g id="panel-c">
<clipPath id="clipc"><rect x="170.9" y="961.4" width="763.4" height="788.6"/></clipPath>
<g clip-path="url(#clipc)">
<path d="M221.2 1679.8H238.5M251.3 1680.9H269.9M260.4 1666.1H286.9M273.4 1662.6V1670.2M259 1669.7H289.8M283.2 1670.2H303.8M292.7 1667.8V1672.3M283.4 1669.3H316.8M327.7 1651.7H364.3M263.5 1632.1H297.5M296.3 1630.2H331.4M312.9 1629V1631.3M301.3 1633.4H329.8M315.5 1630.5V1636.6M298.2 1636.6H330.9M300.1 1621.8H336M309.1 1612.8H338.6M330.3 1623.7H370.1M348.9 1610.7H384.2M366.2 1587.2V1634M377.8 1619.9H406M391.6 1609V1632.1M405.3 1604.2H440M325.1 1596.5H341.2M332.2 1595.5H358.6M345.7 1594.8V1596.2M333.5 1590.4H356.6M346.3 1587.9V1592.4M327.7 1584H360.2M345 1582.1V1585.9M336 1577.5H359.1M289.2 1581.4H328.3M261.6 1567.3H303.3M259 1552.3H300.7M279.8 1535.2V1564.7M302 1530.1H322.6M311 1549.6H341.2M332.5 1545.7H350.9M341.8 1545.4V1546M340.2 1548.7H363.9M352.1 1548.3V1549M325.6 1555.7H359.8M341.8 1552V1558.8M329.2 1563.4H356M343.1 1562.8V1564.1M350.3 1562.1H371.2M359.8 1561.7V1562.6M340.5 1578.8H375.9M359.1 1578.8V1578.9M347.8 1574.3H378.2M364.3 1573.5V1575.3M355.4 1557H389.8M372 1555.2V1559.1M362.9 1560.2H393.1M379 1556.7V1564M369.3 1567.3H389.2M378.4 1563.7V1571.1M370.6 1568.6H404M386.1 1567.7V1569.5M367.1 1577.5H402.7M386.1 1573.7V1581.3M379.6 1545.5H396.1M388.7 1542.5V1548.4M378.8 1553.2H397.4M388.7 1550.7V1555.2M392.5 1578.6H433.6M389.9 1587.6H432.3M394 1559.6H420.2M406.6 1559V1560M395.7 1554.4H427.9M413 1554.2V1554.7M395.1 1558.3H440M412.8 1581.4H474.4M439.4 1570.6V1591.8M336 1507.3H355.3M337.3 1525.8H365.6M355.1 1518.5H386.9M371.3 1516.4V1521M358.7 1523.6H375.8M368.1 1521.1V1526.6M347.3 1530.7H383.4M365.6 1527.3V1533.8M358 1535.2H385.5M372 1533.1V1537.1M360 1531.3H392.8M377.1 1530.6V1532M369 1524.9H396.2M382.2 1523.2V1526.6M366.2 1535.2H401.5M384.8 1532.8V1538.1M377.1 1535.2H406M392.5 1531.6V1538.5M389.9 1524.9H413M402.1 1521.6V1527.5M368.3 1510.8H406M387.4 1508.4V1513.7M332.2 1489.6H366.8M362.9 1492.2H385.8M373.9 1490.1V1494.6M360.7 1484.5H396.7M377.8 1482.8V1486.3M369.8 1497.3H397.7M382.9 1494.8V1500.8M385.1 1492.8H416.8M399.6 1490.3V1494.7M389.1 1498H427.4M405.3 1494.1V1501.2M397.4 1503.1H426.1M410.5 1499.6V1506.4M390.3 1485.1H421.7M405.3 1480.4V1487.9M391.1 1512.1H417.1M404.1 1509.9V1515M402.4 1485.1H436.1M419.5 1481.6V1489.1M414.4 1496.7H436.5M425.9 1495.8V1499.2M404.7 1505.7H438.5M423.3 1503.5V1508.9M416.5 1489H449.5M434.9 1486.2V1491.7M417.3 1501.8H449.2M433.6 1501.3V1502.8M420.9 1512.1H446.8M433.6 1507.4V1515.1M408.8 1507.6H427.8M418.2 1505.3V1509.9M512.9 1300.6H544.1M528.2 1290.2V1306.8M535.1 1301.3H577.6M557.8 1300.2V1301.3M495.9 1321.6H523.7M509.6 1300V1340.4M528.9 1324H605.9M564.4 1306.1V1332.5M575.9 1321.2H614.4M593 1315.4V1324.1M579 1314.1H617.3M596.9 1311.5V1316.5M574.4 1325H608.5M590.5 1321.2V1328.3M586.6 1334.7H620M604 1329.5V1345.9M512 1335.7H542.8M528.2 1333.7V1336.9M499.4 1334H558.2M538.9 1332.8V1334.4M544.3 1338.5H578.9M562.2 1336.1V1341.4M543.4 1346.8H581.1M561 1343.2V1350.3M527.3 1347.7H557.2M543 1344V1352.1M519 1352.6H551.5M535.9 1350.2V1357.7M517.4 1361.6H548.7M534.7 1360.1V1363.1M507.4 1352.6H541.6M525 1349.6V1355.4M509 1359.7H534.9M521.8 1355.5V1363.7M560.4 1348.1H595.8M577 1346.2V1350.6M556.4 1352H589.6M571.2 1347.8V1355.5M538.6 1357.1H569.4M555.2 1352.3V1359.7M550.2 1362.6H581.5M567.1 1358.2V1366.6M569.9 1362.2H599.5M583.8 1357.8V1362.2M454.4 1366.5H518.6M486.5 1354.5V1371.9M454.2 1369.3H518.4M494.6 1354.3V1369.8M410.8 1375.5H431.3M419.8 1364.2V1387.3M431.3 1361.6V1393M436.5 1377.9H463.4M442.6 1365.5V1391.1M467.3 1377.9H502M485.2 1375.7V1377.9M492.1 1375.1H520M506.4 1372.4V1377.5M499.4 1377H524.5M512.2 1374.2V1379.4M526.7 1371.9H563.3M545.6 1369.6V1374M537.6 1375.7H568.7M550.7 1373.3V1378.4M542.1 1375.1H574.8M557.8 1372.6V1377.5M510 1384.1H535.7M523.7 1381.4V1386.7M522.6 1385.7H554.7M537.2 1382.7V1388.6M521.8 1398.2H553.6M537.9 1397.8V1398.6M546.5 1389.2H570.6M559 1387.1V1391M541.3 1395.6H573.8M556.5 1394V1397.5M538.8 1402H573.2M556.5 1401.1V1402.9M549.3 1409.1H572.6M561.6 1408.2V1409.9M600.7 1384.1H640.9M619.4 1363.3V1404.4M360.4 1386.6H397M380.6 1378.3V1395M432.6 1392.7H468.5M451.5 1389.8V1395.9M469.8 1394.6H497.7M483.3 1392.3V1397.1M484 1391.1H503.5M494 1388V1393.7M480.2 1399.5H506.1M493.6 1396.6V1402.6M493.3 1396.3H513.7M503.2 1393.4V1398.6M490.4 1402.7H513.7M501.3 1402.3V1403M442.3 1402.7H472.1M458.3 1402.3V1403.1M453 1400.7H471.7M462.1 1400V1401.5M455.4 1402.4H486M469.8 1399.9V1404.8M419.1 1405.2H449.9M506.5 1399.5H538.2M521.2 1398.9V1400.1M509.6 1405.2H527.3M519.3 1404.2V1406.3M512.3 1409.7H532.1M522.5 1407.4V1411.7M507 1414.2H525.4M516 1413.5V1414.9M501.5 1420.6H526.8M514.1 1419.2V1422.3M491.6 1427.7H531.2M509.6 1425.2V1429.8M500 1432.2H527.8M515.4 1429V1436M503.4 1438.6H533.4M519.3 1434.8V1441.9M483.6 1410.4H515.6M499.4 1409.7V1411M492 1415.5H514.7M502.6 1414.7V1416.2M488.1 1423.9H506.9M498.1 1422.3V1425.5M462.5 1418.1H496.3M478.8 1414.3V1421.5M418.8 1419.1H441.1M430.4 1417.4V1420.9M407.4 1425.5H435.7M420.8 1422V1429.2M410.9 1429.6H446.3M429.4 1426V1433.7M420.4 1426.4H459.4M438.4 1423.3V1429M431.6 1428.3H466M449.9 1425.7V1431.2M442.3 1419.4H481.3M460.2 1417V1421.9M447.3 1425.8H479.8M462.1 1422.4V1429.6M454.1 1425.8H481.6M468.6 1423V1428.2M478.3 1427.1H499.7M488.4 1425.6V1428.6M462.4 1433.5H495.2M479.5 1432.3V1434.8M425 1443.7H446.7M435.2 1440.2V1447.1M424.4 1438.6H459.4M441.6 1434.8V1442.8M436.4 1434.8H455.2M446.7 1431V1438.8M435.3 1439.9H466.7M451.9 1437V1442.9M446 1436H469.2M457 1435V1437.2M452.3 1433.5H474.9M463.4 1430.3V1436.6M457.1 1432.2H483M469.8 1429.7V1434.4M446.4 1441.2H484.1M464.7 1437.7V1444.7M440.8 1445H477.1M458.3 1442.7V1447.3M441.4 1447.6H464.2M451.9 1443.9V1451.7M430.5 1452.7H466.1M446.7 1450.9V1457.2M456.3 1442.5H478.6M468.6 1441.1V1443.8M521.2 1432.2H620M593.3 1415.5V1442.5M587.6 1430.7H624M605.9 1427.4V1434.5M403.6 1448.9H432.8M418.5 1448.2V1449.6M395 1455.3H423.5M410.2 1454.6V1456M380 1452.7H401.8M409.4 1460.4H436.3M423.6 1459.5V1461.2M407.3 1467.5H444.8M424.9 1464.3V1470.9M442.2 1459.8H462.4M451.9 1459.5V1460.1M505.1 1455.3H549.4M526.3 1441.2V1455.3M467.3 1468.1H512.2M489.7 1445.7V1468.1M476.4 1473.3H514.3M494.9 1473.1V1473.4M473.7 1477.1H518.6M375 1468.8H402.5M389 1466.1V1471M380.3 1469.4H412.9M396.7 1465.6V1473.7M395.3 1476.5H432.7M412.7 1474.2V1478.6M418 1476.5H443.2M430.7 1474.5V1478.2M430.3 1470.1H449.2M440.3 1467.6V1472.5M434.3 1473.9H458.5M446.7 1472.3V1475.8M430.9 1479.7H447.9M440.3 1479.2V1480.1M448.3 1479H481.1M463.4 1477.4V1480.5M443.1 1482.9H468.3M455.7 1479.1V1486.4M424.1 1483.5H456.9M440.3 1482.7V1484.2M459.6 1488.7H503.2M439.8 1489.9H464.3M453.2 1487.3V1492.7M441.2 1494.4H464.7M452.5 1492.7V1495.8M459.6 1502.4H510.9M477.2 1491.2V1513.7M434.5 1505.6H454.4M445.5 1505.1V1506.2M443.1 1506.6H468.2M455.1 1503.7V1509.4M650.4 1192.1H689.5M669.2 1156.6V1226.5M656.1 1198H769.1M712.6 1189.3V1209.2M605.5 1210.5H641.4M623.4 1188V1229.1M624.7 1218.6H668.3M645.5 1184.8V1239.4M633 1228.2H672.2M653.2 1213.7V1239.4M646.5 1240.4H683.1M664.7 1220.1V1263.7M622.1 1247.4H655.5M643.7 1243.2V1256M526.1 1259H565.9M545.8 1240.6V1277.3M601 1272.7H642M594.5 1277.2H642M586.2 1281.1H652.9M656.1 1278.5H706.8M681.6 1252.2V1303.5M667.7 1296.1H721M694 1256V1336.3M519.7 1286.5H556.3M540 1286.1V1286.5M629.8 1308.4H670.9M650.6 1289.4V1325.3M637.5 1304.8H683.7M660.3 1286.8V1322.8M596.5 1326.6H663.9M609.3 1336.5H643.3M467.1 1218.3H523.5M494.7 1206.7V1230.5M495.9 1295.3H524.8M510.4 1282.5V1340.2M440.4 1545.2H479.6M345.7 1457H370.1M359.1 1484.5H400.2M362.4 1499.3H400.2M340.5 1531.3H361.7M397.6 1537.1H414.3M369.4 1546.7H405.3M326.4 1564.7H339.9M366.8 1568.6H397.6M311 1582.7H338.6M354 1584H381.6M544.3 1389.8H582.8M585.3 1313.5H609.7M576.4 1318.6H613.6M598.2 1327.6H620M544.3 1338.5H585.3M578.9 1348.8H590.5M507.7 1352.6H523.7M505.1 1359.7H521.2M436.5 1395.6H477.5M421.1 1438.6H487.8M380 1468.1H431.3M380 1484.8H418.5M437.8 1459.8H467.3M387.7 1498.9H410.8M399.3 1528.4H414.7M521.2 1430.9H536.6M521.2 1429H536.6M405.7 1425.8H421.1M455.1 1510.5V1524.6M538.5 1317.3V1325.7M620.2 1229.1V1317.6M623.4 1216.3V1232.9M584.9 1313.2H609.9M543.9 1339.5H584.9M547.7 1349.7H590.1M560 1429.2H669.7M593.4 1415.3V1442.2M400 1558.4H456.5" stroke="#BEBEBE" stroke-width="3.15" fill="none"/>
<line x1="170.9" y1="1750" x2="934.3" y2="961.4" stroke="#000" stroke-width="3.45"/>
<path d="M225.3 1679.8a5.1 5.1 0 1 0 10.2 0a5.1 5.1 0 1 0 -10.2 0M255.2 1680.9a5.1 5.1 0 1 0 10.2 0a5.1 5.1 0 1 0 -10.2 0M268.3 1666.1a5.1 5.1 0 1 0 10.2 0a5.1 5.1 0 1 0 -10.2 0M271.9 1669.7a5.1 5.1 0 1 0 10.2 0a5.1 5.1 0 1 0 -10.2 0M287.6 1670.2a5.1 5.1 0 1 0 10.2 0a5.1 5.1 0 1 0 -10.2 0M297.6 1669.3a5.1 5.1 0 1 0 10.2 0a5.1 5.1 0 1 0 -10.2 0M340.3 1651.7a5.1 5.1 0 1 0 10.2 0a5.1 5.1 0 1 0 -10.2 0M275.5 1632.1a5.1 5.1 0 1 0 10.2 0a5.1 5.1 0 1 0 -10.2 0M307.8 1630.2a5.1 5.1 0 1 0 10.2 0a5.1 5.1 0 1 0 -10.2 0M310.4 1633.4a5.1 5.1 0 1 0 10.2 0a5.1 5.1 0 1 0 -10.2 0M311.4 1636.6a5.1 5.1 0 1 0 10.2 0a5.1 5.1 0 1 0 -10.2 0M313.2 1621.8a5.1 5.1 0 1 0 10.2 0a5.1 5.1 0 1 0 -10.2 0M318.8 1612.8a5.1 5.1 0 1 0 10.2 0a5.1 5.1 0 1 0 -10.2 0M345.1 1623.7a5.1 5.1 0 1 0 10.2 0a5.1 5.1 0 1 0 -10.2 0M361.1 1610.7a5.1 5.1 0 1 0 10.2 0a5.1 5.1 0 1 0 -10.2 0M386.5 1619.9a5.1 5.1 0 1 0 10.2 0a5.1 5.1 0 1 0 -10.2 0M418.2 1604.2a5.1 5.1 0 1 0 10.2 0a5.1 5.1 0 1 0 -10.2 0M327.5 1596.5a5.1 5.1 0 1 0 10.2 0a5.1 5.1 0 1 0 -10.2 0M340.6 1595.5a5.1 5.1 0 1 0 10.2 0a5.1 5.1 0 1 0 -10.2 0M341.2 1590.4a5.1 5.1 0 1 0 10.2 0a5.1 5.1 0 1 0 -10.2 0M339.9 1584a5.1 5.1 0 1 0 10.2 0a5.1 5.1 0 1 0 -10.2 0M338.6 1577.5a5.1 5.1 0 1 0 10.2 0a5.1 5.1 0 1 0 -10.2 0M300.1 1581.4a5.1 5.1 0 1 0 10.2 0a5.1 5.1 0 1 0 -10.2 0M277.3 1567.3a5.1 5.1 0 1 0 10.2 0a5.1 5.1 0 1 0 -10.2 0M274.7 1552.3a5.1 5.1 0 1 0 10.2 0a5.1 5.1 0 1 0 -10.2 0M307.2 1530.1a5.1 5.1 0 1 0 10.2 0a5.1 5.1 0 1 0 -10.2 0M323.2 1549.6a5.1 5.1 0 1 0 10.2 0a5.1 5.1 0 1 0 -10.2 0M336.7 1545.7a5.1 5.1 0 1 0 10.2 0a5.1 5.1 0 1 0 -10.2 0M347 1548.7a5.1 5.1 0 1 0 10.2 0a5.1 5.1 0 1 0 -10.2 0M336.7 1555.7a5.1 5.1 0 1 0 10.2 0a5.1 5.1 0 1 0 -10.2 0M338 1563.4a5.1 5.1 0 1 0 10.2 0a5.1 5.1 0 1 0 -10.2 0M354.7 1562.1a5.1 5.1 0 1 0 10.2 0a5.1 5.1 0 1 0 -10.2 0M354 1578.8a5.1 5.1 0 1 0 10.2 0a5.1 5.1 0 1 0 -10.2 0M359.2 1574.3a5.1 5.1 0 1 0 10.2 0a5.1 5.1 0 1 0 -10.2 0M366.9 1557a5.1 5.1 0 1 0 10.2 0a5.1 5.1 0 1 0 -10.2 0M373.9 1560.2a5.1 5.1 0 1 0 10.2 0a5.1 5.1 0 1 0 -10.2 0M373.3 1567.3a5.1 5.1 0 1 0 10.2 0a5.1 5.1 0 1 0 -10.2 0M381 1568.6a5.1 5.1 0 1 0 10.2 0a5.1 5.1 0 1 0 -10.2 0M381 1577.5a5.1 5.1 0 1 0 10.2 0a5.1 5.1 0 1 0 -10.2 0M383.6 1545.5a5.1 5.1 0 1 0 10.2 0a5.1 5.1 0 1 0 -10.2 0M383.6 1553.2a5.1 5.1 0 1 0 10.2 0a5.1 5.1 0 1 0 -10.2 0M399 1578.6a5.1 5.1 0 1 0 10.2 0a5.1 5.1 0 1 0 -10.2 0M405.8 1587.6a5.1 5.1 0 1 0 10.2 0a5.1 5.1 0 1 0 -10.2 0M401.5 1559.6a5.1 5.1 0 1 0 10.2 0a5.1 5.1 0 1 0 -10.2 0M407.9 1554.4a5.1 5.1 0 1 0 10.2 0a5.1 5.1 0 1 0 -10.2 0M411.2 1558.3a5.1 5.1 0 1 0 10.2 0a5.1 5.1 0 1 0 -10.2 0M434.3 1581.4a5.1 5.1 0 1 0 10.2 0a5.1 5.1 0 1 0 -10.2 0M339.7 1507.3a5.1 5.1 0 1 0 10.2 0a5.1 5.1 0 1 0 -10.2 0M347 1525.8a5.1 5.1 0 1 0 10.2 0a5.1 5.1 0 1 0 -10.2 0M366.2 1518.5a5.1 5.1 0 1 0 10.2 0a5.1 5.1 0 1 0 -10.2 0M363 1523.6a5.1 5.1 0 1 0 10.2 0a5.1 5.1 0 1 0 -10.2 0M360.5 1530.7a5.1 5.1 0 1 0 10.2 0a5.1 5.1 0 1 0 -10.2 0M366.9 1535.2a5.1 5.1 0 1 0 10.2 0a5.1 5.1 0 1 0 -10.2 0M372 1531.3a5.1 5.1 0 1 0 10.2 0a5.1 5.1 0 1 0 -10.2 0M377.1 1524.9a5.1 5.1 0 1 0 10.2 0a5.1 5.1 0 1 0 -10.2 0M379.7 1535.2a5.1 5.1 0 1 0 10.2 0a5.1 5.1 0 1 0 -10.2 0M387.4 1535.2a5.1 5.1 0 1 0 10.2 0a5.1 5.1 0 1 0 -10.2 0M397 1524.9a5.1 5.1 0 1 0 10.2 0a5.1 5.1 0 1 0 -10.2 0M382.3 1510.8a5.1 5.1 0 1 0 10.2 0a5.1 5.1 0 1 0 -10.2 0M351.2 1489.6a5.1 5.1 0 1 0 10.2 0a5.1 5.1 0 1 0 -10.2 0M368.8 1492.2a5.1 5.1 0 1 0 10.2 0a5.1 5.1 0 1 0 -10.2 0M372.7 1484.5a5.1 5.1 0 1 0 10.2 0a5.1 5.1 0 1 0 -10.2 0M377.8 1497.3a5.1 5.1 0 1 0 10.2 0a5.1 5.1 0 1 0 -10.2 0M394.5 1492.8a5.1 5.1 0 1 0 10.2 0a5.1 5.1 0 1 0 -10.2 0M400.2 1498a5.1 5.1 0 1 0 10.2 0a5.1 5.1 0 1 0 -10.2 0M405.4 1503.1a5.1 5.1 0 1 0 10.2 0a5.1 5.1 0 1 0 -10.2 0M400.2 1485.1a5.1 5.1 0 1 0 10.2 0a5.1 5.1 0 1 0 -10.2 0M399 1512.1a5.1 5.1 0 1 0 10.2 0a5.1 5.1 0 1 0 -10.2 0M414.4 1485.1a5.1 5.1 0 1 0 10.2 0a5.1 5.1 0 1 0 -10.2 0M420.8 1496.7a5.1 5.1 0 1 0 10.2 0a5.1 5.1 0 1 0 -10.2 0M418.2 1505.7a5.1 5.1 0 1 0 10.2 0a5.1 5.1 0 1 0 -10.2 0M429.8 1489a5.1 5.1 0 1 0 10.2 0a5.1 5.1 0 1 0 -10.2 0M428.5 1501.8a5.1 5.1 0 1 0 10.2 0a5.1 5.1 0 1 0 -10.2 0M428.5 1512.1a5.1 5.1 0 1 0 10.2 0a5.1 5.1 0 1 0 -10.2 0M413.1 1507.6a5.1 5.1 0 1 0 10.2 0a5.1 5.1 0 1 0 -10.2 0M523.1 1300.6a5.1 5.1 0 1 0 10.2 0a5.1 5.1 0 1 0 -10.2 0M552.7 1301.3a5.1 5.1 0 1 0 10.2 0a5.1 5.1 0 1 0 -10.2 0M504.5 1321.6a5.1 5.1 0 1 0 10.2 0a5.1 5.1 0 1 0 -10.2 0M559.3 1324a5.1 5.1 0 1 0 10.2 0a5.1 5.1 0 1 0 -10.2 0M587.9 1321.2a5.1 5.1 0 1 0 10.2 0a5.1 5.1 0 1 0 -10.2 0M591.8 1314.1a5.1 5.1 0 1 0 10.2 0a5.1 5.1 0 1 0 -10.2 0M585.4 1325a5.1 5.1 0 1 0 10.2 0a5.1 5.1 0 1 0 -10.2 0M598.9 1334.7a5.1 5.1 0 1 0 10.2 0a5.1 5.1 0 1 0 -10.2 0M523.1 1335.7a5.1 5.1 0 1 0 10.2 0a5.1 5.1 0 1 0 -10.2 0M533.8 1334a5.1 5.1 0 1 0 10.2 0a5.1 5.1 0 1 0 -10.2 0M557.1 1338.5a5.1 5.1 0 1 0 10.2 0a5.1 5.1 0 1 0 -10.2 0M555.9 1346.8a5.1 5.1 0 1 0 10.2 0a5.1 5.1 0 1 0 -10.2 0M537.9 1347.7a5.1 5.1 0 1 0 10.2 0a5.1 5.1 0 1 0 -10.2 0M530.8 1352.6a5.1 5.1 0 1 0 10.2 0a5.1 5.1 0 1 0 -10.2 0M529.6 1361.6a5.1 5.1 0 1 0 10.2 0a5.1 5.1 0 1 0 -10.2 0M519.9 1352.6a5.1 5.1 0 1 0 10.2 0a5.1 5.1 0 1 0 -10.2 0M516.7 1359.7a5.1 5.1 0 1 0 10.2 0a5.1 5.1 0 1 0 -10.2 0M571.9 1348.1a5.1 5.1 0 1 0 10.2 0a5.1 5.1 0 1 0 -10.2 0M566.1 1352a5.1 5.1 0 1 0 10.2 0a5.1 5.1 0 1 0 -10.2 0M550.1 1357.1a5.1 5.1 0 1 0 10.2 0a5.1 5.1 0 1 0 -10.2 0M562 1362.6a5.1 5.1 0 1 0 10.2 0a5.1 5.1 0 1 0 -10.2 0M578.7 1362.2a5.1 5.1 0 1 0 10.2 0a5.1 5.1 0 1 0 -10.2 0M481.4 1366.5a5.1 5.1 0 1 0 10.2 0a5.1 5.1 0 1 0 -10.2 0M489.5 1369.3a5.1 5.1 0 1 0 10.2 0a5.1 5.1 0 1 0 -10.2 0M414.7 1375.5a5.1 5.1 0 1 0 10.2 0a5.1 5.1 0 1 0 -10.2 0M426.2 1377.6a5.1 5.1 0 1 0 10.2 0a5.1 5.1 0 1 0 -10.2 0M437.5 1377.9a5.1 5.1 0 1 0 10.2 0a5.1 5.1 0 1 0 -10.2 0M480.1 1377.9a5.1 5.1 0 1 0 10.2 0a5.1 5.1 0 1 0 -10.2 0M501.3 1375.1a5.1 5.1 0 1 0 10.2 0a5.1 5.1 0 1 0 -10.2 0M507.1 1377a5.1 5.1 0 1 0 10.2 0a5.1 5.1 0 1 0 -10.2 0M540.5 1371.9a5.1 5.1 0 1 0 10.2 0a5.1 5.1 0 1 0 -10.2 0M545.6 1375.7a5.1 5.1 0 1 0 10.2 0a5.1 5.1 0 1 0 -10.2 0M552.7 1375.1a5.1 5.1 0 1 0 10.2 0a5.1 5.1 0 1 0 -10.2 0M518.6 1384.1a5.1 5.1 0 1 0 10.2 0a5.1 5.1 0 1 0 -10.2 0M532.1 1385.7a5.1 5.1 0 1 0 10.2 0a5.1 5.1 0 1 0 -10.2 0M532.8 1398.2a5.1 5.1 0 1 0 10.2 0a5.1 5.1 0 1 0 -10.2 0M553.9 1389.2a5.1 5.1 0 1 0 10.2 0a5.1 5.1 0 1 0 -10.2 0M551.4 1395.6a5.1 5.1 0 1 0 10.2 0a5.1 5.1 0 1 0 -10.2 0M551.4 1402a5.1 5.1 0 1 0 10.2 0a5.1 5.1 0 1 0 -10.2 0M556.5 1409.1a5.1 5.1 0 1 0 10.2 0a5.1 5.1 0 1 0 -10.2 0M614.3 1384.1a5.1 5.1 0 1 0 10.2 0a5.1 5.1 0 1 0 -10.2 0M375.5 1386.6a5.1 5.1 0 1 0 10.2 0a5.1 5.1 0 1 0 -10.2 0M446.4 1392.7a5.1 5.1 0 1 0 10.2 0a5.1 5.1 0 1 0 -10.2 0M478.2 1394.6a5.1 5.1 0 1 0 10.2 0a5.1 5.1 0 1 0 -10.2 0M488.9 1391.1a5.1 5.1 0 1 0 10.2 0a5.1 5.1 0 1 0 -10.2 0M488.5 1399.5a5.1 5.1 0 1 0 10.2 0a5.1 5.1 0 1 0 -10.2 0M498.1 1396.3a5.1 5.1 0 1 0 10.2 0a5.1 5.1 0 1 0 -10.2 0M496.2 1402.7a5.1 5.1 0 1 0 10.2 0a5.1 5.1 0 1 0 -10.2 0M453.2 1402.7a5.1 5.1 0 1 0 10.2 0a5.1 5.1 0 1 0 -10.2 0M457 1400.7a5.1 5.1 0 1 0 10.2 0a5.1 5.1 0 1 0 -10.2 0M464.7 1402.4a5.1 5.1 0 1 0 10.2 0a5.1 5.1 0 1 0 -10.2 0M429.7 1405.2a5.1 5.1 0 1 0 10.2 0a5.1 5.1 0 1 0 -10.2 0M516.1 1399.5a5.1 5.1 0 1 0 10.2 0a5.1 5.1 0 1 0 -10.2 0M514.2 1405.2a5.1 5.1 0 1 0 10.2 0a5.1 5.1 0 1 0 -10.2 0M517.4 1409.7a5.1 5.1 0 1 0 10.2 0a5.1 5.1 0 1 0 -10.2 0M510.9 1414.2a5.1 5.1 0 1 0 10.2 0a5.1 5.1 0 1 0 -10.2 0M509 1420.6a5.1 5.1 0 1 0 10.2 0a5.1 5.1 0 1 0 -10.2 0M504.5 1427.7a5.1 5.1 0 1 0 10.2 0a5.1 5.1 0 1 0 -10.2 0M510.3 1432.2a5.1 5.1 0 1 0 10.2 0a5.1 5.1 0 1 0 -10.2 0M514.2 1438.6a5.1 5.1 0 1 0 10.2 0a5.1 5.1 0 1 0 -10.2 0M494.3 1410.4a5.1 5.1 0 1 0 10.2 0a5.1 5.1 0 1 0 -10.2 0M497.5 1415.5a5.1 5.1 0 1 0 10.2 0a5.1 5.1 0 1 0 -10.2 0M493 1423.9a5.1 5.1 0 1 0 10.2 0a5.1 5.1 0 1 0 -10.2 0M473.7 1418.1a5.1 5.1 0 1 0 10.2 0a5.1 5.1 0 1 0 -10.2 0M425.3 1419.1a5.1 5.1 0 1 0 10.2 0a5.1 5.1 0 1 0 -10.2 0M415.7 1425.5a5.1 5.1 0 1 0 10.2 0a5.1 5.1 0 1 0 -10.2 0M424.3 1429.6a5.1 5.1 0 1 0 10.2 0a5.1 5.1 0 1 0 -10.2 0M433.3 1426.4a5.1 5.1 0 1 0 10.2 0a5.1 5.1 0 1 0 -10.2 0M444.8 1428.3a5.1 5.1 0 1 0 10.2 0a5.1 5.1 0 1 0 -10.2 0M455.1 1419.4a5.1 5.1 0 1 0 10.2 0a5.1 5.1 0 1 0 -10.2 0M457 1425.8a5.1 5.1 0 1 0 10.2 0a5.1 5.1 0 1 0 -10.2 0M463.5 1425.8a5.1 5.1 0 1 0 10.2 0a5.1 5.1 0 1 0 -10.2 0M483.3 1427.1a5.1 5.1 0 1 0 10.2 0a5.1 5.1 0 1 0 -10.2 0M474.4 1433.5a5.1 5.1 0 1 0 10.2 0a5.1 5.1 0 1 0 -10.2 0M430.1 1443.7a5.1 5.1 0 1 0 10.2 0a5.1 5.1 0 1 0 -10.2 0M436.5 1438.6a5.1 5.1 0 1 0 10.2 0a5.1 5.1 0 1 0 -10.2 0M441.6 1434.8a5.1 5.1 0 1 0 10.2 0a5.1 5.1 0 1 0 -10.2 0M446.8 1439.9a5.1 5.1 0 1 0 10.2 0a5.1 5.1 0 1 0 -10.2 0M451.9 1436a5.1 5.1 0 1 0 10.2 0a5.1 5.1 0 1 0 -10.2 0M458.3 1433.5a5.1 5.1 0 1 0 10.2 0a5.1 5.1 0 1 0 -10.2 0M464.7 1432.2a5.1 5.1 0 1 0 10.2 0a5.1 5.1 0 1 0 -10.2 0M459.6 1441.2a5.1 5.1 0 1 0 10.2 0a5.1 5.1 0 1 0 -10.2 0M453.2 1445a5.1 5.1 0 1 0 10.2 0a5.1 5.1 0 1 0 -10.2 0M446.8 1447.6a5.1 5.1 0 1 0 10.2 0a5.1 5.1 0 1 0 -10.2 0M441.6 1452.7a5.1 5.1 0 1 0 10.2 0a5.1 5.1 0 1 0 -10.2 0M463.5 1442.5a5.1 5.1 0 1 0 10.2 0a5.1 5.1 0 1 0 -10.2 0M535.3 1432.2a5.1 5.1 0 1 0 10.2 0a5.1 5.1 0 1 0 -10.2 0M588.2 1429a5.1 5.1 0 1 0 10.2 0a5.1 5.1 0 1 0 -10.2 0M600.8 1430.7a5.1 5.1 0 1 0 10.2 0a5.1 5.1 0 1 0 -10.2 0M413.4 1448.9a5.1 5.1 0 1 0 10.2 0a5.1 5.1 0 1 0 -10.2 0M405.1 1455.3a5.1 5.1 0 1 0 10.2 0a5.1 5.1 0 1 0 -10.2 0M390.7 1452.7a5.1 5.1 0 1 0 10.2 0a5.1 5.1 0 1 0 -10.2 0M418.5 1460.4a5.1 5.1 0 1 0 10.2 0a5.1 5.1 0 1 0 -10.2 0M419.8 1467.5a5.1 5.1 0 1 0 10.2 0a5.1 5.1 0 1 0 -10.2 0M446.8 1459.8a5.1 5.1 0 1 0 10.2 0a5.1 5.1 0 1 0 -10.2 0M521.2 1455.3a5.1 5.1 0 1 0 10.2 0a5.1 5.1 0 1 0 -10.2 0M484.6 1468.1a5.1 5.1 0 1 0 10.2 0a5.1 5.1 0 1 0 -10.2 0M489.8 1473.3a5.1 5.1 0 1 0 10.2 0a5.1 5.1 0 1 0 -10.2 0M487.2 1477.1a5.1 5.1 0 1 0 10.2 0a5.1 5.1 0 1 0 -10.2 0M383.9 1468.8a5.1 5.1 0 1 0 10.2 0a5.1 5.1 0 1 0 -10.2 0M391.6 1469.4a5.1 5.1 0 1 0 10.2 0a5.1 5.1 0 1 0 -10.2 0M407.6 1476.5a5.1 5.1 0 1 0 10.2 0a5.1 5.1 0 1 0 -10.2 0M425.6 1476.5a5.1 5.1 0 1 0 10.2 0a5.1 5.1 0 1 0 -10.2 0M435.2 1470.1a5.1 5.1 0 1 0 10.2 0a5.1 5.1 0 1 0 -10.2 0M441.6 1473.9a5.1 5.1 0 1 0 10.2 0a5.1 5.1 0 1 0 -10.2 0M435.2 1479.7a5.1 5.1 0 1 0 10.2 0a5.1 5.1 0 1 0 -10.2 0M458.3 1479a5.1 5.1 0 1 0 10.2 0a5.1 5.1 0 1 0 -10.2 0M450.6 1482.9a5.1 5.1 0 1 0 10.2 0a5.1 5.1 0 1 0 -10.2 0M435.2 1483.5a5.1 5.1 0 1 0 10.2 0a5.1 5.1 0 1 0 -10.2 0M486.2 1488.7a5.1 5.1 0 1 0 10.2 0a5.1 5.1 0 1 0 -10.2 0M448.1 1489.9a5.1 5.1 0 1 0 10.2 0a5.1 5.1 0 1 0 -10.2 0M447.4 1494.4a5.1 5.1 0 1 0 10.2 0a5.1 5.1 0 1 0 -10.2 0M472.1 1502.4a5.1 5.1 0 1 0 10.2 0a5.1 5.1 0 1 0 -10.2 0M440.4 1505.6a5.1 5.1 0 1 0 10.2 0a5.1 5.1 0 1 0 -10.2 0M450 1506.6a5.1 5.1 0 1 0 10.2 0a5.1 5.1 0 1 0 -10.2 0M664.1 1192.1a5.1 5.1 0 1 0 10.2 0a5.1 5.1 0 1 0 -10.2 0M707.5 1198a5.1 5.1 0 1 0 10.2 0a5.1 5.1 0 1 0 -10.2 0M618.3 1210.5a5.1 5.1 0 1 0 10.2 0a5.1 5.1 0 1 0 -10.2 0M640.4 1218.6a5.1 5.1 0 1 0 10.2 0a5.1 5.1 0 1 0 -10.2 0M648.1 1228.2a5.1 5.1 0 1 0 10.2 0a5.1 5.1 0 1 0 -10.2 0M659.6 1240.4a5.1 5.1 0 1 0 10.2 0a5.1 5.1 0 1 0 -10.2 0M638.6 1247.4a5.1 5.1 0 1 0 10.2 0a5.1 5.1 0 1 0 -10.2 0M540.7 1259a5.1 5.1 0 1 0 10.2 0a5.1 5.1 0 1 0 -10.2 0M615.4 1272.7a5.1 5.1 0 1 0 10.2 0a5.1 5.1 0 1 0 -10.2 0M613.8 1277.2a5.1 5.1 0 1 0 10.2 0a5.1 5.1 0 1 0 -10.2 0M614.5 1281.1a5.1 5.1 0 1 0 10.2 0a5.1 5.1 0 1 0 -10.2 0M676.5 1278.5a5.1 5.1 0 1 0 10.2 0a5.1 5.1 0 1 0 -10.2 0M688.9 1296.1a5.1 5.1 0 1 0 10.2 0a5.1 5.1 0 1 0 -10.2 0M534.9 1286.5a5.1 5.1 0 1 0 10.2 0a5.1 5.1 0 1 0 -10.2 0M645.5 1308.4a5.1 5.1 0 1 0 10.2 0a5.1 5.1 0 1 0 -10.2 0M655.2 1304.8a5.1 5.1 0 1 0 10.2 0a5.1 5.1 0 1 0 -10.2 0M624.4 1326.6a5.1 5.1 0 1 0 10.2 0a5.1 5.1 0 1 0 -10.2 0M619 1336.5a5.1 5.1 0 1 0 10.2 0a5.1 5.1 0 1 0 -10.2 0M489.6 1218.3a5.1 5.1 0 1 0 10.2 0a5.1 5.1 0 1 0 -10.2 0M505.3 1295.3a5.1 5.1 0 1 0 10.2 0a5.1 5.1 0 1 0 -10.2 0M454.2 1545.2a5.1 5.1 0 1 0 10.2 0a5.1 5.1 0 1 0 -10.2 0M352.1 1457a5.1 5.1 0 1 0 10.2 0a5.1 5.1 0 1 0 -10.2 0" fill="#000"/>
</g>
<rect x="170.9" y="961.4" width="763.4" height="788.6" fill="none" stroke="#333333" stroke-width="2.1"/>
<text x="204.2" y="1794.6" text-anchor="middle" class="tk">0</text>
<text x="343.4" y="1794.6" text-anchor="middle" class="tk">5</text>
<text x="482.6" y="1794.6" text-anchor="middle" class="tk">10</text>
<text x="621.8" y="1794.6" text-anchor="middle" class="tk">15</text>
<text x="761" y="1794.6" text-anchor="middle" class="tk">20</text>
<text x="900.2" y="1794.6" text-anchor="middle" class="tk">25</text>
<text x="150.8" y="1727.4" text-anchor="end" class="tk">0</text>
<text x="150.8" y="1583.9" text-anchor="end" class="tk">5</text>
<text x="150.8" y="1440.3" text-anchor="end" class="tk">10</text>
<text x="150.8" y="1296.8" text-anchor="end" class="tk">15</text>
<text x="150.8" y="1153.2" text-anchor="end" class="tk">20</text>
<text x="150.8" y="1009.7" text-anchor="end" class="tk">25</text>
<path d="M204.2 1750v11.4M343.4 1750v11.4M482.6 1750v11.4M621.8 1750v11.4M761 1750v11.4M900.2 1750v11.4M170.9 1714.4h-11.8M170.9 1570.9h-11.8M170.9 1427.3h-11.8M170.9 1283.8h-11.8M170.9 1140.2h-11.8M170.9 996.7h-11.8" stroke="#333333" stroke-width="3" fill="none"/>
<text x="204" y="1027.4" class="an">R² = 0.8</text>
<text x="204" y="1099.2" class="an">RMSE = 1.6</text>
<text x="204" y="1171.1" class="an">%RMSE = 8.7</text>
<text x="204" y="1243" class="an">N comp = 23</text>
<text x="25.6" y="998.8" class="lb">(c)</text>
</g>
<g id="panel-d">
<clipPath id="clipd"><rect x="1106.3" y="961.4" width="764.3" height="788.6"/></clipPath>
<g clip-path="url(#clipd)">
<path d="M1137.8 1664H1154.9M1145.1 1684.2H1163.4M1148.1 1689.9H1165.8M1156.8 1697H1170.4M1157.5 1673.9H1174.5M1161.7 1667.5H1182.3M1168.7 1665.6H1182.7M1170.4 1653.4H1185.9M1182.8 1651.4H1198.3M1179.6 1659.1H1191.7M1174.6 1697.6H1185M1165.3 1689.9H1179.6M1174.1 1688.7H1189.4M1179.9 1684.8H1199.6M1191.4 1679.7H1201.3M1191.3 1689.3H1212.4M1196.3 1686.7H1216.7M1176.3 1673.9H1198.4M1186.1 1675.8H1206.8M1202.3 1706.9H1219.9M1228.9 1694.2H1239.4M1269.2 1697.6H1286.8M1213.2 1682.2H1235.8M1223.5 1686.1H1236M1208.6 1677.1H1223.9M1237.7 1674.5H1249.2M1242.5 1681.6H1254.3M1254.6 1674.5H1265M1264.7 1676.5H1284.5M1218.8 1670.7H1239.1M1289.9 1642.7H1300.2M1261.4 1639.9H1281.7M1260.2 1645.7H1276M1256.2 1630.9H1270.5M1280.3 1627.7H1299.7M1289 1621.9H1308.1M1300.9 1621.7H1323.3M1317.2 1630.9H1329.1M1317.9 1636H1337.7M1344.1 1623.2H1363.9M1354.6 1623.2V1623.3M1299 1608.4H1318.9M1312.4 1599.5H1331.6M1317.1 1595H1334.8M1326.4 1594.3V1595M1326.1 1581.1H1346.3M1335.3 1581.1V1581.2M1337.8 1586H1358.1M1348.2 1586V1587.9M1345.2 1588.6H1359.8M1353.3 1588.6V1589.3M1351.1 1595.2H1370.6M1361 1595.2V1595.5M1363.3 1580.2H1375.5M1368.7 1580.2V1580.3M1350.9 1568.7H1371.4M1361.7 1568.7V1568.8M1337.7 1562.9H1357M1347.5 1562.9V1563M1360.4 1557.1H1377.2M1368.7 1557.1V1557.2M1347.7 1553.9H1357.9M1352 1542.4H1363.8M1353.1 1529.3H1372.2M1362.9 1529.1V1529.3M1183.9 1641.8H1198.9M1172 1624.2H1187.7M1179.9 1622.6H1201.7M1190.7 1620V1622.6M1195.5 1628.3H1213.1M1198.2 1616.1H1210.8M1204.4 1615.5V1616.1M1199 1607.2H1211.8M1189 1590.9H1202.1M1199 1595.6H1220.8M1209.6 1595.6V1597.9M1210.2 1581.1H1231.2M1220.9 1581.1V1581.2M1204.2 1569.9H1221M1212.8 1569.7V1569.9M1213.6 1562.2H1233.2M1224.3 1562.2V1562.9M1226.3 1559H1244.1M1235.2 1559V1559.7M1199.6 1545.9H1214.1M1206.6 1545.9V1546.2M1219.1 1545.6H1237.6M1228.6 1545.6V1546.2M1177.8 1523.1H1200.5M1198.6 1501.9H1215M1206.7 1501V1501.9M1230.1 1506.2H1251.2M1240.1 1506.2V1506.6M1232.8 1506.2H1263.4M1252.6 1506.2V1506.6M1247.5 1517.3H1266.8M1257.1 1517.3V1518M1243.1 1521.2H1267.5M1253.2 1520.7V1521.2M1228.6 1530.2H1248.8M1238.4 1530.2V1530.4M1238.6 1529.5H1257.7M1248.7 1529.5V1529.7M1247.1 1530.8H1264.1M1236.8 1535.9H1249.6M1242.9 1535.9V1536.1M1264 1503.9H1287.9M1275 1503.9V1504.7M1275.8 1507.7H1290.8M1309.7 1501.1H1322.7M1312 1501.2H1329.5M1321 1498.5V1501.2M1317 1500.7H1338.5M1327.9 1499.4V1500.7M1323.8 1500.1H1343.3M1333.5 1499.7V1500.1M1347 1500.4H1368.2M1356.9 1497.7V1500.4M1283.5 1504.6H1305.9M1288.9 1503.2H1304.4M1295.7 1504H1309.5M1306.1 1505.1H1322.3M1314.3 1505.1V1507.6M1311.5 1505.2H1329.8M1319.3 1505.2V1508.2M1316.5 1504.7H1336.1M1325.7 1504.7V1507.5M1323.3 1505.1H1336.2M1332.5 1504.5H1345.4M1339.4 1505H1352.1M1341.4 1504.2H1359.8M1347.7 1505.9H1363.7M1353.6 1503H1374.1M1285.1 1508.7H1294.6M1287.1 1509.1H1303.2M1290.7 1509H1309.3M1298.6 1508.3H1317.3M1306.6 1509H1325M1327.1 1508.7H1337.7M1327.2 1510.6H1349.9M1332.2 1507.6H1351.9M1340 1510.3H1352.1M1342.3 1509.3H1361.8M1347.7 1508.9H1364.3M1355.7 1509.1H1375.4M1363.8 1509.1V1511.8M1359.6 1507.9H1378.8M1291.1 1513.6H1303.7M1293.6 1513.8H1314.1M1301.3 1512.9H1314.5M1305.7 1512.9H1321.5M1314.5 1512.4H1324.7M1316.2 1513.4H1333.4M1328.6 1514.7H1353.5M1339 1514.7V1517.1M1338 1513.9H1353.3M1344.4 1512.8H1356.1M1353.3 1514.2H1366M1359.1 1512.9H1370.6M1279.6 1518.7H1290.3M1281 1518.6H1303.5M1290.2 1518.6V1521M1289.8 1518.5H1299.5M1289.7 1518.5H1311.7M1297.9 1518.5H1317.6M1315.5 1517.9H1327.5M1317.3 1516.5H1334.5M1325 1517.3H1338.6M1344.1 1517.3H1362.5M1350.4 1517.5H1365.5M1266.8 1523.2H1285.8M1272.1 1522.2H1293M1279.9 1522H1296.4M1292.8 1524.1H1305M1295.4 1523.8H1314.3M1304.2 1523.8V1526M1298.9 1523.1H1317.3M1306.5 1522.3H1319M1313 1522H1332.9M1320.1 1522V1523.7M1322.4 1522.1H1340.1M1330.2 1521.1H1345.3M1335.5 1521.1V1523.5M1337.6 1523.9H1354.7M1345.3 1523.9V1526.8M1340.1 1522.8H1361.6M1262.4 1527.8H1277.4M1268.4 1526.3H1280.2M1273 1526.1H1286.9M1280.7 1528.5H1297.7M1287.5 1527.2H1300.3M1302.5 1527.5H1317.2M1310.5 1526.7H1321.9M1314.6 1527.1H1325.1M1319.4 1528.6H1335.5M1327.4 1528.6V1530.3M1322.3 1527.4H1340.3M1332.3 1527.5H1355M1342.7 1527.5V1530.1M1342.3 1528H1360.5M1257.1 1533H1276.7M1264.4 1532.6H1279.4M1271.8 1532.6V1534.8M1281.6 1532.9H1296.4M1289.3 1532.9V1534.6M1286.4 1532.9H1301.6M1287.4 1532.5H1307.4M1298.3 1532.5V1535.4M1296.1 1531.3H1308.6M1301.6 1531.2H1323M1309.8 1530.9V1531.2M1311.4 1530.6H1331.2M1320.4 1533H1340.2M1328.5 1530.7H1340.3M1334.3 1531.9H1347M1346.3 1533.1H1356.5M1259.2 1536.6H1269.4M1262.9 1536.4H1278.3M1274 1535.3H1287.3M1286.3 1535.9H1301.8M1298.1 1536.3H1316M1304 1535.3H1317.2M1307 1535.1H1326M1314.1 1535.1H1326.5M1318 1536.4H1333M1326.7 1536.4V1539M1327.1 1537.3H1345.4M1335.5 1537.1H1350.9M1246.6 1541.8H1268.4M1256.8 1540.3H1268.4M1256 1541.4H1276.4M1266 1541.4V1544.1M1264.8 1541.5H1279.8M1273.8 1539.8H1295.7M1283.9 1539.8V1540.7M1285.6 1541H1304.9M1293.5 1541V1543.7M1293.1 1540.4H1303.9M1292.7 1540.6H1312.7M1303.5 1540.6V1543.5M1303.6 1539.7H1316.5M1306.2 1541.2H1322.8M1310.1 1540.7H1325M1319.4 1541.7H1339.9M1329.9 1541.7H1346.1M1335.5 1540.6H1355.1M1343.8 1541.1H1357.8M1346.6 1539.5H1362.2M1238.1 1546.6H1256.4M1248.4 1546.6V1549.3M1245.2 1544.5H1261.5M1253.4 1544.9H1264.5M1259.4 1545.3H1276.3M1266.3 1546.4H1285.5M1275.7 1546.4V1548.2M1276.4 1543.5H1295M1280.2 1543.9H1299.8M1299.1 1544H1311.6M1305.3 1546.2H1322.5M1312.1 1545.5V1546.2M1317.8 1545H1337.5M1325.8 1546.1H1336.8M1329.8 1546.3H1347.3M1336.3 1546.3V1548M1332.3 1545.4H1355.2M1341.9 1544.7H1354.1M1342.5 1545.8H1363.3M1247.5 1550.6H1263.6M1254.4 1549.4H1269.1M1255.4 1550.1H1273.8M1272.8 1550H1289.2M1278.9 1549.4H1295.5M1283.4 1549.5H1304.1M1299.5 1549.3H1318.5M1316.2 1548.6H1330.8M1318.3 1548.5H1336.6M1325.8 1550.2H1346.1M1334.2 1550.2V1552.9M1339.4 1548.6H1350M1344.2 1549.2H1355.7M1235.4 1555.6H1248.9M1242.4 1555.6V1557.4M1236.6 1555.1H1257.2M1249.4 1555.1V1557M1250.6 1554H1269.1M1256.6 1553.4H1274M1263.5 1552.6H1278.3M1270.6 1553.1H1286.8M1275.7 1553.3H1292.5M1283.8 1555H1296.4M1288.4 1554.2H1302.2M1300.3 1553.6H1312M1302.8 1552.7H1319.6M1316.7 1554H1329.5M1325.1 1555.4H1336.5M1332 1553.5H1350.1M1339.1 1553.8H1356.2M1249.8 1557.5H1264.1M1256.3 1559.5H1270.5M1257.2 1557.1H1276.8M1271.3 1557.1H1283.5M1269 1559H1287.8M1281.2 1559V1561.9M1280.9 1559.1H1292M1284.9 1558.3H1300.7M1289.1 1559.5H1303.9M1293 1559.7H1315.9M1304 1559.7V1562.4M1314.3 1557.3H1324.9M1317.3 1557.3H1330.8M1228 1563.9H1244.3M1237.4 1563.9V1566.5M1235.2 1562.1H1256.5M1245 1562.1V1564.1M1240.6 1564.3H1263.6M1254.1 1564.3V1567.1M1247.5 1563.3H1270.8M1269.1 1564H1286.8M1276.1 1564V1567M1274.9 1564.4H1294.8M1285.6 1564.4V1566.3M1281 1564.6H1298.8M1286.9 1562.6H1308.2M1289.7 1562.5H1309.4M1225.4 1567.4H1237.9M1234.4 1569H1245.3M1238.2 1568.1H1255M1246.2 1568.8H1266.3M1257.2 1568V1570.8M1261 1568H1275.6M1261 1568.7H1283M1285.3 1568.7H1298.6M1296.4 1568.9H1309.4M1300 1568H1317.3M1307.7 1566.7H1319.1M1310.6 1567.4H1331.8M1315.2 1566.3H1332.3M1221.3 1572.3H1242.2M1227.9 1572.5H1245.5M1231.2 1573.1H1251.6M1243.6 1573.6H1257.6M1250.3 1573.6V1575.2M1245.4 1573.3H1268M1258.4 1573.3V1575.3M1255.7 1572.7H1274.8M1257.9 1573.4H1282.2M1268.2 1573.4V1575.8M1273.3 1572H1285.5M1276.3 1570.9H1294.7M1290.6 1573H1301.8M1291.6 1573.6H1308.5M1299.9 1573.6V1576.1M1297 1571.9H1316.1M1301.6 1571.2H1319.4M1308.9 1570.8H1324.4M1316.7 1570.8H1326.6M1218.1 1575.3H1234.1M1226.3 1575.7H1241M1231.3 1575.7V1576.7M1233.2 1576.9H1248.1M1240 1576.8H1251.3M1253.6 1576.7H1271.5M1261.5 1576.7V1579.6M1271.5 1575.3H1284.8M1276.5 1576.7H1288.5M1280.9 1577.6H1298.2M1287.3 1577.6V1580.4M1285.1 1577.8H1300.1M1300.4 1576.4H1316.9M1302.7 1576.8H1325.7M1308.6 1575.6H1325.9M1224.9 1580.7H1241.6M1231.9 1580.5H1243.5M1232.3 1579.9H1253.6M1243.9 1579.6H1256.2M1247.1 1580H1258.9M1249.3 1582.4H1268M1268.8 1582.4H1288M1276 1582.4V1584.7M1281.3 1580.7H1290.8M1287.1 1582.4H1302.2M1294.3 1582.4V1584.4M1293.2 1579.9H1308.8M1299.3 1582.4H1313.7M1300.5 1581.7H1320.5M1306.8 1580.8H1323.2M1310.4 1580.2H1330.6M1215.6 1587.1H1227.2M1214.9 1586.1H1234.4M1225.5 1586.1V1588.9M1223.3 1586.8H1245.5M1235.4 1586.8V1589M1235.7 1584H1246.5M1239.9 1585.9H1253.6M1246 1585.9V1588.9M1242.1 1586.3H1260.4M1248.9 1586.5H1270.3M1260.8 1586.5V1589M1256.8 1584.1H1275.4M1260.9 1585.7H1281.1M1275.1 1585.5H1290.6M1291.8 1586.2H1307.2M1295.7 1586.9H1311.5M1302 1585.6H1314.5M1234.5 1591.2H1248.7M1248.7 1591.2H1262.3M1254.2 1591H1272.8M1259.1 1591.1H1278.7M1270.9 1590.9H1280.9M1269 1589.2H1291.5M1274.1 1590.3H1293.6M1284.4 1590.1H1304M1291.4 1591.3H1308.7M1301.1 1591.3V1593.5M1301.5 1588.8H1311.8M1209.9 1596H1229M1220.8 1593V1596M1215.3 1594.8H1236.9M1222.4 1595.2H1240.7M1231.7 1595.2V1598.2M1228.8 1595.2H1249.9M1240.6 1595.2V1597.6M1238.8 1593H1262M1247.5 1593V1595.9M1246.4 1595H1262.5M1255.4 1596.1H1269.2M1265.1 1594H1276.9M1272.7 1595.7H1283.1M1277.6 1593.7H1288.7M1282 1593.6H1296.2M1287 1593.5H1300.1M1299.6 1593.1H1316M1211.8 1598.7H1222.6M1219.4 1599.6H1235.3M1239.5 1598.2H1254.4M1245.1 1598.2V1598.2M1248.8 1599.8H1260.3M1247.9 1600.1H1270.2M1260.2 1599.2H1270.7M1258.8 1599.5H1279.5M1264.7 1599.7H1281.7M1276.2 1600.2H1290.8M1284.3 1599.2H1297.6M1287.8 1597.7H1303.3M1288.6 1597.6H1308.9M1294.5 1599.2H1317.8M1206.4 1605H1226M1211.7 1604.6H1229.1M1219.4 1604.5H1235.2M1226.2 1603.2V1604.5M1230.3 1605H1244.4M1234.6 1604.5H1249.9M1242.1 1604.5V1606.9M1240 1602.3H1250.5M1240.9 1604.8H1259.8M1245.3 1603.8H1267.6M1250.1 1603.9H1272.8M1259.7 1603.5H1275.7M1269.9 1604.5H1283.5M1281.9 1604.9H1295.5M1285.4 1603.3H1302.6M1294.5 1603.3V1603.9M1216.9 1609H1231.3M1221.3 1607.9H1236.9M1226.6 1608.5H1239.5M1233.8 1608.3H1244.3M1238.9 1607.5H1255.8M1246.2 1608.5H1264.7M1254.9 1608.5V1611.2M1249.4 1607.9H1266.4M1253.9 1608.1H1272.4M1261.2 1607.6H1280M1274.4 1606.5H1287.1M1274.7 1607.7H1295M1280.8 1609.3H1298.1M1285.1 1609.2H1308.3M1296 1609.2V1611.1M1293.4 1606.8H1305.9M1211.4 1611.2H1226.7M1217.3 1613.4H1234M1225.7 1613.6H1236.5M1231.8 1613.4H1249.7M1255 1611.6H1265.9M1258.3 1613.3H1279.8M1268.5 1613.3V1615.6M1262.5 1613.1H1283.8M1272.2 1613.1V1615.6M1273.7 1612.7H1292.7M1207.9 1617.2H1227.3M1213 1616.2H1233.8M1217.1 1617.9H1236.1M1227 1617.9V1620.9M1223.4 1617H1245.6M1230 1618.5H1250.2M1239.6 1618.5V1621.2M1236.8 1617.1H1247.9M1238.3 1617.2H1258.4M1245.9 1618.5H1259.3M1252.4 1616.8H1265.7M1256.1 1616.2H1271.2M1270.8 1617.5H1291.2M1278.1 1617.9H1293M1280.8 1615.8H1298.9M1289.1 1617.1H1298.7M1209.3 1623.1H1224.6M1216.1 1621.5V1625.6M1224.2 1622.6H1235.6M1226.5 1620.4H1244.4M1238.8 1622.7H1253M1243.5 1622.8H1257.6M1246.6 1622.4H1263.7M1252.4 1622.6H1271.4M1218.7 1625.8H1228.7M1218 1626.1H1236.1M1225.5 1626.1H1241.7M1236.7 1626.3H1247.8M1238.3 1627.2H1259.8M1250.1 1627.2V1629.1M1251.6 1627H1271M1202.9 1629.2H1222M1210.7 1631.5H1230M1213.6 1632.2H1236.6M1224.3 1632.2V1635.1M1226 1631.9H1242.9M1232.9 1631.5H1245.8M1244.2 1631.3H1256.5M1247.2 1629.6H1262.3M1207.5 1636.4H1217.8M1209.9 1636.6H1227.8M1218.4 1636.6V1638.7M1223.7 1634.8H1235.7M1227.3 1636.1H1246.2M1235.9 1636.6H1248.6M1241.9 1635.3H1256.1M1244.5 1636.2H1266M1254.9 1636.2V1639M1202.4 1640.4H1220.6M1210.9 1640.1V1640.4M1221.9 1640.2H1238.5M1227.4 1640.5H1243.4M1233.9 1641H1249.1M1234.7 1640.5H1256.3M1246 1640.5V1643.1M1244 1640H1260.5M1194.8 1644.3H1207.6M1198.3 1644H1213.5M1203.1 1645.5H1222.3M1212.8 1642.9H1224.4M1210.8 1645H1229.5M1222.5 1645V1647.4M1218.5 1644.8H1236.6M1225.5 1645.2H1248.6M1234.4 1645.2V1647.7M1237.6 1644.3H1259.1M1243.9 1643.2H1263.6M1188.2 1649.4H1205.8M1198 1650.1H1212.9M1201.8 1647.2H1217.3M1211 1649.1H1222.6M1219.5 1648.1H1234.2M1221.3 1648.5H1237.5M1228.7 1648.2H1250.1M1237.5 1649.9H1258.5M1245.2 1647.4H1260.4M1245.7 1649.9H1262.5M1255.5 1649.9V1652.1M1193.3 1653H1207.4M1195.5 1654.7H1215.6M1205.6 1654.7V1657.3M1205.9 1652.7H1220.2M1207.6 1652.7H1226.6M1216 1653H1232.9M1221.1 1653.1H1240.3M1229.1 1653.1V1653.5M1228 1654.4H1248M1233.2 1652.6H1253.1M1242.5 1653.8H1254.8M1193.5 1659H1206.5M1199.2 1659V1661.3M1199.9 1656.4H1219.2M1204.1 1656.2H1222.3M1213.6 1658.1H1227.8M1215.9 1657.3H1234.5M1220.2 1656.2H1242.5M1232.4 1658.1H1253.3M1239.7 1658.5H1251.1M1247.5 1657.5H1257.5M1198.6 1662.6H1213.7M1204.3 1661.8H1220.7M1209.1 1662.5H1228.1M1220.3 1661.3H1234.6M1226.8 1662.8H1237.4M1239.3 1661.1H1260.1M1197.6 1666.9H1213.2M1201 1666.8H1216.4M1206.1 1665.2H1225.6M1211.7 1666.6H1231.6M1220.7 1665.5H1231.9M1427.3 1349.7H1460M1405.5 1354.2H1427.9M1388.8 1366.4H1407.4M1402.9 1373.5H1430.5M1354.7 1372.5H1372.3M1356 1379.6H1380.4M1339.4 1384.1H1376.6M1404.2 1385.7H1425.3M1391.3 1395.4H1413.8M1311 1392.7H1326.5M1319.1 1392.7V1392.8M1316.9 1405.2H1330.4M1323.1 1405V1405.2M1397.8 1408.8H1427.9M1348.3 1412.3H1383.6M1319.1 1414.6H1339.7M1329.1 1414.6V1414.7M1329.5 1417.4H1351.2M1338.1 1417.2V1417.4M1333.5 1418.1H1352.5M1343.9 1418.1V1418.5M1346.7 1420.6H1364.1M1289.3 1423H1306.3M1297.4 1422.7V1423M1329 1426.4H1346.4M1338.1 1426.2V1426.4M1327.6 1432.8H1343.3M1336.1 1432.6V1432.8M1342.4 1430.9H1355.4M1334.9 1439.3H1358.4M1367.4 1432.2H1377.6M1374.3 1431.6H1395.2M1389.5 1434.1H1402.8M1390.2 1439.3H1410.2M1420.2 1434.8H1449.1M1420.2 1441.8H1446.5M1315.8 1441.8H1335.8M1325.2 1441.6V1441.8M1329.8 1445H1344.7M1336.8 1444.2V1445M1315.8 1450.2H1337.3M1308.9 1452.7H1326.6M1318.8 1452.7V1453.2M1360.5 1441.2H1371.1M1372.4 1439.9H1384.3M1350.1 1445H1368.3M1367.4 1450.2H1379.7M1374.6 1452.7H1393.1M1371.3 1445H1387.7M1291.2 1452.7H1312.4M1302.1 1452.7V1452.8M1302.4 1464.9H1315.5M1309.8 1464.7V1464.9M1313.9 1463H1329.5M1322 1462.1V1463M1308.9 1456.6H1326.8M1259.8 1465.9H1289.3M1274.8 1465.7V1465.9M1273.5 1473H1291.1M1281.9 1473V1473M1395.8 1466.8H1451.7M1377.4 1463H1390.7M1381.5 1468.8H1396M1399.5 1470.1H1417.7M1398.4 1479H1422.8M1400.3 1488.7H1439.5M1375.9 1480.7H1398M1255.6 1483.5H1272.6M1264 1483.3V1483.5M1286.4 1480.3H1309.2M1297 1480.1V1480.3M1279.6 1484.2H1299.9M1289.9 1484V1484.2M1285.3 1488H1304.4M1303.7 1474.5H1314.9M1309.8 1474.5V1477.5M1304.8 1479.7H1314.3M1296.9 1488.7H1313M1304.7 1487.8V1488.7M1272.7 1491.2H1289.4M1280.3 1490.4V1491.2M1267.7 1496.4H1287.9M1277.8 1496.4V1496.8M1268.6 1507.9H1290.7M1280.3 1507.9V1508.3M1385.1 1497.6H1402.7M1375.9 1500.9H1396M1398.4 1513.4H1425.3M1394.5 1522.3H1415.7M1383.7 1515.6H1401.8M1377.7 1520.1H1397.4M1373.5 1523.3H1385.9M1243.9 1534.9H1266.2M1367 1531H1390.1M1377.9 1531V1532.2M1370.5 1537.4H1385M1377.9 1537.3V1537.4M1370.3 1510.5H1384.4M1328.3 1450.5H1349.1M1340.5 1450.5V1453.3M1341.9 1449H1356.6M1347.5 1449V1449.7M1351.9 1448.1H1370.9M1333.7 1454.2H1351.9M1350.2 1452.6H1359.6M1348.6 1454.8H1370.3M1359.6 1454.8V1457.1M1359.6 1452.7H1372.3M1329.5 1459.3H1349.2M1337 1459.3V1462M1335.8 1459.7H1355.1M1344 1457.1H1357.5M1350.3 1458.1H1373.9M1327.8 1463H1342.7M1335.9 1463.6H1350.8M1342.7 1462.2H1355.1M1342.8 1464.3H1365.9M1356.2 1462.6H1373.7M1324.7 1467.8H1338.8M1330 1467.2H1344.4M1335.3 1467.7H1346.4M1346.7 1467.3H1357.9M1345.6 1468.6H1367.6M1316.2 1472.9H1337.8M1332.6 1471.7H1344M1335 1470.5H1355.1M1344.4 1470.9H1355.4M1352.9 1472H1366.1M1357.1 1473H1373.6M1365.4 1473V1475.9M1320.4 1476.7H1331.5M1320.7 1476.9H1341.6M1327.6 1477.7H1343M1337.9 1477.6H1361.3M1347.5 1475.7V1477.6M1351.3 1477.1H1370.1M1365.5 1476.2H1376.9M1370.3 1477.2H1385.5M1325.4 1482.2H1340.4M1333 1482.2V1484.3M1332 1482.2H1345.6M1336.4 1480.6H1349.6M1345.6 1480.3H1360.7M1348.2 1481.7H1366M1353.1 1482.1H1375.9M1362 1482.5H1379.8M1368.5 1482.2H1383.5M1310.9 1487.1H1330.5M1316.3 1486.9H1335.9M1321.3 1485.8H1343.4M1339.9 1484H1353.8M1343.5 1485.1H1360.1M1347.2 1484.8H1365.4M1354.7 1485.3H1369.5M1360.5 1485.6H1376.9M1372 1486.3H1383.6M1313.9 1490.2H1330.4M1317.2 1490.6H1336.6M1326 1489.2H1339.4M1333.7 1489.4H1344.7M1333 1489.2H1353.4M1340.4 1490.4H1358.7M1348.7 1489H1359.6M1348.9 1489.2H1367.5M1360.9 1489.8H1380.2M1298 1494.4H1319M1307.7 1494.5H1320.3M1314 1493.9H1328.1M1318.6 1494.3H1331.5M1325.3 1493H1337.4M1333.9 1495.9H1354.1M1342.6 1495.9V1498.9M1336.4 1494.8H1354.5M1342 1496.1H1365.1M1352.6 1496.1V1498.2M1347.4 1493.2H1366.3M1352.4 1495H1375.5M1358.8 1495.8H1379.4M1364.3 1495.5H1381.7M1302.7 1498.4H1319.4M1309.4 1497.5H1327.3M1333.3 1498.8H1344.3M1338.6 1499.1H1360.2M1354.5 1499.6H1372.5M1721.7 1092.3H1770.3M1526.7 1133.7H1564.2M1530.4 1150.7H1582.6M1547.9 1170.9H1583.6M1682.1 1176.2H1733.4M1436.3 1193.7H1481.5M1652.2 1199.8H1694.5M1552.7 1208.3H1595.3M1562.5 1215.6H1595.8M1532.1 1217.5H1560M1524.3 1221H1549.1M1584.3 1253.8H1623.2M1631.8 1252.8H1665.8M1359.5 1255.2H1389.8M1368.4 1288.1H1392.3M1368.2 1568.1H1429.8M1371.3 1592.1H1383M1345.9 1555.3H1369.5M1340.1 1553.4H1361.2M1365.3 1542.5H1384" stroke="#BEBEBE" stroke-width="3.15" fill="none"/>
<line x1="1106.3" y1="1750" x2="1870.6" y2="961.4" stroke="#000" stroke-width="3.45"/>
<path d="M1141.6 1664a5.1 5.1 0 1 0 10.2 0a5.1 5.1 0 1 0 -10.2 0M1149.3 1684.2a5.1 5.1 0 1 0 10.2 0a5.1 5.1 0 1 0 -10.2 0M1152.5 1689.9a5.1 5.1 0 1 0 10.2 0a5.1 5.1 0 1 0 -10.2 0M1158.9 1697a5.1 5.1 0 1 0 10.2 0a5.1 5.1 0 1 0 -10.2 0M1160.8 1673.9a5.1 5.1 0 1 0 10.2 0a5.1 5.1 0 1 0 -10.2 0M1167.3 1667.5a5.1 5.1 0 1 0 10.2 0a5.1 5.1 0 1 0 -10.2 0M1170.5 1665.6a5.1 5.1 0 1 0 10.2 0a5.1 5.1 0 1 0 -10.2 0M1173.4 1653.4a5.1 5.1 0 1 0 10.2 0a5.1 5.1 0 1 0 -10.2 0M1185.2 1651.4a5.1 5.1 0 1 0 10.2 0a5.1 5.1 0 1 0 -10.2 0M1180.1 1659.1a5.1 5.1 0 1 0 10.2 0a5.1 5.1 0 1 0 -10.2 0M1175 1697.6a5.1 5.1 0 1 0 10.2 0a5.1 5.1 0 1 0 -10.2 0M1167.3 1689.9a5.1 5.1 0 1 0 10.2 0a5.1 5.1 0 1 0 -10.2 0M1176.2 1688.7a5.1 5.1 0 1 0 10.2 0a5.1 5.1 0 1 0 -10.2 0M1183.9 1684.8a5.1 5.1 0 1 0 10.2 0a5.1 5.1 0 1 0 -10.2 0M1191.6 1679.7a5.1 5.1 0 1 0 10.2 0a5.1 5.1 0 1 0 -10.2 0M1196.1 1689.3a5.1 5.1 0 1 0 10.2 0a5.1 5.1 0 1 0 -10.2 0M1200.6 1686.7a5.1 5.1 0 1 0 10.2 0a5.1 5.1 0 1 0 -10.2 0M1181.4 1673.9a5.1 5.1 0 1 0 10.2 0a5.1 5.1 0 1 0 -10.2 0M1191.6 1675.8a5.1 5.1 0 1 0 10.2 0a5.1 5.1 0 1 0 -10.2 0M1205.8 1706.9a5.1 5.1 0 1 0 10.2 0a5.1 5.1 0 1 0 -10.2 0M1228.9 1694.2a5.1 5.1 0 1 0 10.2 0a5.1 5.1 0 1 0 -10.2 0M1273.8 1697.6a5.1 5.1 0 1 0 10.2 0a5.1 5.1 0 1 0 -10.2 0M1218.6 1682.2a5.1 5.1 0 1 0 10.2 0a5.1 5.1 0 1 0 -10.2 0M1224.4 1686.1a5.1 5.1 0 1 0 10.2 0a5.1 5.1 0 1 0 -10.2 0M1210.9 1677.1a5.1 5.1 0 1 0 10.2 0a5.1 5.1 0 1 0 -10.2 0M1237.8 1674.5a5.1 5.1 0 1 0 10.2 0a5.1 5.1 0 1 0 -10.2 0M1243 1681.6a5.1 5.1 0 1 0 10.2 0a5.1 5.1 0 1 0 -10.2 0M1254.5 1674.5a5.1 5.1 0 1 0 10.2 0a5.1 5.1 0 1 0 -10.2 0M1268.6 1676.5a5.1 5.1 0 1 0 10.2 0a5.1 5.1 0 1 0 -10.2 0M1223.7 1670.7a5.1 5.1 0 1 0 10.2 0a5.1 5.1 0 1 0 -10.2 0M1290.5 1642.7a5.1 5.1 0 1 0 10.2 0a5.1 5.1 0 1 0 -10.2 0M1266.1 1639.9a5.1 5.1 0 1 0 10.2 0a5.1 5.1 0 1 0 -10.2 0M1262.9 1645.7a5.1 5.1 0 1 0 10.2 0a5.1 5.1 0 1 0 -10.2 0M1257.7 1630.9a5.1 5.1 0 1 0 10.2 0a5.1 5.1 0 1 0 -10.2 0M1286 1627.7a5.1 5.1 0 1 0 10.2 0a5.1 5.1 0 1 0 -10.2 0M1293 1621.9a5.1 5.1 0 1 0 10.2 0a5.1 5.1 0 1 0 -10.2 0M1306.2 1621.7a5.1 5.1 0 1 0 10.2 0a5.1 5.1 0 1 0 -10.2 0M1318.1 1630.9a5.1 5.1 0 1 0 10.2 0a5.1 5.1 0 1 0 -10.2 0M1321.9 1636a5.1 5.1 0 1 0 10.2 0a5.1 5.1 0 1 0 -10.2 0M1349.5 1623.2a5.1 5.1 0 1 0 10.2 0a5.1 5.1 0 1 0 -10.2 0M1303.9 1608.4a5.1 5.1 0 1 0 10.2 0a5.1 5.1 0 1 0 -10.2 0M1316.1 1599.5a5.1 5.1 0 1 0 10.2 0a5.1 5.1 0 1 0 -10.2 0M1321.3 1595a5.1 5.1 0 1 0 10.2 0a5.1 5.1 0 1 0 -10.2 0M1330.2 1581.1a5.1 5.1 0 1 0 10.2 0a5.1 5.1 0 1 0 -10.2 0M1343.1 1586a5.1 5.1 0 1 0 10.2 0a5.1 5.1 0 1 0 -10.2 0M1348.2 1588.6a5.1 5.1 0 1 0 10.2 0a5.1 5.1 0 1 0 -10.2 0M1355.9 1595.2a5.1 5.1 0 1 0 10.2 0a5.1 5.1 0 1 0 -10.2 0M1363.6 1580.2a5.1 5.1 0 1 0 10.2 0a5.1 5.1 0 1 0 -10.2 0M1356.6 1568.7a5.1 5.1 0 1 0 10.2 0a5.1 5.1 0 1 0 -10.2 0M1342.4 1562.9a5.1 5.1 0 1 0 10.2 0a5.1 5.1 0 1 0 -10.2 0M1363.6 1557.1a5.1 5.1 0 1 0 10.2 0a5.1 5.1 0 1 0 -10.2 0M1348.2 1553.9a5.1 5.1 0 1 0 10.2 0a5.1 5.1 0 1 0 -10.2 0M1353.3 1542.4a5.1 5.1 0 1 0 10.2 0a5.1 5.1 0 1 0 -10.2 0M1357.8 1529.3a5.1 5.1 0 1 0 10.2 0a5.1 5.1 0 1 0 -10.2 0M1185.9 1641.8a5.1 5.1 0 1 0 10.2 0a5.1 5.1 0 1 0 -10.2 0M1175 1624.2a5.1 5.1 0 1 0 10.2 0a5.1 5.1 0 1 0 -10.2 0M1185.6 1622.6a5.1 5.1 0 1 0 10.2 0a5.1 5.1 0 1 0 -10.2 0M1199.7 1628.3a5.1 5.1 0 1 0 10.2 0a5.1 5.1 0 1 0 -10.2 0M1199.3 1616.1a5.1 5.1 0 1 0 10.2 0a5.1 5.1 0 1 0 -10.2 0M1200 1607.2a5.1 5.1 0 1 0 10.2 0a5.1 5.1 0 1 0 -10.2 0M1190.6 1590.9a5.1 5.1 0 1 0 10.2 0a5.1 5.1 0 1 0 -10.2 0M1204.5 1595.6a5.1 5.1 0 1 0 10.2 0a5.1 5.1 0 1 0 -10.2 0M1215.8 1581.1a5.1 5.1 0 1 0 10.2 0a5.1 5.1 0 1 0 -10.2 0M1207.7 1569.9a5.1 5.1 0 1 0 10.2 0a5.1 5.1 0 1 0 -10.2 0M1219.2 1562.2a5.1 5.1 0 1 0 10.2 0a5.1 5.1 0 1 0 -10.2 0M1230.1 1559a5.1 5.1 0 1 0 10.2 0a5.1 5.1 0 1 0 -10.2 0M1201.5 1545.9a5.1 5.1 0 1 0 10.2 0a5.1 5.1 0 1 0 -10.2 0M1223.5 1545.6a5.1 5.1 0 1 0 10.2 0a5.1 5.1 0 1 0 -10.2 0M1183 1523.1a5.1 5.1 0 1 0 10.2 0a5.1 5.1 0 1 0 -10.2 0M1201.6 1501.9a5.1 5.1 0 1 0 10.2 0a5.1 5.1 0 1 0 -10.2 0M1235 1506.2a5.1 5.1 0 1 0 10.2 0a5.1 5.1 0 1 0 -10.2 0M1247.5 1506.2a5.1 5.1 0 1 0 10.2 0a5.1 5.1 0 1 0 -10.2 0M1252 1517.3a5.1 5.1 0 1 0 10.2 0a5.1 5.1 0 1 0 -10.2 0M1248.1 1521.2a5.1 5.1 0 1 0 10.2 0a5.1 5.1 0 1 0 -10.2 0M1233.3 1530.2a5.1 5.1 0 1 0 10.2 0a5.1 5.1 0 1 0 -10.2 0M1243.6 1529.5a5.1 5.1 0 1 0 10.2 0a5.1 5.1 0 1 0 -10.2 0M1250 1530.8a5.1 5.1 0 1 0 10.2 0a5.1 5.1 0 1 0 -10.2 0M1237.8 1535.9a5.1 5.1 0 1 0 10.2 0a5.1 5.1 0 1 0 -10.2 0M1269.9 1503.9a5.1 5.1 0 1 0 10.2 0a5.1 5.1 0 1 0 -10.2 0M1278.9 1507.7a5.1 5.1 0 1 0 10.2 0a5.1 5.1 0 1 0 -10.2 0M1311.2 1501.1a5.1 5.1 0 1 0 10.2 0a5.1 5.1 0 1 0 -10.2 0M1315.9 1501.2a5.1 5.1 0 1 0 10.2 0a5.1 5.1 0 1 0 -10.2 0M1322.8 1500.7a5.1 5.1 0 1 0 10.2 0a5.1 5.1 0 1 0 -10.2 0M1328.4 1500.1a5.1 5.1 0 1 0 10.2 0a5.1 5.1 0 1 0 -10.2 0M1351.8 1500.4a5.1 5.1 0 1 0 10.2 0a5.1 5.1 0 1 0 -10.2 0M1289.1 1504.6a5.1 5.1 0 1 0 10.2 0a5.1 5.1 0 1 0 -10.2 0M1292.4 1503.2a5.1 5.1 0 1 0 10.2 0a5.1 5.1 0 1 0 -10.2 0M1297.9 1504a5.1 5.1 0 1 0 10.2 0a5.1 5.1 0 1 0 -10.2 0M1309.2 1505.1a5.1 5.1 0 1 0 10.2 0a5.1 5.1 0 1 0 -10.2 0M1314.2 1505.2a5.1 5.1 0 1 0 10.2 0a5.1 5.1 0 1 0 -10.2 0M1320.6 1504.7a5.1 5.1 0 1 0 10.2 0a5.1 5.1 0 1 0 -10.2 0M1324.8 1505.1a5.1 5.1 0 1 0 10.2 0a5.1 5.1 0 1 0 -10.2 0M1333.7 1504.5a5.1 5.1 0 1 0 10.2 0a5.1 5.1 0 1 0 -10.2 0M1341 1505a5.1 5.1 0 1 0 10.2 0a5.1 5.1 0 1 0 -10.2 0M1345.8 1504.2a5.1 5.1 0 1 0 10.2 0a5.1 5.1 0 1 0 -10.2 0M1351.1 1505.9a5.1 5.1 0 1 0 10.2 0a5.1 5.1 0 1 0 -10.2 0M1359.3 1503a5.1 5.1 0 1 0 10.2 0a5.1 5.1 0 1 0 -10.2 0M1285.3 1508.7a5.1 5.1 0 1 0 10.2 0a5.1 5.1 0 1 0 -10.2 0M1290.8 1509.1a5.1 5.1 0 1 0 10.2 0a5.1 5.1 0 1 0 -10.2 0M1294.4 1509a5.1 5.1 0 1 0 10.2 0a5.1 5.1 0 1 0 -10.2 0M1302.2 1508.3a5.1 5.1 0 1 0 10.2 0a5.1 5.1 0 1 0 -10.2 0M1311.2 1509a5.1 5.1 0 1 0 10.2 0a5.1 5.1 0 1 0 -10.2 0M1327.3 1508.7a5.1 5.1 0 1 0 10.2 0a5.1 5.1 0 1 0 -10.2 0M1332.9 1510.6a5.1 5.1 0 1 0 10.2 0a5.1 5.1 0 1 0 -10.2 0M1336.2 1507.6a5.1 5.1 0 1 0 10.2 0a5.1 5.1 0 1 0 -10.2 0M1341.1 1510.3a5.1 5.1 0 1 0 10.2 0a5.1 5.1 0 1 0 -10.2 0M1347.8 1509.3a5.1 5.1 0 1 0 10.2 0a5.1 5.1 0 1 0 -10.2 0M1351.4 1508.9a5.1 5.1 0 1 0 10.2 0a5.1 5.1 0 1 0 -10.2 0M1358.7 1509.1a5.1 5.1 0 1 0 10.2 0a5.1 5.1 0 1 0 -10.2 0M1363.3 1507.9a5.1 5.1 0 1 0 10.2 0a5.1 5.1 0 1 0 -10.2 0M1293 1513.6a5.1 5.1 0 1 0 10.2 0a5.1 5.1 0 1 0 -10.2 0M1299.3 1513.8a5.1 5.1 0 1 0 10.2 0a5.1 5.1 0 1 0 -10.2 0M1302.7 1512.9a5.1 5.1 0 1 0 10.2 0a5.1 5.1 0 1 0 -10.2 0M1308.4 1512.9a5.1 5.1 0 1 0 10.2 0a5.1 5.1 0 1 0 -10.2 0M1315 1512.4a5.1 5.1 0 1 0 10.2 0a5.1 5.1 0 1 0 -10.2 0M1319.5 1513.4a5.1 5.1 0 1 0 10.2 0a5.1 5.1 0 1 0 -10.2 0M1333.9 1514.7a5.1 5.1 0 1 0 10.2 0a5.1 5.1 0 1 0 -10.2 0M1341 1513.9a5.1 5.1 0 1 0 10.2 0a5.1 5.1 0 1 0 -10.2 0M1345 1512.8a5.1 5.1 0 1 0 10.2 0a5.1 5.1 0 1 0 -10.2 0M1354.5 1514.2a5.1 5.1 0 1 0 10.2 0a5.1 5.1 0 1 0 -10.2 0M1359.2 1512.9a5.1 5.1 0 1 0 10.2 0a5.1 5.1 0 1 0 -10.2 0M1280.4 1518.7a5.1 5.1 0 1 0 10.2 0a5.1 5.1 0 1 0 -10.2 0M1285.1 1518.6a5.1 5.1 0 1 0 10.2 0a5.1 5.1 0 1 0 -10.2 0M1289.9 1518.5a5.1 5.1 0 1 0 10.2 0a5.1 5.1 0 1 0 -10.2 0M1294.7 1518.5a5.1 5.1 0 1 0 10.2 0a5.1 5.1 0 1 0 -10.2 0M1301.9 1518.5a5.1 5.1 0 1 0 10.2 0a5.1 5.1 0 1 0 -10.2 0M1316.6 1517.9a5.1 5.1 0 1 0 10.2 0a5.1 5.1 0 1 0 -10.2 0M1320.2 1516.5a5.1 5.1 0 1 0 10.2 0a5.1 5.1 0 1 0 -10.2 0M1327.2 1517.3a5.1 5.1 0 1 0 10.2 0a5.1 5.1 0 1 0 -10.2 0M1348.4 1517.3a5.1 5.1 0 1 0 10.2 0a5.1 5.1 0 1 0 -10.2 0M1352.8 1517.5a5.1 5.1 0 1 0 10.2 0a5.1 5.1 0 1 0 -10.2 0M1271.2 1523.2a5.1 5.1 0 1 0 10.2 0a5.1 5.1 0 1 0 -10.2 0M1277.8 1522.2a5.1 5.1 0 1 0 10.2 0a5.1 5.1 0 1 0 -10.2 0M1282.4 1522a5.1 5.1 0 1 0 10.2 0a5.1 5.1 0 1 0 -10.2 0M1293.7 1524.1a5.1 5.1 0 1 0 10.2 0a5.1 5.1 0 1 0 -10.2 0M1299.1 1523.8a5.1 5.1 0 1 0 10.2 0a5.1 5.1 0 1 0 -10.2 0M1303.9 1523.1a5.1 5.1 0 1 0 10.2 0a5.1 5.1 0 1 0 -10.2 0M1308.1 1522.3a5.1 5.1 0 1 0 10.2 0a5.1 5.1 0 1 0 -10.2 0M1315 1522a5.1 5.1 0 1 0 10.2 0a5.1 5.1 0 1 0 -10.2 0M1325.4 1522.1a5.1 5.1 0 1 0 10.2 0a5.1 5.1 0 1 0 -10.2 0M1330.4 1521.1a5.1 5.1 0 1 0 10.2 0a5.1 5.1 0 1 0 -10.2 0M1340.2 1523.9a5.1 5.1 0 1 0 10.2 0a5.1 5.1 0 1 0 -10.2 0M1345.4 1522.8a5.1 5.1 0 1 0 10.2 0a5.1 5.1 0 1 0 -10.2 0M1264.7 1527.8a5.1 5.1 0 1 0 10.2 0a5.1 5.1 0 1 0 -10.2 0M1268.9 1526.3a5.1 5.1 0 1 0 10.2 0a5.1 5.1 0 1 0 -10.2 0M1275.3 1526.1a5.1 5.1 0 1 0 10.2 0a5.1 5.1 0 1 0 -10.2 0M1284.3 1528.5a5.1 5.1 0 1 0 10.2 0a5.1 5.1 0 1 0 -10.2 0M1289.3 1527.2a5.1 5.1 0 1 0 10.2 0a5.1 5.1 0 1 0 -10.2 0M1304.5 1527.5a5.1 5.1 0 1 0 10.2 0a5.1 5.1 0 1 0 -10.2 0M1311.7 1526.7a5.1 5.1 0 1 0 10.2 0a5.1 5.1 0 1 0 -10.2 0M1315.3 1527.1a5.1 5.1 0 1 0 10.2 0a5.1 5.1 0 1 0 -10.2 0M1322.3 1528.6a5.1 5.1 0 1 0 10.2 0a5.1 5.1 0 1 0 -10.2 0M1325.6 1527.4a5.1 5.1 0 1 0 10.2 0a5.1 5.1 0 1 0 -10.2 0M1337.6 1527.5a5.1 5.1 0 1 0 10.2 0a5.1 5.1 0 1 0 -10.2 0M1347.2 1528a5.1 5.1 0 1 0 10.2 0a5.1 5.1 0 1 0 -10.2 0M1262.7 1533a5.1 5.1 0 1 0 10.2 0a5.1 5.1 0 1 0 -10.2 0M1266.7 1532.6a5.1 5.1 0 1 0 10.2 0a5.1 5.1 0 1 0 -10.2 0M1284.2 1532.9a5.1 5.1 0 1 0 10.2 0a5.1 5.1 0 1 0 -10.2 0M1288.7 1532.9a5.1 5.1 0 1 0 10.2 0a5.1 5.1 0 1 0 -10.2 0M1293.2 1532.5a5.1 5.1 0 1 0 10.2 0a5.1 5.1 0 1 0 -10.2 0M1296.9 1531.3a5.1 5.1 0 1 0 10.2 0a5.1 5.1 0 1 0 -10.2 0M1304.7 1531.2a5.1 5.1 0 1 0 10.2 0a5.1 5.1 0 1 0 -10.2 0M1315.4 1530.6a5.1 5.1 0 1 0 10.2 0a5.1 5.1 0 1 0 -10.2 0M1325.7 1533a5.1 5.1 0 1 0 10.2 0a5.1 5.1 0 1 0 -10.2 0M1329.4 1530.7a5.1 5.1 0 1 0 10.2 0a5.1 5.1 0 1 0 -10.2 0M1336.1 1531.9a5.1 5.1 0 1 0 10.2 0a5.1 5.1 0 1 0 -10.2 0M1346.4 1533.1a5.1 5.1 0 1 0 10.2 0a5.1 5.1 0 1 0 -10.2 0M1259.3 1536.6a5.1 5.1 0 1 0 10.2 0a5.1 5.1 0 1 0 -10.2 0M1265.6 1536.4a5.1 5.1 0 1 0 10.2 0a5.1 5.1 0 1 0 -10.2 0M1275.1 1535.3a5.1 5.1 0 1 0 10.2 0a5.1 5.1 0 1 0 -10.2 0M1289.1 1535.9a5.1 5.1 0 1 0 10.2 0a5.1 5.1 0 1 0 -10.2 0M1302.4 1536.3a5.1 5.1 0 1 0 10.2 0a5.1 5.1 0 1 0 -10.2 0M1306.1 1535.3a5.1 5.1 0 1 0 10.2 0a5.1 5.1 0 1 0 -10.2 0M1310.7 1535.1a5.1 5.1 0 1 0 10.2 0a5.1 5.1 0 1 0 -10.2 0M1315.5 1535.1a5.1 5.1 0 1 0 10.2 0a5.1 5.1 0 1 0 -10.2 0M1321.6 1536.4a5.1 5.1 0 1 0 10.2 0a5.1 5.1 0 1 0 -10.2 0M1330.7 1537.3a5.1 5.1 0 1 0 10.2 0a5.1 5.1 0 1 0 -10.2 0M1337.9 1537.1a5.1 5.1 0 1 0 10.2 0a5.1 5.1 0 1 0 -10.2 0M1252.2 1541.8a5.1 5.1 0 1 0 10.2 0a5.1 5.1 0 1 0 -10.2 0M1257.5 1540.3a5.1 5.1 0 1 0 10.2 0a5.1 5.1 0 1 0 -10.2 0M1260.9 1541.4a5.1 5.1 0 1 0 10.2 0a5.1 5.1 0 1 0 -10.2 0M1268 1541.5a5.1 5.1 0 1 0 10.2 0a5.1 5.1 0 1 0 -10.2 0M1278.8 1539.8a5.1 5.1 0 1 0 10.2 0a5.1 5.1 0 1 0 -10.2 0M1288.4 1541a5.1 5.1 0 1 0 10.2 0a5.1 5.1 0 1 0 -10.2 0M1293.8 1540.4a5.1 5.1 0 1 0 10.2 0a5.1 5.1 0 1 0 -10.2 0M1298.4 1540.6a5.1 5.1 0 1 0 10.2 0a5.1 5.1 0 1 0 -10.2 0M1304.8 1539.7a5.1 5.1 0 1 0 10.2 0a5.1 5.1 0 1 0 -10.2 0M1309.3 1541.2a5.1 5.1 0 1 0 10.2 0a5.1 5.1 0 1 0 -10.2 0M1312.8 1540.7a5.1 5.1 0 1 0 10.2 0a5.1 5.1 0 1 0 -10.2 0M1323.6 1541.7a5.1 5.1 0 1 0 10.2 0a5.1 5.1 0 1 0 -10.2 0M1333.8 1541.7a5.1 5.1 0 1 0 10.2 0a5.1 5.1 0 1 0 -10.2 0M1340.8 1540.6a5.1 5.1 0 1 0 10.2 0a5.1 5.1 0 1 0 -10.2 0M1345.5 1541.1a5.1 5.1 0 1 0 10.2 0a5.1 5.1 0 1 0 -10.2 0M1349.8 1539.5a5.1 5.1 0 1 0 10.2 0a5.1 5.1 0 1 0 -10.2 0M1243.3 1546.6a5.1 5.1 0 1 0 10.2 0a5.1 5.1 0 1 0 -10.2 0M1248.8 1544.5a5.1 5.1 0 1 0 10.2 0a5.1 5.1 0 1 0 -10.2 0M1253.4 1544.9a5.1 5.1 0 1 0 10.2 0a5.1 5.1 0 1 0 -10.2 0M1263.2 1545.3a5.1 5.1 0 1 0 10.2 0a5.1 5.1 0 1 0 -10.2 0M1270.6 1546.4a5.1 5.1 0 1 0 10.2 0a5.1 5.1 0 1 0 -10.2 0M1280.1 1543.5a5.1 5.1 0 1 0 10.2 0a5.1 5.1 0 1 0 -10.2 0M1285.2 1543.9a5.1 5.1 0 1 0 10.2 0a5.1 5.1 0 1 0 -10.2 0M1300.1 1544a5.1 5.1 0 1 0 10.2 0a5.1 5.1 0 1 0 -10.2 0M1307 1546.2a5.1 5.1 0 1 0 10.2 0a5.1 5.1 0 1 0 -10.2 0M1323.1 1545a5.1 5.1 0 1 0 10.2 0a5.1 5.1 0 1 0 -10.2 0M1326.4 1546.1a5.1 5.1 0 1 0 10.2 0a5.1 5.1 0 1 0 -10.2 0M1331.2 1546.3a5.1 5.1 0 1 0 10.2 0a5.1 5.1 0 1 0 -10.2 0M1337.8 1545.4a5.1 5.1 0 1 0 10.2 0a5.1 5.1 0 1 0 -10.2 0M1342.7 1544.7a5.1 5.1 0 1 0 10.2 0a5.1 5.1 0 1 0 -10.2 0M1346.9 1545.8a5.1 5.1 0 1 0 10.2 0a5.1 5.1 0 1 0 -10.2 0M1251.1 1550.6a5.1 5.1 0 1 0 10.2 0a5.1 5.1 0 1 0 -10.2 0M1256.1 1549.4a5.1 5.1 0 1 0 10.2 0a5.1 5.1 0 1 0 -10.2 0M1260.4 1550.1a5.1 5.1 0 1 0 10.2 0a5.1 5.1 0 1 0 -10.2 0M1276.5 1550a5.1 5.1 0 1 0 10.2 0a5.1 5.1 0 1 0 -10.2 0M1282.1 1549.4a5.1 5.1 0 1 0 10.2 0a5.1 5.1 0 1 0 -10.2 0M1287.8 1549.5a5.1 5.1 0 1 0 10.2 0a5.1 5.1 0 1 0 -10.2 0M1304.6 1549.3a5.1 5.1 0 1 0 10.2 0a5.1 5.1 0 1 0 -10.2 0M1318.9 1548.6a5.1 5.1 0 1 0 10.2 0a5.1 5.1 0 1 0 -10.2 0M1323.2 1548.5a5.1 5.1 0 1 0 10.2 0a5.1 5.1 0 1 0 -10.2 0M1329.1 1550.2a5.1 5.1 0 1 0 10.2 0a5.1 5.1 0 1 0 -10.2 0M1339.6 1548.6a5.1 5.1 0 1 0 10.2 0a5.1 5.1 0 1 0 -10.2 0M1344.6 1549.2a5.1 5.1 0 1 0 10.2 0a5.1 5.1 0 1 0 -10.2 0M1237.3 1555.6a5.1 5.1 0 1 0 10.2 0a5.1 5.1 0 1 0 -10.2 0M1244.3 1555.1a5.1 5.1 0 1 0 10.2 0a5.1 5.1 0 1 0 -10.2 0M1255.6 1554a5.1 5.1 0 1 0 10.2 0a5.1 5.1 0 1 0 -10.2 0M1259.5 1553.4a5.1 5.1 0 1 0 10.2 0a5.1 5.1 0 1 0 -10.2 0M1265.9 1552.6a5.1 5.1 0 1 0 10.2 0a5.1 5.1 0 1 0 -10.2 0M1274.4 1553.1a5.1 5.1 0 1 0 10.2 0a5.1 5.1 0 1 0 -10.2 0M1279.7 1553.3a5.1 5.1 0 1 0 10.2 0a5.1 5.1 0 1 0 -10.2 0M1285.6 1555a5.1 5.1 0 1 0 10.2 0a5.1 5.1 0 1 0 -10.2 0M1290.8 1554.2a5.1 5.1 0 1 0 10.2 0a5.1 5.1 0 1 0 -10.2 0M1301 1553.6a5.1 5.1 0 1 0 10.2 0a5.1 5.1 0 1 0 -10.2 0M1305.6 1552.7a5.1 5.1 0 1 0 10.2 0a5.1 5.1 0 1 0 -10.2 0M1317.5 1554a5.1 5.1 0 1 0 10.2 0a5.1 5.1 0 1 0 -10.2 0M1325.5 1555.4a5.1 5.1 0 1 0 10.2 0a5.1 5.1 0 1 0 -10.2 0M1336.8 1553.5a5.1 5.1 0 1 0 10.2 0a5.1 5.1 0 1 0 -10.2 0M1342 1553.8a5.1 5.1 0 1 0 10.2 0a5.1 5.1 0 1 0 -10.2 0M1252.4 1557.5a5.1 5.1 0 1 0 10.2 0a5.1 5.1 0 1 0 -10.2 0M1258 1559.5a5.1 5.1 0 1 0 10.2 0a5.1 5.1 0 1 0 -10.2 0M1262.1 1557.1a5.1 5.1 0 1 0 10.2 0a5.1 5.1 0 1 0 -10.2 0M1271.8 1557.1a5.1 5.1 0 1 0 10.2 0a5.1 5.1 0 1 0 -10.2 0M1276.1 1559a5.1 5.1 0 1 0 10.2 0a5.1 5.1 0 1 0 -10.2 0M1281.2 1559.1a5.1 5.1 0 1 0 10.2 0a5.1 5.1 0 1 0 -10.2 0M1288.1 1558.3a5.1 5.1 0 1 0 10.2 0a5.1 5.1 0 1 0 -10.2 0M1291.7 1559.5a5.1 5.1 0 1 0 10.2 0a5.1 5.1 0 1 0 -10.2 0M1298.9 1559.7a5.1 5.1 0 1 0 10.2 0a5.1 5.1 0 1 0 -10.2 0M1315 1557.3a5.1 5.1 0 1 0 10.2 0a5.1 5.1 0 1 0 -10.2 0M1318.8 1557.3a5.1 5.1 0 1 0 10.2 0a5.1 5.1 0 1 0 -10.2 0M1232.3 1563.9a5.1 5.1 0 1 0 10.2 0a5.1 5.1 0 1 0 -10.2 0M1239.9 1562.1a5.1 5.1 0 1 0 10.2 0a5.1 5.1 0 1 0 -10.2 0M1249 1564.3a5.1 5.1 0 1 0 10.2 0a5.1 5.1 0 1 0 -10.2 0M1253.3 1563.3a5.1 5.1 0 1 0 10.2 0a5.1 5.1 0 1 0 -10.2 0M1271 1564a5.1 5.1 0 1 0 10.2 0a5.1 5.1 0 1 0 -10.2 0M1280.5 1564.4a5.1 5.1 0 1 0 10.2 0a5.1 5.1 0 1 0 -10.2 0M1284.3 1564.6a5.1 5.1 0 1 0 10.2 0a5.1 5.1 0 1 0 -10.2 0M1292 1562.6a5.1 5.1 0 1 0 10.2 0a5.1 5.1 0 1 0 -10.2 0M1295.5 1562.5a5.1 5.1 0 1 0 10.2 0a5.1 5.1 0 1 0 -10.2 0M1226.5 1567.4a5.1 5.1 0 1 0 10.2 0a5.1 5.1 0 1 0 -10.2 0M1235.2 1569a5.1 5.1 0 1 0 10.2 0a5.1 5.1 0 1 0 -10.2 0M1240.9 1568.1a5.1 5.1 0 1 0 10.2 0a5.1 5.1 0 1 0 -10.2 0M1252.1 1568.8a5.1 5.1 0 1 0 10.2 0a5.1 5.1 0 1 0 -10.2 0M1263.1 1568a5.1 5.1 0 1 0 10.2 0a5.1 5.1 0 1 0 -10.2 0M1266.8 1568.7a5.1 5.1 0 1 0 10.2 0a5.1 5.1 0 1 0 -10.2 0M1287 1568.7a5.1 5.1 0 1 0 10.2 0a5.1 5.1 0 1 0 -10.2 0M1298.1 1568.9a5.1 5.1 0 1 0 10.2 0a5.1 5.1 0 1 0 -10.2 0M1304.2 1568a5.1 5.1 0 1 0 10.2 0a5.1 5.1 0 1 0 -10.2 0M1308.6 1566.7a5.1 5.1 0 1 0 10.2 0a5.1 5.1 0 1 0 -10.2 0M1315.3 1567.4a5.1 5.1 0 1 0 10.2 0a5.1 5.1 0 1 0 -10.2 0M1319.6 1566.3a5.1 5.1 0 1 0 10.2 0a5.1 5.1 0 1 0 -10.2 0M1227 1572.3a5.1 5.1 0 1 0 10.2 0a5.1 5.1 0 1 0 -10.2 0M1231.8 1572.5a5.1 5.1 0 1 0 10.2 0a5.1 5.1 0 1 0 -10.2 0M1237.1 1573.1a5.1 5.1 0 1 0 10.2 0a5.1 5.1 0 1 0 -10.2 0M1245.2 1573.6a5.1 5.1 0 1 0 10.2 0a5.1 5.1 0 1 0 -10.2 0M1253.3 1573.3a5.1 5.1 0 1 0 10.2 0a5.1 5.1 0 1 0 -10.2 0M1259.9 1572.7a5.1 5.1 0 1 0 10.2 0a5.1 5.1 0 1 0 -10.2 0M1263.1 1573.4a5.1 5.1 0 1 0 10.2 0a5.1 5.1 0 1 0 -10.2 0M1274.2 1572a5.1 5.1 0 1 0 10.2 0a5.1 5.1 0 1 0 -10.2 0M1280.7 1570.9a5.1 5.1 0 1 0 10.2 0a5.1 5.1 0 1 0 -10.2 0M1291.3 1573a5.1 5.1 0 1 0 10.2 0a5.1 5.1 0 1 0 -10.2 0M1294.8 1573.6a5.1 5.1 0 1 0 10.2 0a5.1 5.1 0 1 0 -10.2 0M1301.9 1571.9a5.1 5.1 0 1 0 10.2 0a5.1 5.1 0 1 0 -10.2 0M1306.4 1571.2a5.1 5.1 0 1 0 10.2 0a5.1 5.1 0 1 0 -10.2 0M1311.9 1570.8a5.1 5.1 0 1 0 10.2 0a5.1 5.1 0 1 0 -10.2 0M1317.1 1570.8a5.1 5.1 0 1 0 10.2 0a5.1 5.1 0 1 0 -10.2 0M1221.4 1575.3a5.1 5.1 0 1 0 10.2 0a5.1 5.1 0 1 0 -10.2 0M1226.2 1575.7a5.1 5.1 0 1 0 10.2 0a5.1 5.1 0 1 0 -10.2 0M1236.1 1576.9a5.1 5.1 0 1 0 10.2 0a5.1 5.1 0 1 0 -10.2 0M1240.3 1576.8a5.1 5.1 0 1 0 10.2 0a5.1 5.1 0 1 0 -10.2 0M1256.4 1576.7a5.1 5.1 0 1 0 10.2 0a5.1 5.1 0 1 0 -10.2 0M1272.8 1575.3a5.1 5.1 0 1 0 10.2 0a5.1 5.1 0 1 0 -10.2 0M1277.9 1576.7a5.1 5.1 0 1 0 10.2 0a5.1 5.1 0 1 0 -10.2 0M1282.2 1577.6a5.1 5.1 0 1 0 10.2 0a5.1 5.1 0 1 0 -10.2 0M1288.1 1577.8a5.1 5.1 0 1 0 10.2 0a5.1 5.1 0 1 0 -10.2 0M1303.3 1576.4a5.1 5.1 0 1 0 10.2 0a5.1 5.1 0 1 0 -10.2 0M1308.3 1576.8a5.1 5.1 0 1 0 10.2 0a5.1 5.1 0 1 0 -10.2 0M1312.6 1575.6a5.1 5.1 0 1 0 10.2 0a5.1 5.1 0 1 0 -10.2 0M1227.5 1580.7a5.1 5.1 0 1 0 10.2 0a5.1 5.1 0 1 0 -10.2 0M1232.2 1580.5a5.1 5.1 0 1 0 10.2 0a5.1 5.1 0 1 0 -10.2 0M1238.1 1579.9a5.1 5.1 0 1 0 10.2 0a5.1 5.1 0 1 0 -10.2 0M1244.6 1579.6a5.1 5.1 0 1 0 10.2 0a5.1 5.1 0 1 0 -10.2 0M1248.3 1580a5.1 5.1 0 1 0 10.2 0a5.1 5.1 0 1 0 -10.2 0M1253 1582.4a5.1 5.1 0 1 0 10.2 0a5.1 5.1 0 1 0 -10.2 0M1270.9 1582.4a5.1 5.1 0 1 0 10.2 0a5.1 5.1 0 1 0 -10.2 0M1281.4 1580.7a5.1 5.1 0 1 0 10.2 0a5.1 5.1 0 1 0 -10.2 0M1289.2 1582.4a5.1 5.1 0 1 0 10.2 0a5.1 5.1 0 1 0 -10.2 0M1295.5 1579.9a5.1 5.1 0 1 0 10.2 0a5.1 5.1 0 1 0 -10.2 0M1301.4 1582.4a5.1 5.1 0 1 0 10.2 0a5.1 5.1 0 1 0 -10.2 0M1304.5 1581.7a5.1 5.1 0 1 0 10.2 0a5.1 5.1 0 1 0 -10.2 0M1310.3 1580.8a5.1 5.1 0 1 0 10.2 0a5.1 5.1 0 1 0 -10.2 0M1316.3 1580.2a5.1 5.1 0 1 0 10.2 0a5.1 5.1 0 1 0 -10.2 0M1216.6 1587.1a5.1 5.1 0 1 0 10.2 0a5.1 5.1 0 1 0 -10.2 0M1220.4 1586.1a5.1 5.1 0 1 0 10.2 0a5.1 5.1 0 1 0 -10.2 0M1230.3 1586.8a5.1 5.1 0 1 0 10.2 0a5.1 5.1 0 1 0 -10.2 0M1235.9 1584a5.1 5.1 0 1 0 10.2 0a5.1 5.1 0 1 0 -10.2 0M1240.9 1585.9a5.1 5.1 0 1 0 10.2 0a5.1 5.1 0 1 0 -10.2 0M1246.8 1586.3a5.1 5.1 0 1 0 10.2 0a5.1 5.1 0 1 0 -10.2 0M1255.7 1586.5a5.1 5.1 0 1 0 10.2 0a5.1 5.1 0 1 0 -10.2 0M1260.9 1584.1a5.1 5.1 0 1 0 10.2 0a5.1 5.1 0 1 0 -10.2 0M1265.9 1585.7a5.1 5.1 0 1 0 10.2 0a5.1 5.1 0 1 0 -10.2 0M1277.4 1585.5a5.1 5.1 0 1 0 10.2 0a5.1 5.1 0 1 0 -10.2 0M1293.9 1586.2a5.1 5.1 0 1 0 10.2 0a5.1 5.1 0 1 0 -10.2 0M1298.7 1586.9a5.1 5.1 0 1 0 10.2 0a5.1 5.1 0 1 0 -10.2 0M1303.6 1585.6a5.1 5.1 0 1 0 10.2 0a5.1 5.1 0 1 0 -10.2 0M1237.2 1591.2a5.1 5.1 0 1 0 10.2 0a5.1 5.1 0 1 0 -10.2 0M1250 1591.2a5.1 5.1 0 1 0 10.2 0a5.1 5.1 0 1 0 -10.2 0M1258.7 1591a5.1 5.1 0 1 0 10.2 0a5.1 5.1 0 1 0 -10.2 0M1263.3 1591.1a5.1 5.1 0 1 0 10.2 0a5.1 5.1 0 1 0 -10.2 0M1271 1590.9a5.1 5.1 0 1 0 10.2 0a5.1 5.1 0 1 0 -10.2 0M1274.3 1589.2a5.1 5.1 0 1 0 10.2 0a5.1 5.1 0 1 0 -10.2 0M1278.8 1590.3a5.1 5.1 0 1 0 10.2 0a5.1 5.1 0 1 0 -10.2 0M1289.5 1590.1a5.1 5.1 0 1 0 10.2 0a5.1 5.1 0 1 0 -10.2 0M1296 1591.3a5.1 5.1 0 1 0 10.2 0a5.1 5.1 0 1 0 -10.2 0M1301.8 1588.8a5.1 5.1 0 1 0 10.2 0a5.1 5.1 0 1 0 -10.2 0M1215.7 1596a5.1 5.1 0 1 0 10.2 0a5.1 5.1 0 1 0 -10.2 0M1220.6 1594.8a5.1 5.1 0 1 0 10.2 0a5.1 5.1 0 1 0 -10.2 0M1226.6 1595.2a5.1 5.1 0 1 0 10.2 0a5.1 5.1 0 1 0 -10.2 0M1235.5 1595.2a5.1 5.1 0 1 0 10.2 0a5.1 5.1 0 1 0 -10.2 0M1242.4 1593a5.1 5.1 0 1 0 10.2 0a5.1 5.1 0 1 0 -10.2 0M1249.9 1595a5.1 5.1 0 1 0 10.2 0a5.1 5.1 0 1 0 -10.2 0M1256.7 1596.1a5.1 5.1 0 1 0 10.2 0a5.1 5.1 0 1 0 -10.2 0M1266.4 1594a5.1 5.1 0 1 0 10.2 0a5.1 5.1 0 1 0 -10.2 0M1273.3 1595.7a5.1 5.1 0 1 0 10.2 0a5.1 5.1 0 1 0 -10.2 0M1278.3 1593.7a5.1 5.1 0 1 0 10.2 0a5.1 5.1 0 1 0 -10.2 0M1283.5 1593.6a5.1 5.1 0 1 0 10.2 0a5.1 5.1 0 1 0 -10.2 0M1288.9 1593.5a5.1 5.1 0 1 0 10.2 0a5.1 5.1 0 1 0 -10.2 0M1302.8 1593.1a5.1 5.1 0 1 0 10.2 0a5.1 5.1 0 1 0 -10.2 0M1212.6 1598.7a5.1 5.1 0 1 0 10.2 0a5.1 5.1 0 1 0 -10.2 0M1222.1 1599.6a5.1 5.1 0 1 0 10.2 0a5.1 5.1 0 1 0 -10.2 0M1240 1598.2a5.1 5.1 0 1 0 10.2 0a5.1 5.1 0 1 0 -10.2 0M1249.5 1599.8a5.1 5.1 0 1 0 10.2 0a5.1 5.1 0 1 0 -10.2 0M1253.1 1600.1a5.1 5.1 0 1 0 10.2 0a5.1 5.1 0 1 0 -10.2 0M1260.5 1599.2a5.1 5.1 0 1 0 10.2 0a5.1 5.1 0 1 0 -10.2 0M1264.2 1599.5a5.1 5.1 0 1 0 10.2 0a5.1 5.1 0 1 0 -10.2 0M1268.8 1599.7a5.1 5.1 0 1 0 10.2 0a5.1 5.1 0 1 0 -10.2 0M1278.6 1600.2a5.1 5.1 0 1 0 10.2 0a5.1 5.1 0 1 0 -10.2 0M1286.2 1599.2a5.1 5.1 0 1 0 10.2 0a5.1 5.1 0 1 0 -10.2 0M1290.3 1597.7a5.1 5.1 0 1 0 10.2 0a5.1 5.1 0 1 0 -10.2 0M1294.4 1597.6a5.1 5.1 0 1 0 10.2 0a5.1 5.1 0 1 0 -10.2 0M1300.2 1599.2a5.1 5.1 0 1 0 10.2 0a5.1 5.1 0 1 0 -10.2 0M1210.9 1605a5.1 5.1 0 1 0 10.2 0a5.1 5.1 0 1 0 -10.2 0M1215.8 1604.6a5.1 5.1 0 1 0 10.2 0a5.1 5.1 0 1 0 -10.2 0M1221.1 1604.5a5.1 5.1 0 1 0 10.2 0a5.1 5.1 0 1 0 -10.2 0M1232.2 1605a5.1 5.1 0 1 0 10.2 0a5.1 5.1 0 1 0 -10.2 0M1237 1604.5a5.1 5.1 0 1 0 10.2 0a5.1 5.1 0 1 0 -10.2 0M1240.3 1602.3a5.1 5.1 0 1 0 10.2 0a5.1 5.1 0 1 0 -10.2 0M1245.7 1604.8a5.1 5.1 0 1 0 10.2 0a5.1 5.1 0 1 0 -10.2 0M1250.7 1603.8a5.1 5.1 0 1 0 10.2 0a5.1 5.1 0 1 0 -10.2 0M1255.7 1603.9a5.1 5.1 0 1 0 10.2 0a5.1 5.1 0 1 0 -10.2 0M1262.7 1603.5a5.1 5.1 0 1 0 10.2 0a5.1 5.1 0 1 0 -10.2 0M1272.2 1604.5a5.1 5.1 0 1 0 10.2 0a5.1 5.1 0 1 0 -10.2 0M1283.8 1604.9a5.1 5.1 0 1 0 10.2 0a5.1 5.1 0 1 0 -10.2 0M1289.4 1603.3a5.1 5.1 0 1 0 10.2 0a5.1 5.1 0 1 0 -10.2 0M1218.8 1609a5.1 5.1 0 1 0 10.2 0a5.1 5.1 0 1 0 -10.2 0M1224.3 1607.9a5.1 5.1 0 1 0 10.2 0a5.1 5.1 0 1 0 -10.2 0M1228.1 1608.5a5.1 5.1 0 1 0 10.2 0a5.1 5.1 0 1 0 -10.2 0M1234.3 1608.3a5.1 5.1 0 1 0 10.2 0a5.1 5.1 0 1 0 -10.2 0M1242.1 1607.5a5.1 5.1 0 1 0 10.2 0a5.1 5.1 0 1 0 -10.2 0M1249.8 1608.5a5.1 5.1 0 1 0 10.2 0a5.1 5.1 0 1 0 -10.2 0M1253.3 1607.9a5.1 5.1 0 1 0 10.2 0a5.1 5.1 0 1 0 -10.2 0M1259 1608.1a5.1 5.1 0 1 0 10.2 0a5.1 5.1 0 1 0 -10.2 0M1265.9 1607.6a5.1 5.1 0 1 0 10.2 0a5.1 5.1 0 1 0 -10.2 0M1275.6 1606.5a5.1 5.1 0 1 0 10.2 0a5.1 5.1 0 1 0 -10.2 0M1280.4 1607.7a5.1 5.1 0 1 0 10.2 0a5.1 5.1 0 1 0 -10.2 0M1284.7 1609.3a5.1 5.1 0 1 0 10.2 0a5.1 5.1 0 1 0 -10.2 0M1290.9 1609.2a5.1 5.1 0 1 0 10.2 0a5.1 5.1 0 1 0 -10.2 0M1294.8 1606.8a5.1 5.1 0 1 0 10.2 0a5.1 5.1 0 1 0 -10.2 0M1214.3 1611.2a5.1 5.1 0 1 0 10.2 0a5.1 5.1 0 1 0 -10.2 0M1220.5 1613.4a5.1 5.1 0 1 0 10.2 0a5.1 5.1 0 1 0 -10.2 0M1226.6 1613.6a5.1 5.1 0 1 0 10.2 0a5.1 5.1 0 1 0 -10.2 0M1235.3 1613.4a5.1 5.1 0 1 0 10.2 0a5.1 5.1 0 1 0 -10.2 0M1255.7 1611.6a5.1 5.1 0 1 0 10.2 0a5.1 5.1 0 1 0 -10.2 0M1263.4 1613.3a5.1 5.1 0 1 0 10.2 0a5.1 5.1 0 1 0 -10.2 0M1267.1 1613.1a5.1 5.1 0 1 0 10.2 0a5.1 5.1 0 1 0 -10.2 0M1277.3 1612.7a5.1 5.1 0 1 0 10.2 0a5.1 5.1 0 1 0 -10.2 0M1213.3 1617.2a5.1 5.1 0 1 0 10.2 0a5.1 5.1 0 1 0 -10.2 0M1217.4 1616.2a5.1 5.1 0 1 0 10.2 0a5.1 5.1 0 1 0 -10.2 0M1221.9 1617.9a5.1 5.1 0 1 0 10.2 0a5.1 5.1 0 1 0 -10.2 0M1228.9 1617a5.1 5.1 0 1 0 10.2 0a5.1 5.1 0 1 0 -10.2 0M1234.5 1618.5a5.1 5.1 0 1 0 10.2 0a5.1 5.1 0 1 0 -10.2 0M1237.9 1617.1a5.1 5.1 0 1 0 10.2 0a5.1 5.1 0 1 0 -10.2 0M1243.7 1617.2a5.1 5.1 0 1 0 10.2 0a5.1 5.1 0 1 0 -10.2 0M1247.9 1618.5a5.1 5.1 0 1 0 10.2 0a5.1 5.1 0 1 0 -10.2 0M1254.1 1616.8a5.1 5.1 0 1 0 10.2 0a5.1 5.1 0 1 0 -10.2 0M1259.1 1616.2a5.1 5.1 0 1 0 10.2 0a5.1 5.1 0 1 0 -10.2 0M1276.2 1617.5a5.1 5.1 0 1 0 10.2 0a5.1 5.1 0 1 0 -10.2 0M1280.7 1617.9a5.1 5.1 0 1 0 10.2 0a5.1 5.1 0 1 0 -10.2 0M1285.5 1615.8a5.1 5.1 0 1 0 10.2 0a5.1 5.1 0 1 0 -10.2 0M1289.2 1617.1a5.1 5.1 0 1 0 10.2 0a5.1 5.1 0 1 0 -10.2 0M1211 1623.1a5.1 5.1 0 1 0 10.2 0a5.1 5.1 0 1 0 -10.2 0M1224.7 1622.6a5.1 5.1 0 1 0 10.2 0a5.1 5.1 0 1 0 -10.2 0M1231.2 1620.4a5.1 5.1 0 1 0 10.2 0a5.1 5.1 0 1 0 -10.2 0M1240.4 1622.7a5.1 5.1 0 1 0 10.2 0a5.1 5.1 0 1 0 -10.2 0M1244.8 1622.8a5.1 5.1 0 1 0 10.2 0a5.1 5.1 0 1 0 -10.2 0M1250.9 1622.4a5.1 5.1 0 1 0 10.2 0a5.1 5.1 0 1 0 -10.2 0M1256.5 1622.6a5.1 5.1 0 1 0 10.2 0a5.1 5.1 0 1 0 -10.2 0M1219 1625.8a5.1 5.1 0 1 0 10.2 0a5.1 5.1 0 1 0 -10.2 0M1222.5 1626.1a5.1 5.1 0 1 0 10.2 0a5.1 5.1 0 1 0 -10.2 0M1229.3 1626.1a5.1 5.1 0 1 0 10.2 0a5.1 5.1 0 1 0 -10.2 0M1237.7 1626.3a5.1 5.1 0 1 0 10.2 0a5.1 5.1 0 1 0 -10.2 0M1245 1627.2a5.1 5.1 0 1 0 10.2 0a5.1 5.1 0 1 0 -10.2 0M1255.3 1627a5.1 5.1 0 1 0 10.2 0a5.1 5.1 0 1 0 -10.2 0M1208.4 1629.2a5.1 5.1 0 1 0 10.2 0a5.1 5.1 0 1 0 -10.2 0M1214.9 1631.5a5.1 5.1 0 1 0 10.2 0a5.1 5.1 0 1 0 -10.2 0M1219.2 1632.2a5.1 5.1 0 1 0 10.2 0a5.1 5.1 0 1 0 -10.2 0M1229.3 1631.9a5.1 5.1 0 1 0 10.2 0a5.1 5.1 0 1 0 -10.2 0M1234.3 1631.5a5.1 5.1 0 1 0 10.2 0a5.1 5.1 0 1 0 -10.2 0M1245.6 1631.3a5.1 5.1 0 1 0 10.2 0a5.1 5.1 0 1 0 -10.2 0M1250.4 1629.6a5.1 5.1 0 1 0 10.2 0a5.1 5.1 0 1 0 -10.2 0M1207.6 1636.4a5.1 5.1 0 1 0 10.2 0a5.1 5.1 0 1 0 -10.2 0M1213.3 1636.6a5.1 5.1 0 1 0 10.2 0a5.1 5.1 0 1 0 -10.2 0M1224.3 1634.8a5.1 5.1 0 1 0 10.2 0a5.1 5.1 0 1 0 -10.2 0M1232.3 1636.1a5.1 5.1 0 1 0 10.2 0a5.1 5.1 0 1 0 -10.2 0M1237.6 1636.6a5.1 5.1 0 1 0 10.2 0a5.1 5.1 0 1 0 -10.2 0M1243.6 1635.3a5.1 5.1 0 1 0 10.2 0a5.1 5.1 0 1 0 -10.2 0M1249.8 1636.2a5.1 5.1 0 1 0 10.2 0a5.1 5.1 0 1 0 -10.2 0M1205.8 1640.4a5.1 5.1 0 1 0 10.2 0a5.1 5.1 0 1 0 -10.2 0M1225.8 1640.2a5.1 5.1 0 1 0 10.2 0a5.1 5.1 0 1 0 -10.2 0M1230.4 1640.5a5.1 5.1 0 1 0 10.2 0a5.1 5.1 0 1 0 -10.2 0M1236 1641a5.1 5.1 0 1 0 10.2 0a5.1 5.1 0 1 0 -10.2 0M1240.9 1640.5a5.1 5.1 0 1 0 10.2 0a5.1 5.1 0 1 0 -10.2 0M1247.4 1640a5.1 5.1 0 1 0 10.2 0a5.1 5.1 0 1 0 -10.2 0M1196 1644.3a5.1 5.1 0 1 0 10.2 0a5.1 5.1 0 1 0 -10.2 0M1201 1644a5.1 5.1 0 1 0 10.2 0a5.1 5.1 0 1 0 -10.2 0M1207.4 1645.5a5.1 5.1 0 1 0 10.2 0a5.1 5.1 0 1 0 -10.2 0M1213.3 1642.9a5.1 5.1 0 1 0 10.2 0a5.1 5.1 0 1 0 -10.2 0M1217.4 1645a5.1 5.1 0 1 0 10.2 0a5.1 5.1 0 1 0 -10.2 0M1222.6 1644.8a5.1 5.1 0 1 0 10.2 0a5.1 5.1 0 1 0 -10.2 0M1229.3 1645.2a5.1 5.1 0 1 0 10.2 0a5.1 5.1 0 1 0 -10.2 0M1243.3 1644.3a5.1 5.1 0 1 0 10.2 0a5.1 5.1 0 1 0 -10.2 0M1248.7 1643.2a5.1 5.1 0 1 0 10.2 0a5.1 5.1 0 1 0 -10.2 0M1192.8 1649.4a5.1 5.1 0 1 0 10.2 0a5.1 5.1 0 1 0 -10.2 0M1200.5 1650.1a5.1 5.1 0 1 0 10.2 0a5.1 5.1 0 1 0 -10.2 0M1204 1647.2a5.1 5.1 0 1 0 10.2 0a5.1 5.1 0 1 0 -10.2 0M1211.4 1649.1a5.1 5.1 0 1 0 10.2 0a5.1 5.1 0 1 0 -10.2 0M1221.3 1648.1a5.1 5.1 0 1 0 10.2 0a5.1 5.1 0 1 0 -10.2 0M1224.6 1648.5a5.1 5.1 0 1 0 10.2 0a5.1 5.1 0 1 0 -10.2 0M1234.4 1648.2a5.1 5.1 0 1 0 10.2 0a5.1 5.1 0 1 0 -10.2 0M1242.4 1649.9a5.1 5.1 0 1 0 10.2 0a5.1 5.1 0 1 0 -10.2 0M1247.3 1647.4a5.1 5.1 0 1 0 10.2 0a5.1 5.1 0 1 0 -10.2 0M1250.4 1649.9a5.1 5.1 0 1 0 10.2 0a5.1 5.1 0 1 0 -10.2 0M1195.4 1653a5.1 5.1 0 1 0 10.2 0a5.1 5.1 0 1 0 -10.2 0M1200.5 1654.7a5.1 5.1 0 1 0 10.2 0a5.1 5.1 0 1 0 -10.2 0M1208.2 1652.7a5.1 5.1 0 1 0 10.2 0a5.1 5.1 0 1 0 -10.2 0M1211.2 1652.7a5.1 5.1 0 1 0 10.2 0a5.1 5.1 0 1 0 -10.2 0M1218.9 1653a5.1 5.1 0 1 0 10.2 0a5.1 5.1 0 1 0 -10.2 0M1224 1653.1a5.1 5.1 0 1 0 10.2 0a5.1 5.1 0 1 0 -10.2 0M1232.6 1654.4a5.1 5.1 0 1 0 10.2 0a5.1 5.1 0 1 0 -10.2 0M1237.8 1652.6a5.1 5.1 0 1 0 10.2 0a5.1 5.1 0 1 0 -10.2 0M1243 1653.8a5.1 5.1 0 1 0 10.2 0a5.1 5.1 0 1 0 -10.2 0M1194.1 1659a5.1 5.1 0 1 0 10.2 0a5.1 5.1 0 1 0 -10.2 0M1204.9 1656.4a5.1 5.1 0 1 0 10.2 0a5.1 5.1 0 1 0 -10.2 0M1208.5 1656.2a5.1 5.1 0 1 0 10.2 0a5.1 5.1 0 1 0 -10.2 0M1215.8 1658.1a5.1 5.1 0 1 0 10.2 0a5.1 5.1 0 1 0 -10.2 0M1219.4 1657.3a5.1 5.1 0 1 0 10.2 0a5.1 5.1 0 1 0 -10.2 0M1225.4 1656.2a5.1 5.1 0 1 0 10.2 0a5.1 5.1 0 1 0 -10.2 0M1236.9 1658.1a5.1 5.1 0 1 0 10.2 0a5.1 5.1 0 1 0 -10.2 0M1240.7 1658.5a5.1 5.1 0 1 0 10.2 0a5.1 5.1 0 1 0 -10.2 0M1247.6 1657.5a5.1 5.1 0 1 0 10.2 0a5.1 5.1 0 1 0 -10.2 0M1201.8 1662.6a5.1 5.1 0 1 0 10.2 0a5.1 5.1 0 1 0 -10.2 0M1207.6 1661.8a5.1 5.1 0 1 0 10.2 0a5.1 5.1 0 1 0 -10.2 0M1213.2 1662.5a5.1 5.1 0 1 0 10.2 0a5.1 5.1 0 1 0 -10.2 0M1222.4 1661.3a5.1 5.1 0 1 0 10.2 0a5.1 5.1 0 1 0 -10.2 0M1227.1 1662.8a5.1 5.1 0 1 0 10.2 0a5.1 5.1 0 1 0 -10.2 0M1244 1661.1a5.1 5.1 0 1 0 10.2 0a5.1 5.1 0 1 0 -10.2 0M1199.8 1666.9a5.1 5.1 0 1 0 10.2 0a5.1 5.1 0 1 0 -10.2 0M1204.1 1666.8a5.1 5.1 0 1 0 10.2 0a5.1 5.1 0 1 0 -10.2 0M1210 1665.2a5.1 5.1 0 1 0 10.2 0a5.1 5.1 0 1 0 -10.2 0M1215.9 1666.6a5.1 5.1 0 1 0 10.2 0a5.1 5.1 0 1 0 -10.2 0M1221.6 1665.5a5.1 5.1 0 1 0 10.2 0a5.1 5.1 0 1 0 -10.2 0M1439.5 1349.7a5.1 5.1 0 1 0 10.2 0a5.1 5.1 0 1 0 -10.2 0M1411.3 1354.2a5.1 5.1 0 1 0 10.2 0a5.1 5.1 0 1 0 -10.2 0M1392.9 1366.4a5.1 5.1 0 1 0 10.2 0a5.1 5.1 0 1 0 -10.2 0M1411.3 1373.5a5.1 5.1 0 1 0 10.2 0a5.1 5.1 0 1 0 -10.2 0M1358.6 1372.5a5.1 5.1 0 1 0 10.2 0a5.1 5.1 0 1 0 -10.2 0M1364.4 1379.6a5.1 5.1 0 1 0 10.2 0a5.1 5.1 0 1 0 -10.2 0M1352.2 1384.1a5.1 5.1 0 1 0 10.2 0a5.1 5.1 0 1 0 -10.2 0M1409.7 1385.7a5.1 5.1 0 1 0 10.2 0a5.1 5.1 0 1 0 -10.2 0M1397.1 1395.4a5.1 5.1 0 1 0 10.2 0a5.1 5.1 0 1 0 -10.2 0M1314 1392.7a5.1 5.1 0 1 0 10.2 0a5.1 5.1 0 1 0 -10.2 0M1318 1405.2a5.1 5.1 0 1 0 10.2 0a5.1 5.1 0 1 0 -10.2 0M1408.1 1408.8a5.1 5.1 0 1 0 10.2 0a5.1 5.1 0 1 0 -10.2 0M1360.2 1412.3a5.1 5.1 0 1 0 10.2 0a5.1 5.1 0 1 0 -10.2 0M1324 1414.6a5.1 5.1 0 1 0 10.2 0a5.1 5.1 0 1 0 -10.2 0M1333 1417.4a5.1 5.1 0 1 0 10.2 0a5.1 5.1 0 1 0 -10.2 0M1338.8 1418.1a5.1 5.1 0 1 0 10.2 0a5.1 5.1 0 1 0 -10.2 0M1350.7 1420.6a5.1 5.1 0 1 0 10.2 0a5.1 5.1 0 1 0 -10.2 0M1292.3 1423a5.1 5.1 0 1 0 10.2 0a5.1 5.1 0 1 0 -10.2 0M1333 1426.4a5.1 5.1 0 1 0 10.2 0a5.1 5.1 0 1 0 -10.2 0M1331 1432.8a5.1 5.1 0 1 0 10.2 0a5.1 5.1 0 1 0 -10.2 0M1343.2 1430.9a5.1 5.1 0 1 0 10.2 0a5.1 5.1 0 1 0 -10.2 0M1340.7 1439.3a5.1 5.1 0 1 0 10.2 0a5.1 5.1 0 1 0 -10.2 0M1367.4 1432.2a5.1 5.1 0 1 0 10.2 0a5.1 5.1 0 1 0 -10.2 0M1379.8 1431.6a5.1 5.1 0 1 0 10.2 0a5.1 5.1 0 1 0 -10.2 0M1391.4 1434.1a5.1 5.1 0 1 0 10.2 0a5.1 5.1 0 1 0 -10.2 0M1395.9 1439.3a5.1 5.1 0 1 0 10.2 0a5.1 5.1 0 1 0 -10.2 0M1428.6 1434.8a5.1 5.1 0 1 0 10.2 0a5.1 5.1 0 1 0 -10.2 0M1427.9 1441.8a5.1 5.1 0 1 0 10.2 0a5.1 5.1 0 1 0 -10.2 0M1320.1 1441.8a5.1 5.1 0 1 0 10.2 0a5.1 5.1 0 1 0 -10.2 0M1331.7 1445a5.1 5.1 0 1 0 10.2 0a5.1 5.1 0 1 0 -10.2 0M1321.4 1450.2a5.1 5.1 0 1 0 10.2 0a5.1 5.1 0 1 0 -10.2 0M1313.7 1452.7a5.1 5.1 0 1 0 10.2 0a5.1 5.1 0 1 0 -10.2 0M1361.2 1441.2a5.1 5.1 0 1 0 10.2 0a5.1 5.1 0 1 0 -10.2 0M1372.8 1439.9a5.1 5.1 0 1 0 10.2 0a5.1 5.1 0 1 0 -10.2 0M1353.5 1445a5.1 5.1 0 1 0 10.2 0a5.1 5.1 0 1 0 -10.2 0M1368.9 1450.2a5.1 5.1 0 1 0 10.2 0a5.1 5.1 0 1 0 -10.2 0M1379.2 1452.7a5.1 5.1 0 1 0 10.2 0a5.1 5.1 0 1 0 -10.2 0M1374 1445a5.1 5.1 0 1 0 10.2 0a5.1 5.1 0 1 0 -10.2 0M1297 1452.7a5.1 5.1 0 1 0 10.2 0a5.1 5.1 0 1 0 -10.2 0M1304.7 1464.9a5.1 5.1 0 1 0 10.2 0a5.1 5.1 0 1 0 -10.2 0M1316.9 1463a5.1 5.1 0 1 0 10.2 0a5.1 5.1 0 1 0 -10.2 0M1312.4 1456.6a5.1 5.1 0 1 0 10.2 0a5.1 5.1 0 1 0 -10.2 0M1269.7 1465.9a5.1 5.1 0 1 0 10.2 0a5.1 5.1 0 1 0 -10.2 0M1276.8 1473a5.1 5.1 0 1 0 10.2 0a5.1 5.1 0 1 0 -10.2 0M1419.3 1466.8a5.1 5.1 0 1 0 10.2 0a5.1 5.1 0 1 0 -10.2 0M1379.2 1463a5.1 5.1 0 1 0 10.2 0a5.1 5.1 0 1 0 -10.2 0M1383 1468.8a5.1 5.1 0 1 0 10.2 0a5.1 5.1 0 1 0 -10.2 0M1402.9 1470.1a5.1 5.1 0 1 0 10.2 0a5.1 5.1 0 1 0 -10.2 0M1405.5 1479a5.1 5.1 0 1 0 10.2 0a5.1 5.1 0 1 0 -10.2 0M1414.9 1488.7a5.1 5.1 0 1 0 10.2 0a5.1 5.1 0 1 0 -10.2 0M1381.5 1480.7a5.1 5.1 0 1 0 10.2 0a5.1 5.1 0 1 0 -10.2 0M1258.9 1483.5a5.1 5.1 0 1 0 10.2 0a5.1 5.1 0 1 0 -10.2 0M1291.9 1480.3a5.1 5.1 0 1 0 10.2 0a5.1 5.1 0 1 0 -10.2 0M1284.8 1484.2a5.1 5.1 0 1 0 10.2 0a5.1 5.1 0 1 0 -10.2 0M1289.3 1488a5.1 5.1 0 1 0 10.2 0a5.1 5.1 0 1 0 -10.2 0M1304.7 1474.5a5.1 5.1 0 1 0 10.2 0a5.1 5.1 0 1 0 -10.2 0M1304.7 1479.7a5.1 5.1 0 1 0 10.2 0a5.1 5.1 0 1 0 -10.2 0M1299.6 1488.7a5.1 5.1 0 1 0 10.2 0a5.1 5.1 0 1 0 -10.2 0M1275.2 1491.2a5.1 5.1 0 1 0 10.2 0a5.1 5.1 0 1 0 -10.2 0M1272.7 1496.4a5.1 5.1 0 1 0 10.2 0a5.1 5.1 0 1 0 -10.2 0M1275.2 1507.9a5.1 5.1 0 1 0 10.2 0a5.1 5.1 0 1 0 -10.2 0M1388.8 1497.6a5.1 5.1 0 1 0 10.2 0a5.1 5.1 0 1 0 -10.2 0M1381.7 1500.9a5.1 5.1 0 1 0 10.2 0a5.1 5.1 0 1 0 -10.2 0M1402.3 1513.4a5.1 5.1 0 1 0 10.2 0a5.1 5.1 0 1 0 -10.2 0M1399.7 1522.3a5.1 5.1 0 1 0 10.2 0a5.1 5.1 0 1 0 -10.2 0M1387.5 1515.6a5.1 5.1 0 1 0 10.2 0a5.1 5.1 0 1 0 -10.2 0M1383 1520.1a5.1 5.1 0 1 0 10.2 0a5.1 5.1 0 1 0 -10.2 0M1374 1523.3a5.1 5.1 0 1 0 10.2 0a5.1 5.1 0 1 0 -10.2 0M1249.6 1534.9a5.1 5.1 0 1 0 10.2 0a5.1 5.1 0 1 0 -10.2 0M1372.8 1531a5.1 5.1 0 1 0 10.2 0a5.1 5.1 0 1 0 -10.2 0M1372.8 1537.4a5.1 5.1 0 1 0 10.2 0a5.1 5.1 0 1 0 -10.2 0M1372.8 1510.5a5.1 5.1 0 1 0 10.2 0a5.1 5.1 0 1 0 -10.2 0M1335.4 1450.5a5.1 5.1 0 1 0 10.2 0a5.1 5.1 0 1 0 -10.2 0M1342.4 1449a5.1 5.1 0 1 0 10.2 0a5.1 5.1 0 1 0 -10.2 0M1355.7 1448.1a5.1 5.1 0 1 0 10.2 0a5.1 5.1 0 1 0 -10.2 0M1338.1 1454.2a5.1 5.1 0 1 0 10.2 0a5.1 5.1 0 1 0 -10.2 0M1350.3 1452.6a5.1 5.1 0 1 0 10.2 0a5.1 5.1 0 1 0 -10.2 0M1354.5 1454.8a5.1 5.1 0 1 0 10.2 0a5.1 5.1 0 1 0 -10.2 0M1360.5 1452.7a5.1 5.1 0 1 0 10.2 0a5.1 5.1 0 1 0 -10.2 0M1331.9 1459.3a5.1 5.1 0 1 0 10.2 0a5.1 5.1 0 1 0 -10.2 0M1340.1 1459.7a5.1 5.1 0 1 0 10.2 0a5.1 5.1 0 1 0 -10.2 0M1345.2 1457.1a5.1 5.1 0 1 0 10.2 0a5.1 5.1 0 1 0 -10.2 0M1356.2 1458.1a5.1 5.1 0 1 0 10.2 0a5.1 5.1 0 1 0 -10.2 0M1329.6 1463a5.1 5.1 0 1 0 10.2 0a5.1 5.1 0 1 0 -10.2 0M1338 1463.6a5.1 5.1 0 1 0 10.2 0a5.1 5.1 0 1 0 -10.2 0M1344 1462.2a5.1 5.1 0 1 0 10.2 0a5.1 5.1 0 1 0 -10.2 0M1348.5 1464.3a5.1 5.1 0 1 0 10.2 0a5.1 5.1 0 1 0 -10.2 0M1360.6 1462.6a5.1 5.1 0 1 0 10.2 0a5.1 5.1 0 1 0 -10.2 0M1326.6 1467.8a5.1 5.1 0 1 0 10.2 0a5.1 5.1 0 1 0 -10.2 0M1332 1467.2a5.1 5.1 0 1 0 10.2 0a5.1 5.1 0 1 0 -10.2 0M1335.8 1467.7a5.1 5.1 0 1 0 10.2 0a5.1 5.1 0 1 0 -10.2 0M1347.3 1467.3a5.1 5.1 0 1 0 10.2 0a5.1 5.1 0 1 0 -10.2 0M1351.1 1468.6a5.1 5.1 0 1 0 10.2 0a5.1 5.1 0 1 0 -10.2 0M1321.6 1472.9a5.1 5.1 0 1 0 10.2 0a5.1 5.1 0 1 0 -10.2 0M1333.3 1471.7a5.1 5.1 0 1 0 10.2 0a5.1 5.1 0 1 0 -10.2 0M1340.1 1470.5a5.1 5.1 0 1 0 10.2 0a5.1 5.1 0 1 0 -10.2 0M1344.3 1470.9a5.1 5.1 0 1 0 10.2 0a5.1 5.1 0 1 0 -10.2 0M1354.9 1472a5.1 5.1 0 1 0 10.2 0a5.1 5.1 0 1 0 -10.2 0M1360.3 1473a5.1 5.1 0 1 0 10.2 0a5.1 5.1 0 1 0 -10.2 0M1321.1 1476.7a5.1 5.1 0 1 0 10.2 0a5.1 5.1 0 1 0 -10.2 0M1326.2 1476.9a5.1 5.1 0 1 0 10.2 0a5.1 5.1 0 1 0 -10.2 0M1330.6 1477.7a5.1 5.1 0 1 0 10.2 0a5.1 5.1 0 1 0 -10.2 0M1342.4 1477.6a5.1 5.1 0 1 0 10.2 0a5.1 5.1 0 1 0 -10.2 0M1356.2 1477.1a5.1 5.1 0 1 0 10.2 0a5.1 5.1 0 1 0 -10.2 0M1365.7 1476.2a5.1 5.1 0 1 0 10.2 0a5.1 5.1 0 1 0 -10.2 0M1372.8 1477.2a5.1 5.1 0 1 0 10.2 0a5.1 5.1 0 1 0 -10.2 0M1327.9 1482.2a5.1 5.1 0 1 0 10.2 0a5.1 5.1 0 1 0 -10.2 0M1333.6 1482.2a5.1 5.1 0 1 0 10.2 0a5.1 5.1 0 1 0 -10.2 0M1337.8 1480.6a5.1 5.1 0 1 0 10.2 0a5.1 5.1 0 1 0 -10.2 0M1348 1480.3a5.1 5.1 0 1 0 10.2 0a5.1 5.1 0 1 0 -10.2 0M1352.7 1481.7a5.1 5.1 0 1 0 10.2 0a5.1 5.1 0 1 0 -10.2 0M1358.7 1482.1a5.1 5.1 0 1 0 10.2 0a5.1 5.1 0 1 0 -10.2 0M1365.4 1482.5a5.1 5.1 0 1 0 10.2 0a5.1 5.1 0 1 0 -10.2 0M1370.5 1482.2a5.1 5.1 0 1 0 10.2 0a5.1 5.1 0 1 0 -10.2 0M1316 1487.1a5.1 5.1 0 1 0 10.2 0a5.1 5.1 0 1 0 -10.2 0M1321.9 1486.9a5.1 5.1 0 1 0 10.2 0a5.1 5.1 0 1 0 -10.2 0M1326.8 1485.8a5.1 5.1 0 1 0 10.2 0a5.1 5.1 0 1 0 -10.2 0M1341.3 1484a5.1 5.1 0 1 0 10.2 0a5.1 5.1 0 1 0 -10.2 0M1346.4 1485.1a5.1 5.1 0 1 0 10.2 0a5.1 5.1 0 1 0 -10.2 0M1352 1484.8a5.1 5.1 0 1 0 10.2 0a5.1 5.1 0 1 0 -10.2 0M1356.6 1485.3a5.1 5.1 0 1 0 10.2 0a5.1 5.1 0 1 0 -10.2 0M1363.5 1485.6a5.1 5.1 0 1 0 10.2 0a5.1 5.1 0 1 0 -10.2 0M1373.2 1486.3a5.1 5.1 0 1 0 10.2 0a5.1 5.1 0 1 0 -10.2 0M1316.5 1490.2a5.1 5.1 0 1 0 10.2 0a5.1 5.1 0 1 0 -10.2 0M1321.6 1490.6a5.1 5.1 0 1 0 10.2 0a5.1 5.1 0 1 0 -10.2 0M1327.5 1489.2a5.1 5.1 0 1 0 10.2 0a5.1 5.1 0 1 0 -10.2 0M1334.1 1489.4a5.1 5.1 0 1 0 10.2 0a5.1 5.1 0 1 0 -10.2 0M1338.1 1489.2a5.1 5.1 0 1 0 10.2 0a5.1 5.1 0 1 0 -10.2 0M1345.4 1490.4a5.1 5.1 0 1 0 10.2 0a5.1 5.1 0 1 0 -10.2 0M1348.8 1489a5.1 5.1 0 1 0 10.2 0a5.1 5.1 0 1 0 -10.2 0M1353.2 1489.2a5.1 5.1 0 1 0 10.2 0a5.1 5.1 0 1 0 -10.2 0M1365.2 1489.8a5.1 5.1 0 1 0 10.2 0a5.1 5.1 0 1 0 -10.2 0M1303.5 1494.4a5.1 5.1 0 1 0 10.2 0a5.1 5.1 0 1 0 -10.2 0M1309.1 1494.5a5.1 5.1 0 1 0 10.2 0a5.1 5.1 0 1 0 -10.2 0M1316.4 1493.9a5.1 5.1 0 1 0 10.2 0a5.1 5.1 0 1 0 -10.2 0M1320.3 1494.3a5.1 5.1 0 1 0 10.2 0a5.1 5.1 0 1 0 -10.2 0M1326.9 1493a5.1 5.1 0 1 0 10.2 0a5.1 5.1 0 1 0 -10.2 0M1337.5 1495.9a5.1 5.1 0 1 0 10.2 0a5.1 5.1 0 1 0 -10.2 0M1341.3 1494.8a5.1 5.1 0 1 0 10.2 0a5.1 5.1 0 1 0 -10.2 0M1347.5 1496.1a5.1 5.1 0 1 0 10.2 0a5.1 5.1 0 1 0 -10.2 0M1351.4 1493.2a5.1 5.1 0 1 0 10.2 0a5.1 5.1 0 1 0 -10.2 0M1357.9 1495a5.1 5.1 0 1 0 10.2 0a5.1 5.1 0 1 0 -10.2 0M1363.6 1495.8a5.1 5.1 0 1 0 10.2 0a5.1 5.1 0 1 0 -10.2 0M1368.6 1495.5a5.1 5.1 0 1 0 10.2 0a5.1 5.1 0 1 0 -10.2 0M1306.2 1498.4a5.1 5.1 0 1 0 10.2 0a5.1 5.1 0 1 0 -10.2 0M1313 1497.5a5.1 5.1 0 1 0 10.2 0a5.1 5.1 0 1 0 -10.2 0M1333.6 1498.8a5.1 5.1 0 1 0 10.2 0a5.1 5.1 0 1 0 -10.2 0M1344.2 1499.1a5.1 5.1 0 1 0 10.2 0a5.1 5.1 0 1 0 -10.2 0M1359.1 1499.6a5.1 5.1 0 1 0 10.2 0a5.1 5.1 0 1 0 -10.2 0M1740.4 1092.3a5.1 5.1 0 1 0 10.2 0a5.1 5.1 0 1 0 -10.2 0M1540.8 1133.7a5.1 5.1 0 1 0 10.2 0a5.1 5.1 0 1 0 -10.2 0M1551.3 1150.7a5.1 5.1 0 1 0 10.2 0a5.1 5.1 0 1 0 -10.2 0M1561 1170.9a5.1 5.1 0 1 0 10.2 0a5.1 5.1 0 1 0 -10.2 0M1702 1176.2a5.1 5.1 0 1 0 10.2 0a5.1 5.1 0 1 0 -10.2 0M1453.5 1193.7a5.1 5.1 0 1 0 10.2 0a5.1 5.1 0 1 0 -10.2 0M1667.5 1199.8a5.1 5.1 0 1 0 10.2 0a5.1 5.1 0 1 0 -10.2 0M1568.3 1208.3a5.1 5.1 0 1 0 10.2 0a5.1 5.1 0 1 0 -10.2 0M1574.4 1215.6a5.1 5.1 0 1 0 10.2 0a5.1 5.1 0 1 0 -10.2 0M1547.9 1217.5a5.1 5.1 0 1 0 10.2 0a5.1 5.1 0 1 0 -10.2 0M1536.2 1221a5.1 5.1 0 1 0 10.2 0a5.1 5.1 0 1 0 -10.2 0M1598.9 1253.8a5.1 5.1 0 1 0 10.2 0a5.1 5.1 0 1 0 -10.2 0M1643.7 1252.8a5.1 5.1 0 1 0 10.2 0a5.1 5.1 0 1 0 -10.2 0M1368.9 1255.2a5.1 5.1 0 1 0 10.2 0a5.1 5.1 0 1 0 -10.2 0M1375.3 1288.1a5.1 5.1 0 1 0 10.2 0a5.1 5.1 0 1 0 -10.2 0M1386.6 1568.1a5.1 5.1 0 1 0 10.2 0a5.1 5.1 0 1 0 -10.2 0M1372.1 1592.1a5.1 5.1 0 1 0 10.2 0a5.1 5.1 0 1 0 -10.2 0M1351.6 1555.3a5.1 5.1 0 1 0 10.2 0a5.1 5.1 0 1 0 -10.2 0M1345.2 1553.4a5.1 5.1 0 1 0 10.2 0a5.1 5.1 0 1 0 -10.2 0M1369.6 1542.5a5.1 5.1 0 1 0 10.2 0a5.1 5.1 0 1 0 -10.2 0" fill="#000"/>
</g>
<rect x="1106.3" y="961.4" width="764.3" height="788.6" fill="none" stroke="#333333" stroke-width="2.1"/>
<text x="1140.7" y="1794.6" text-anchor="middle" class="tk">0</text>
<text x="1279.7" y="1794.6" text-anchor="middle" class="tk">1</text>
<text x="1418.8" y="1794.6" text-anchor="middle" class="tk">2</text>
<text x="1557.8" y="1794.6" text-anchor="middle" class="tk">3</text>
<text x="1696.9" y="1794.6" text-anchor="middle" class="tk">4</text>
<text x="1835.9" y="1794.6" text-anchor="middle" class="tk">5</text>
<text x="1087.3" y="1727.4" text-anchor="end" class="tk">0</text>
<text x="1087.3" y="1583.9" text-anchor="end" class="tk">1</text>
<text x="1087.3" y="1440.3" text-anchor="end" class="tk">2</text>
<text x="1087.3" y="1296.8" text-anchor="end" class="tk">3</text>
<text x="1087.3" y="1153.2" text-anchor="end" class="tk">4</text>
<text x="1087.3" y="1009.7" text-anchor="end" class="tk">5</text>
<path d="M1140.7 1750v11.4M1279.7 1750v11.4M1418.8 1750v11.4M1557.8 1750v11.4M1696.9 1750v11.4M1835.9 1750v11.4M1106.3 1714.4h-11.8M1106.3 1570.9h-11.8M1106.3 1427.3h-11.8M1106.3 1283.8h-11.8M1106.3 1140.2h-11.8M1106.3 996.7h-11.8" stroke="#333333" stroke-width="3" fill="none"/>
<text x="1140.5" y="1027.4" class="an">R² = 0.75</text>
<text x="1140.5" y="1099.2" class="an">RMSE = 0.3</text>
<text x="1140.5" y="1171.1" class="an">%RMSE = 6.6</text>
<text x="1140.5" y="1243" class="an">N comp = 25</text>
<text x="960.1" y="998.8" class="lb">(d)</text>
</g>
<text x="552.6" y="903.8" text-anchor="middle" class="tt">Predicted <tspan font-style="italic">V</tspan><tspan font-size="28.0" dx="3.5" dy="7.5">cmax25</tspan></text>
<text transform="translate(70.9 419.1) rotate(-90)" text-anchor="middle" class="tt">Observed <tspan font-style="italic">V</tspan><tspan font-size="28.0" dx="3.5" dy="7.5">cmax25</tspan></text>
<text x="1488.4" y="903.8" text-anchor="middle" class="tt">Predicted <tspan font-style="italic">J</tspan><tspan font-size="28.0" dx="3.5" dy="7.5">max25</tspan></text>
<text transform="translate(1006.3 419.1) rotate(-90)" text-anchor="middle" class="tt">Observed <tspan font-style="italic">J</tspan><tspan font-size="28.0" dx="3.5" dy="7.5">max25</tspan></text>
<text x="552.6" y="1840.4" text-anchor="middle" class="tt">Predicted <tspan font-style="italic" letter-spacing="3.4" dx="2.8">TP</tspan><tspan font-style="italic">U</tspan><tspan font-size="28.0" dx="5.5" dy="7.5">25</tspan></text>
<text transform="translate(70.9 1355.7) rotate(-90)" text-anchor="middle" class="tt">Observed <tspan font-style="italic" letter-spacing="3.4" dx="2.8">TP</tspan><tspan font-style="italic">U</tspan><tspan font-size="28.0" dx="5.5" dy="7.5">25</tspan></text>
<text x="1488.4" y="1840.4" text-anchor="middle" class="tt">Predicted <tspan font-style="italic">R</tspan><tspan font-size="28.0" dx="3.5" dy="7.5">dark25</tspan></text>
<text transform="translate(1006.3 1355.7) rotate(-90)" text-anchor="middle" class="tt">Observed <tspan font-style="italic">R</tspan><tspan font-size="28.0" dx="3.5" dy="7.5">dark25</tspan></text>
</svg>
</body></html>
